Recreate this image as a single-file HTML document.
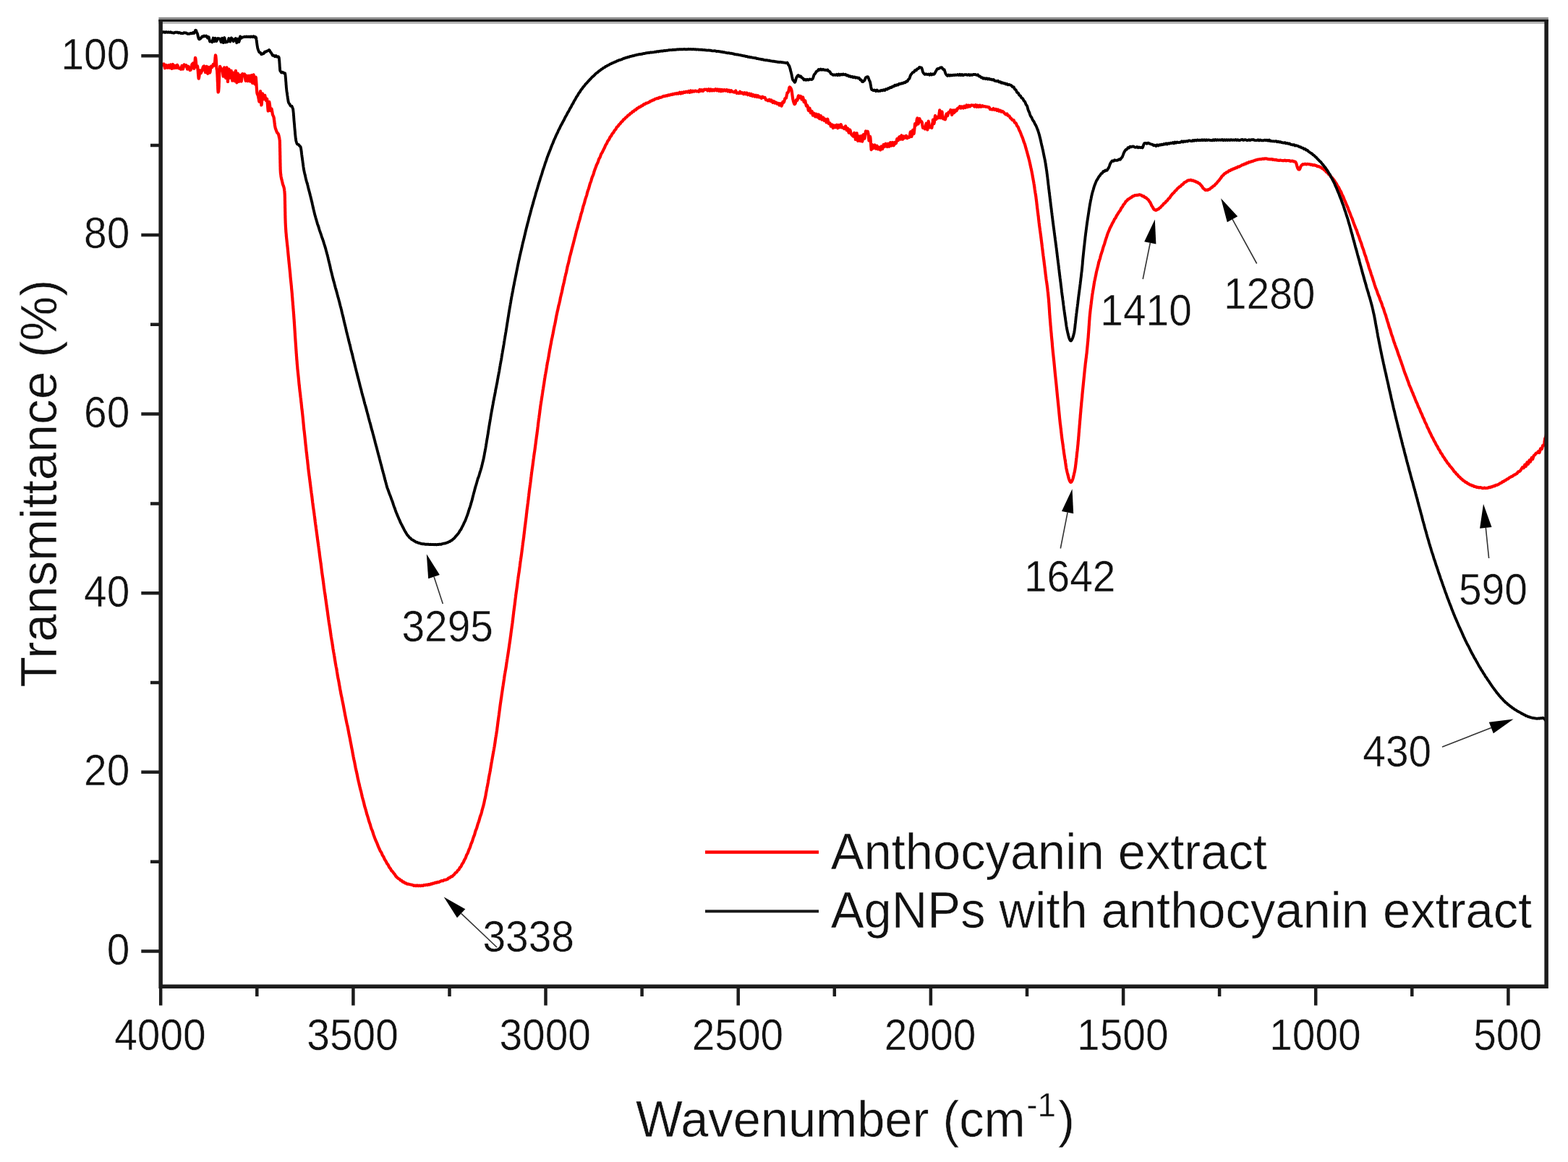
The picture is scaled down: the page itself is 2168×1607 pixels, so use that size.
<!DOCTYPE html>
<html lang="en"><head><meta charset="utf-8"><title>FTIR spectra</title>
<style>html,body{margin:0;padding:0;background:#fff;}svg{display:block;filter:blur(0.55px);}text{font-family:"Liberation Sans", Arial, Helvetica, sans-serif;fill:#111111;stroke:#fff;stroke-width:0.5px;}</style></head><body>
<svg width="2168" height="1607" viewBox="0 0 2168 1607">
<rect x="0" y="0" width="2168" height="1607" fill="#ffffff"/>
<g>
<text transform="translate(221.4,1452.0) scale(0.94,1)" font-size="60.5px" text-anchor="middle">4000</text>
<text transform="translate(487.6,1452.0) scale(0.94,1)" font-size="60.5px" text-anchor="middle">3500</text>
<text transform="translate(753.7,1452.0) scale(0.94,1)" font-size="60.5px" text-anchor="middle">3000</text>
<text transform="translate(1019.9,1452.0) scale(0.94,1)" font-size="60.5px" text-anchor="middle">2500</text>
<text transform="translate(1286.1,1452.0) scale(0.94,1)" font-size="60.5px" text-anchor="middle">2000</text>
<text transform="translate(1552.3,1452.0) scale(0.94,1)" font-size="60.5px" text-anchor="middle">1500</text>
<text transform="translate(1818.4,1452.0) scale(0.94,1)" font-size="60.5px" text-anchor="middle">1000</text>
<text transform="translate(2084.6,1452.0) scale(0.94,1)" font-size="60.5px" text-anchor="middle">500</text>
<text transform="translate(179.3,1333.9) scale(0.94,1)" font-size="60.5px" text-anchor="end">0</text>
<text transform="translate(179.3,1086.2) scale(0.94,1)" font-size="60.5px" text-anchor="end">20</text>
<text transform="translate(179.3,838.6) scale(0.94,1)" font-size="60.5px" text-anchor="end">40</text>
<text transform="translate(179.3,590.9) scale(0.94,1)" font-size="60.5px" text-anchor="end">60</text>
<text transform="translate(179.3,343.3) scale(0.94,1)" font-size="60.5px" text-anchor="end">80</text>
<text transform="translate(179.3,95.6) scale(0.94,1)" font-size="60.5px" text-anchor="end">100</text>
<text transform="translate(555.5,886.5) scale(0.94,1)" font-size="60.5px" text-anchor="start">3295</text>
<text transform="translate(667.5,1315.5) scale(0.94,1)" font-size="60.5px" text-anchor="start">3338</text>
<text transform="translate(1416.0,818.0) scale(0.94,1)" font-size="60.5px" text-anchor="start">1642</text>
<text transform="translate(1521.3,450.3) scale(0.94,1)" font-size="60.5px" text-anchor="start">1410</text>
<text transform="translate(1692.0,427.0) scale(0.94,1)" font-size="60.5px" text-anchor="start">1280</text>
<text transform="translate(2017.0,835.5) scale(0.94,1)" font-size="60.5px" text-anchor="start">590</text>
<text transform="translate(1884.3,1059.5) scale(0.94,1)" font-size="60.5px" text-anchor="start">430</text>
<text transform="translate(879.0,1571.5) scale(0.98,1)" font-size="70.0px" text-anchor="start">Wavenumber (cm<tspan font-size="47px" dy="-27.5" dx="1.5">-1</tspan><tspan dy="27.5" dx="3">)</tspan></text>
<text transform="translate(78.0,668.6) rotate(-90) scale(0.991,1)" font-size="70.0px" text-anchor="middle">Transmittance (%)</text>
<text transform="translate(1148.8,1202.0) scale(0.981,1)" font-size="70.0px" text-anchor="start">Anthocyanin extract</text>
<text transform="translate(1148.8,1283.0) scale(0.981,1)" font-size="70.0px" text-anchor="start">AgNPs with anthocyanin extract</text>
</g>
<clipPath id="pc"><rect x="222.15" y="28.4" width="1915.9499999999998" height="1335.85"/></clipPath>
<g clip-path="url(#pc)" fill="none" stroke-linejoin="round" stroke-linecap="butt">
<path d="M222.0,90.2 L222.5,89.6 L223.0,88.9 L223.5,88.3 L224.0,88.7 L224.5,89.3 L225.0,89.8 L226.0,89.1 L226.5,88.6 L227.0,89.9 L227.5,92.1 L228.0,94.3 L229.0,92.0 L229.5,90.0 L230.5,91.5 L231.0,93.3 L231.5,93.8 L232.0,92.4 L232.5,91.0 L233.0,90.3 L233.5,91.6 L234.0,93.0 L234.5,93.8 L235.0,92.2 L235.5,90.7 L236.0,89.4 L236.5,91.2 L237.0,93.1 L237.5,94.9 L238.0,93.0 L238.5,91.0 L239.0,89.0 L239.5,90.4 L240.0,92.2 L240.5,94.1 L241.0,93.5 L241.5,92.2 L242.0,90.8 L242.5,91.2 L243.0,92.6 L243.5,93.9 L244.0,93.5 L244.5,91.6 L245.0,89.8 L246.0,91.4 L246.5,93.3 L247.0,94.4 L248.0,94.1 L249.0,94.8 L249.5,95.5 L250.0,95.8 L250.5,94.1 L251.0,92.4 L251.5,90.9 L252.0,92.4 L252.5,94.0 L253.0,95.5 L253.5,93.6 L254.0,91.5 L254.5,89.4 L255.0,89.7 L255.5,90.5 L256.0,91.3 L257.0,90.7 L257.5,90.2 L258.0,91.4 L258.5,93.5 L259.0,95.6 L260.0,93.7 L260.5,91.8 L261.5,93.7 L262.0,95.8 L262.5,97.1 L263.5,96.7 L264.0,96.0 L264.5,93.7 L265.0,91.4 L265.4,89.2 L265.9,88.6 L266.4,88.0 L266.9,87.4 L267.4,89.7 L267.9,92.3 L268.2,94.1 L268.4,94.8 L268.7,93.1 L268.8,91.9 L268.9,90.8 L269.0,89.7 L269.1,88.6 L269.3,87.5 L269.4,86.4 L269.5,85.3 L269.6,84.2 L269.7,83.0 L269.8,81.8 L269.9,80.5 L270.1,79.9 L270.4,81.0 L270.7,83.4 L270.9,84.9 L271.0,86.2 L271.1,87.4 L271.2,88.5 L271.3,89.6 L271.4,90.7 L271.5,91.8 L271.6,92.6 L272.0,92.1 L272.4,91.5 L273.0,91.3 L273.3,92.8 L273.4,93.7 L273.4,94.7 L273.5,95.7 L273.6,96.7 L273.7,97.7 L273.8,98.8 L273.9,99.8 L273.9,100.8 L274.0,101.9 L274.1,102.9 L274.2,104.0 L274.3,105.1 L274.4,106.3 L274.5,107.5 L274.7,108.7 L275.0,107.9 L275.2,106.8 L275.6,104.3 L275.8,102.2 L276.0,100.8 L276.1,99.5 L276.2,98.3 L276.3,97.3 L276.6,97.9 L277.0,98.5 L277.3,99.2 L277.5,99.8 L277.8,101.2 L278.2,100.3 L278.7,99.1 L279.2,98.1 L279.7,96.5 L280.2,94.7 L280.7,92.9 L281.2,91.9 L282.1,91.5 L282.6,92.5 L283.1,95.4 L283.6,98.4 L284.1,100.1 L284.6,97.2 L285.1,94.2 L285.6,91.9 L286.1,95.2 L286.6,98.5 L287.1,101.8 L287.6,99.1 L288.1,95.9 L288.5,92.8 L289.0,94.5 L289.5,97.6 L290.0,100.7 L290.5,99.6 L291.0,96.1 L291.5,92.7 L292.0,91.6 L292.5,92.5 L293.0,93.3 L293.9,92.1 L294.2,90.8 L294.6,89.6 L294.9,88.8 L295.6,89.8 L296.1,90.5 L296.6,89.8 L296.7,88.9 L296.8,88.1 L296.9,87.4 L297.0,86.0 L297.2,84.6 L297.3,83.2 L297.4,81.9 L297.5,80.5 L297.6,79.2 L297.8,77.8 L297.9,76.4 L298.3,77.1 L298.5,78.9 L298.7,81.0 L298.8,82.4 L298.9,83.6 L299.0,84.7 L299.0,85.7 L299.1,86.7 L299.1,87.7 L299.2,88.6 L299.2,89.5 L299.3,90.4 L299.3,91.3 L299.4,92.1 L299.4,93.0 L299.5,93.9 L299.5,94.7 L299.7,95.4 L299.8,96.1 L300.0,96.8 L300.1,97.7 L300.2,98.5 L300.2,99.4 L300.3,100.4 L300.3,101.4 L300.4,102.4 L300.5,103.5 L300.5,104.6 L300.6,105.6 L300.6,106.7 L300.7,107.8 L300.7,108.9 L300.7,110.0 L300.8,111.0 L300.8,112.1 L300.9,113.2 L301.0,114.2 L301.0,115.2 L301.1,116.6 L301.1,118.0 L301.2,119.5 L301.2,121.1 L301.2,121.9 L301.3,122.7 L301.3,123.7 L301.4,124.7 L301.5,126.1 L301.6,127.5 L302.0,126.9 L302.2,126.1 L302.3,125.1 L302.3,124.4 L302.4,123.6 L302.5,122.8 L302.5,122.0 L302.6,121.1 L302.7,119.6 L302.7,118.1 L302.7,117.3 L302.7,116.5 L302.8,115.7 L302.8,115.0 L302.8,114.2 L302.9,113.4 L302.9,112.6 L302.9,111.8 L302.9,111.0 L303.0,110.1 L303.0,109.3 L303.0,108.5 L303.1,107.6 L303.1,106.7 L303.1,105.8 L303.2,104.9 L303.2,103.9 L303.3,102.8 L303.3,101.7 L303.4,100.3 L303.7,96.2 L304.2,91.8 L304.7,93.0 L305.2,94.3 L305.7,95.5 L306.7,95.3 L307.7,98.5 L308.2,102.1 L308.7,105.6 L309.2,102.9 L309.7,98.2 L310.1,93.4 L310.6,94.8 L311.1,100.6 L311.6,106.4 L312.1,107.8 L312.6,102.3 L313.1,96.8 L313.5,93.4 L314.0,100.0 L314.5,106.5 L315.0,113.0 L315.4,108.0 L315.9,101.8 L316.4,95.6 L316.9,96.5 L317.3,101.2 L317.8,106.0 L318.3,107.6 L318.8,104.0 L319.2,100.4 L319.7,97.9 L320.2,102.5 L320.7,107.0 L321.2,111.6 L321.6,108.5 L322.1,104.5 L322.6,100.6 L323.1,102.5 L323.5,107.1 L324.0,111.8 L324.5,112.1 L325.0,106.7 L325.5,101.3 L325.9,97.9 L326.4,103.3 L326.9,108.8 L327.4,114.3 L327.9,110.4 L328.3,105.9 L328.8,101.5 L329.3,103.7 L329.8,108.3 L330.3,112.9 L331.2,109.3 L331.7,105.5 L332.2,104.0 L332.7,107.2 L333.2,110.4 L333.7,112.5 L334.2,109.0 L334.7,105.5 L335.2,102.1 L335.7,102.6 L336.2,103.2 L336.7,103.8 L337.1,103.4 L337.6,102.9 L338.1,102.4 L338.6,105.0 L339.1,108.4 L339.6,111.8 L340.1,110.8 L340.6,107.7 L341.1,104.6 L341.6,105.2 L342.1,108.6 L342.6,112.1 L343.6,109.1 L344.1,105.8 L344.6,104.8 L345.1,107.9 L345.6,111.0 L346.1,112.6 L346.6,109.4 L347.1,106.3 L347.6,104.1 L348.1,107.7 L348.6,111.3 L349.1,114.9 L349.6,111.1 L350.1,107.1 L350.6,103.3 L351.0,106.3 L351.5,110.8 L351.9,115.1 L352.4,116.3 L352.8,112.9 L353.1,110.0 L353.3,108.4 L353.5,107.4 L353.6,106.6 L353.9,107.7 L354.0,109.2 L354.1,110.6 L354.2,112.0 L354.3,113.4 L354.4,114.8 L354.5,116.1 L354.6,117.4 L354.6,118.7 L354.7,120.0 L354.8,121.3 L354.9,122.7 L355.0,124.0 L355.1,125.3 L355.2,126.6 L355.3,128.0 L355.5,129.0 L355.7,129.8 L355.9,130.4 L356.2,131.0 L356.6,131.6 L356.9,132.2 L357.0,133.2 L357.2,134.1 L357.4,135.0 L357.5,136.0 L357.7,136.9 L357.9,137.8 L358.0,138.8 L358.2,139.7 L358.4,140.7 L358.6,139.2 L358.8,137.5 L358.9,135.7 L359.1,133.9 L359.3,132.0 L359.5,130.0 L359.7,128.0 L360.0,126.0 L360.2,129.0 L360.4,132.1 L360.6,135.2 L360.9,138.5 L361.1,141.9 L361.4,145.5 L361.7,144.5 L362.0,141.1 L362.3,137.4 L362.7,133.5 L363.0,129.4 L363.4,130.8 L363.8,132.9 L364.1,135.0 L364.5,137.1 L364.9,136.2 L365.3,134.7 L365.8,133.2 L366.2,131.8 L366.6,133.7 L367.0,135.6 L367.4,137.4 L367.8,138.9 L368.1,138.3 L368.5,137.8 L368.9,137.2 L369.2,136.7 L369.6,140.8 L370.0,145.1 L370.3,149.4 L370.7,153.5 L371.0,152.8 L371.4,149.7 L371.7,146.6 L372.0,143.7 L372.3,140.9 L372.6,142.4 L372.9,144.7 L373.2,146.9 L373.4,149.0 L373.7,151.2 L373.9,152.9 L374.4,151.9 L374.9,151.0 L375.3,150.3 L375.7,151.1 L375.8,152.0 L376.0,153.0 L376.2,154.0 L376.3,154.9 L376.5,155.9 L376.7,156.8 L376.8,157.7 L377.0,158.6 L377.2,159.2 L377.7,160.0 L378.0,160.8 L378.3,161.3 L378.5,162.0 L378.7,163.0 L378.8,164.2 L379.0,165.4 L379.2,166.7 L379.3,167.9 L379.5,169.1 L379.6,170.3 L379.8,171.5 L379.9,172.8 L380.1,174.0 L380.3,174.8 L380.4,175.6 L380.6,176.4 L380.8,177.2 L381.0,178.0 L381.3,178.8 L381.6,179.4 L381.9,180.5 L382.4,181.6 L382.6,182.2 L382.9,182.8 L383.1,183.4 L383.7,183.9 L384.2,184.4 L384.7,185.0 L385.1,186.1 L385.4,187.3 L385.7,188.4 L385.9,189.6 L386.2,190.7 L386.4,191.7 L386.5,192.6 L386.7,193.5 L386.8,194.4 L386.8,195.4 L386.9,196.4 L386.9,197.3 L386.9,198.3 L386.9,199.3 L387.0,200.3 L387.0,201.3 L387.0,202.3 L387.0,203.2 L387.0,204.2 L387.1,205.2 L387.1,206.2 L387.1,207.2 L387.1,208.2 L387.1,209.2 L387.2,210.1 L387.2,211.1 L387.2,212.1 L387.2,213.1 L387.2,214.1 L387.3,215.1 L387.3,216.1 L387.3,217.1 L387.3,218.0 L387.3,219.0 L387.3,220.0 L387.4,221.0 L387.4,222.0 L387.4,223.0 L387.4,224.0 L387.4,225.0 L387.5,225.9 L387.5,226.9 L387.5,227.9 L387.5,228.9 L387.5,229.9 L387.6,230.9 L387.6,231.9 L387.6,232.8 L387.6,233.8 L387.7,234.8 L387.7,235.8 L387.8,236.7 L387.8,237.7 L387.9,238.7 L388.0,239.7 L388.1,240.7 L388.3,241.7 L388.4,242.8 L388.5,243.8 L388.7,244.8 L388.9,245.8 L389.1,246.9 L389.3,247.9 L389.6,248.9 L389.9,249.9 L390.1,251.0 L390.4,252.0 L390.6,253.0 L390.8,254.1 L391.1,255.1 L391.4,255.9 L391.7,256.7 L392.0,257.6 L392.3,258.4 L392.6,259.3 L392.8,260.3 L393.0,261.3 L393.1,262.3 L393.2,263.3 L393.4,264.3 L393.5,265.3 L393.5,266.2 L393.6,267.2 L393.7,268.2 L393.7,269.2 L393.8,270.2 L393.8,271.2 L393.8,272.2 L393.9,273.2 L393.9,274.2 L393.9,275.2 L393.9,276.2 L393.9,277.2 L394.0,278.2 L394.0,279.2 L394.0,280.2 L394.0,281.2 L394.0,282.2 L394.1,283.2 L394.1,284.2 L394.1,285.2 L394.1,286.3 L394.1,287.3 L394.2,288.3 L394.2,289.3 L394.2,290.3 L394.2,291.3 L394.2,292.3 L394.3,293.3 L394.3,294.3 L394.3,295.3 L394.3,296.3 L394.3,297.4 L394.4,298.4 L394.4,299.4 L394.4,300.4 L394.4,301.4 L394.5,302.4 L394.5,303.4 L394.5,304.4 L394.6,305.5 L394.6,306.5 L394.6,307.5 L394.7,308.5 L394.7,309.5 L394.8,310.6 L394.8,311.6 L394.9,312.6 L394.9,313.6 L395.0,314.7 L395.1,315.7 L395.1,316.7 L395.2,317.7 L395.3,318.8 L395.3,319.8 L395.4,320.8 L395.5,321.9 L395.6,322.9 L395.7,323.9 L395.8,324.8 L395.8,325.8 L395.9,326.7 L396.0,327.6 L396.1,328.6 L396.2,329.5 L396.3,330.4 L396.4,331.4 L396.5,332.3 L396.6,333.3 L396.7,334.2 L396.8,335.1 L396.9,336.1 L397.0,337.0 L397.1,337.9 L397.2,339.0 L397.3,340.0 L397.5,341.1 L397.6,342.2 L397.7,343.2 L397.8,344.3 L397.9,345.3 L398.0,346.4 L398.1,347.5 L398.2,348.5 L398.3,349.6 L398.4,350.6 L398.5,351.7 L398.6,352.8 L398.7,353.8 L398.8,354.8 L398.9,355.8 L399.0,356.8 L399.1,357.8 L399.2,358.8 L399.3,359.8 L399.4,360.7 L399.5,361.7 L399.6,362.7 L399.7,363.7 L399.8,364.7 L399.9,365.6 L400.0,366.6 L400.1,367.6 L400.2,368.6 L400.3,369.6 L400.4,370.6 L400.5,371.6 L400.6,372.6 L400.7,373.5 L400.8,374.5 L400.9,375.5 L401.0,376.5 L401.1,377.5 L401.2,378.5 L401.3,379.5 L401.4,380.5 L401.4,381.5 L401.5,382.5 L401.6,383.5 L401.7,384.5 L401.8,385.5 L401.9,386.4 L402.0,387.4 L402.1,388.3 L402.2,389.3 L402.3,390.2 L402.4,391.2 L402.5,392.1 L402.6,393.1 L402.7,394.1 L402.8,395.0 L402.9,396.0 L403.0,396.9 L403.0,397.9 L403.1,398.8 L403.2,399.8 L403.3,400.8 L403.4,401.8 L403.5,402.8 L403.6,403.9 L403.7,404.9 L403.8,405.9 L403.9,407.0 L403.9,408.0 L404.0,409.1 L404.1,410.1 L404.2,411.2 L404.3,412.2 L404.4,413.2 L404.4,414.3 L404.5,415.3 L404.6,416.4 L404.7,417.4 L404.8,418.4 L404.9,419.5 L404.9,420.5 L405.0,421.4 L405.1,422.4 L405.2,423.3 L405.3,424.3 L405.3,425.3 L405.4,426.2 L405.5,427.2 L405.6,428.1 L405.6,429.1 L405.7,430.1 L405.8,431.0 L405.9,432.0 L405.9,432.9 L406.0,433.9 L406.1,434.8 L406.2,435.8 L406.2,436.8 L406.3,437.7 L406.4,438.7 L406.4,439.6 L406.5,440.7 L406.6,441.7 L406.7,442.7 L406.7,443.7 L406.8,444.8 L406.9,445.8 L406.9,446.8 L407.0,447.9 L407.1,448.9 L407.1,449.9 L407.2,450.9 L407.3,452.0 L407.3,453.0 L407.4,454.0 L407.5,455.0 L407.5,456.1 L407.6,457.1 L407.7,458.1 L407.7,459.1 L407.8,460.2 L407.9,461.2 L407.9,462.2 L408.0,463.2 L408.0,464.2 L408.1,465.2 L408.2,466.2 L408.2,467.1 L408.3,468.1 L408.4,469.0 L408.4,470.0 L408.5,471.0 L408.6,471.9 L408.6,472.9 L408.7,473.9 L408.8,474.8 L408.8,475.8 L408.9,476.8 L409.0,477.7 L409.0,478.7 L409.1,479.6 L409.2,480.6 L409.2,481.6 L409.3,482.5 L409.4,483.5 L409.4,484.5 L409.5,485.4 L409.6,486.4 L409.6,487.4 L409.7,488.5 L409.8,489.5 L409.9,490.5 L409.9,491.6 L410.0,492.6 L410.1,493.6 L410.2,494.7 L410.2,495.7 L410.3,496.8 L410.4,497.8 L410.5,498.8 L410.6,499.9 L410.7,500.9 L410.7,501.9 L410.8,503.0 L410.9,504.0 L411.0,505.1 L411.1,506.1 L411.2,507.1 L411.3,508.0 L411.3,509.0 L411.4,509.9 L411.5,510.9 L411.6,511.8 L411.7,512.7 L411.8,513.7 L411.9,514.6 L412.0,515.6 L412.1,516.5 L412.2,517.5 L412.3,518.4 L412.4,519.3 L412.5,520.3 L412.6,521.2 L412.7,522.2 L412.8,523.3 L412.9,524.3 L413.0,525.4 L413.1,526.5 L413.2,527.5 L413.3,528.6 L413.4,529.7 L413.5,530.8 L413.6,531.8 L413.7,532.9 L413.9,534.0 L414.0,535.0 L414.1,536.1 L414.2,537.2 L414.3,538.1 L414.4,539.1 L414.5,540.0 L414.6,540.9 L414.7,541.9 L414.9,542.8 L415.0,543.7 L415.1,544.7 L415.2,545.6 L415.3,546.5 L415.4,547.5 L415.5,548.4 L415.6,549.3 L415.8,550.3 L415.9,551.3 L416.0,552.4 L416.1,553.4 L416.2,554.5 L416.3,555.5 L416.4,556.5 L416.6,557.6 L416.7,558.6 L416.8,559.7 L416.9,560.7 L417.0,561.8 L417.1,562.8 L417.2,563.9 L417.3,564.9 L417.4,565.8 L417.6,566.7 L417.7,567.7 L417.8,568.6 L417.9,569.5 L418.0,570.4 L418.1,571.4 L418.2,572.3 L418.3,573.2 L418.4,574.1 L418.5,575.1 L418.6,576.0 L418.7,576.9 L418.8,577.9 L418.9,578.9 L419.0,580.0 L419.1,581.0 L419.2,582.1 L419.3,583.2 L419.4,584.2 L419.5,585.3 L419.6,586.4 L419.7,587.4 L419.8,588.5 L419.9,589.6 L420.0,590.6 L420.1,591.7 L420.2,592.8 L420.3,593.8 L420.4,594.9 L420.6,595.8 L420.7,596.7 L420.8,597.6 L420.9,598.6 L421.0,599.5 L421.1,600.4 L421.2,601.4 L421.3,602.3 L421.4,603.2 L421.5,604.2 L421.6,605.1 L421.7,606.0 L421.8,607.0 L421.9,607.9 L422.0,608.9 L422.1,609.9 L422.2,611.0 L422.3,612.0 L422.4,613.0 L422.5,614.1 L422.6,615.1 L422.7,616.2 L422.9,617.2 L423.0,618.2 L423.1,619.3 L423.2,620.3 L423.3,621.4 L423.4,622.4 L423.5,623.4 L423.6,624.4 L423.7,625.3 L423.8,626.2 L424.0,627.2 L424.1,628.1 L424.2,629.0 L424.3,630.0 L424.4,630.9 L424.5,631.8 L424.6,632.8 L424.7,633.7 L424.8,634.6 L425.0,635.5 L425.1,636.5 L425.2,637.6 L425.3,638.7 L425.4,639.7 L425.5,640.8 L425.6,641.9 L425.8,643.0 L425.9,644.0 L426.0,645.1 L426.1,646.2 L426.2,647.3 L426.3,648.4 L426.5,649.4 L426.6,650.5 L426.7,651.5 L426.8,652.4 L426.9,653.3 L427.1,654.2 L427.2,655.2 L427.3,656.1 L427.4,657.0 L427.5,657.9 L427.7,658.8 L427.8,659.8 L427.9,660.7 L428.0,661.6 L428.1,662.5 L428.3,663.5 L428.4,664.5 L428.5,665.5 L428.6,666.5 L428.8,667.5 L428.9,668.5 L429.0,669.5 L429.1,670.5 L429.3,671.5 L429.4,672.5 L429.5,673.5 L429.6,674.5 L429.8,675.5 L429.9,676.5 L430.0,677.4 L430.1,678.4 L430.3,679.4 L430.4,680.3 L430.5,681.3 L430.7,682.3 L430.8,683.3 L430.9,684.2 L431.1,685.2 L431.2,686.2 L431.3,687.2 L431.5,688.3 L431.6,689.4 L431.7,690.4 L431.8,691.5 L432.0,692.6 L432.1,693.7 L432.2,694.8 L432.4,695.8 L432.5,696.9 L432.6,698.0 L432.8,699.1 L432.9,700.0 L433.0,701.0 L433.2,701.9 L433.3,702.8 L433.4,703.7 L433.6,704.6 L433.7,705.5 L433.8,706.4 L434.0,707.4 L434.1,708.3 L434.2,709.2 L434.4,710.1 L434.5,711.2 L434.6,712.3 L434.8,713.3 L434.9,714.4 L435.0,715.4 L435.2,716.5 L435.3,717.6 L435.4,718.6 L435.6,719.7 L435.7,720.8 L435.8,721.8 L436.0,722.8 L436.1,723.8 L436.2,724.8 L436.4,725.8 L436.5,726.7 L436.6,727.7 L436.8,728.7 L436.9,729.7 L437.0,730.6 L437.2,731.6 L437.3,732.6 L437.4,733.6 L437.6,734.6 L437.7,735.6 L437.8,736.6 L438.0,737.6 L438.1,738.6 L438.2,739.6 L438.4,740.6 L438.5,741.6 L438.6,742.6 L438.8,743.6 L438.9,744.6 L439.0,745.6 L439.1,746.5 L439.3,747.4 L439.4,748.4 L439.5,749.3 L439.7,750.2 L439.8,751.1 L439.9,752.1 L440.1,753.0 L440.2,753.9 L440.3,754.8 L440.5,755.8 L440.6,756.7 L440.7,757.8 L440.9,758.8 L441.0,759.9 L441.1,760.9 L441.3,761.9 L441.4,763.0 L441.5,764.0 L441.7,765.1 L441.8,766.1 L441.9,767.2 L442.0,768.2 L442.2,769.2 L442.3,770.1 L442.4,771.1 L442.6,772.0 L442.7,772.9 L442.8,773.9 L443.0,774.8 L443.1,775.7 L443.2,776.7 L443.4,777.6 L443.5,778.5 L443.6,779.5 L443.8,780.5 L443.9,781.6 L444.0,782.7 L444.2,783.7 L444.3,784.8 L444.4,785.9 L444.6,786.9 L444.7,788.0 L444.8,789.1 L445.0,790.1 L445.1,791.2 L445.2,792.3 L445.4,793.2 L445.5,794.1 L445.6,795.0 L445.8,795.9 L445.9,796.9 L446.0,797.8 L446.2,798.7 L446.3,799.6 L446.4,800.5 L446.6,801.5 L446.7,802.4 L446.8,803.4 L447.0,804.4 L447.1,805.4 L447.2,806.5 L447.4,807.5 L447.5,808.6 L447.6,809.6 L447.8,810.6 L447.9,811.7 L448.0,812.7 L448.2,813.8 L448.3,814.8 L448.5,815.7 L448.6,816.7 L448.7,817.6 L448.9,818.5 L449.0,819.4 L449.1,820.4 L449.3,821.3 L449.4,822.2 L449.6,823.2 L449.7,824.1 L449.8,825.0 L450.0,826.0 L450.1,827.0 L450.2,828.1 L450.4,829.1 L450.5,830.1 L450.7,831.1 L450.8,832.1 L450.9,833.1 L451.1,834.1 L451.2,835.1 L451.4,836.1 L451.5,837.1 L451.6,838.1 L451.8,839.1 L451.9,840.0 L452.1,841.0 L452.2,842.0 L452.4,843.0 L452.5,844.0 L452.6,844.9 L452.8,845.9 L452.9,846.9 L453.1,847.9 L453.2,849.0 L453.3,850.0 L453.5,851.0 L453.6,852.1 L453.8,853.1 L453.9,854.2 L454.1,855.2 L454.2,856.3 L454.4,857.3 L454.5,858.4 L454.6,859.3 L454.8,860.2 L454.9,861.1 L455.1,862.1 L455.2,863.0 L455.4,863.9 L455.5,864.8 L455.7,865.7 L455.8,866.7 L456.0,867.6 L456.1,868.6 L456.3,869.6 L456.4,870.7 L456.6,871.8 L456.7,872.9 L456.9,874.0 L457.0,875.0 L457.2,876.1 L457.3,877.2 L457.5,878.3 L457.6,879.3 L457.8,880.2 L457.9,881.1 L458.1,882.0 L458.2,882.9 L458.4,883.8 L458.5,884.7 L458.7,885.6 L458.8,886.5 L459.0,887.4 L459.2,888.3 L459.3,889.4 L459.5,890.4 L459.6,891.5 L459.8,892.6 L460.0,893.6 L460.1,894.7 L460.3,895.8 L460.4,896.8 L460.6,897.9 L460.8,898.9 L460.9,899.8 L461.1,900.7 L461.2,901.6 L461.4,902.6 L461.6,903.5 L461.7,904.4 L461.9,905.3 L462.1,906.2 L462.2,907.1 L462.4,908.2 L462.5,909.2 L462.7,910.3 L462.9,911.4 L463.0,912.5 L463.2,913.5 L463.4,914.6 L463.6,915.7 L463.7,916.8 L463.9,917.7 L464.1,918.6 L464.2,919.5 L464.4,920.4 L464.6,921.2 L464.7,922.1 L464.9,923.0 L465.1,923.8 L465.3,924.7 L465.4,925.7 L465.6,926.8 L465.8,927.9 L465.9,929.0 L466.1,930.2 L466.3,931.3 L466.5,932.4 L466.6,933.5 L466.8,934.6 L467.0,935.6 L467.2,936.5 L467.3,937.4 L467.5,938.2 L467.7,939.1 L467.9,940.0 L468.1,940.9 L468.2,941.7 L468.4,942.6 L468.6,943.6 L468.8,944.7 L468.9,945.7 L469.1,946.8 L469.3,947.9 L469.5,948.9 L469.7,950.0 L469.9,951.0 L470.0,952.1 L470.2,953.1 L470.4,954.1 L470.6,955.0 L470.8,956.0 L471.0,957.0 L471.1,958.0 L471.3,959.0 L471.5,960.0 L471.7,960.9 L471.9,961.8 L472.1,962.7 L472.3,963.6 L472.5,964.5 L472.7,965.4 L472.8,966.3 L473.0,967.2 L473.2,968.1 L473.4,969.1 L473.6,970.1 L473.8,971.1 L474.0,972.0 L474.2,973.0 L474.4,974.0 L474.6,974.9 L474.8,976.0 L475.0,977.1 L475.2,978.2 L475.4,979.3 L475.6,980.4 L475.8,981.5 L476.0,982.6 L476.2,983.7 L476.4,984.7 L476.6,985.6 L476.8,986.6 L476.9,987.6 L477.1,988.5 L477.3,989.5 L477.5,990.4 L477.7,991.4 L477.9,992.4 L478.1,993.4 L478.3,994.4 L478.5,995.4 L478.7,996.4 L478.9,997.4 L479.1,998.4 L479.3,999.3 L479.5,1000.2 L479.7,1001.0 L479.9,1001.9 L480.1,1002.7 L480.3,1003.6 L480.5,1004.4 L480.7,1005.3 L480.9,1006.2 L481.1,1007.3 L481.3,1008.4 L481.5,1009.5 L481.7,1010.6 L481.9,1011.6 L482.1,1012.7 L482.3,1013.8 L482.5,1014.8 L482.7,1015.8 L482.9,1016.8 L483.1,1017.8 L483.3,1018.7 L483.5,1019.7 L483.7,1020.7 L483.9,1021.7 L484.1,1022.6 L484.2,1023.6 L484.4,1024.6 L484.6,1025.6 L484.8,1026.6 L485.0,1027.6 L485.2,1028.6 L485.4,1029.6 L485.6,1030.6 L485.8,1031.6 L485.9,1032.5 L486.1,1033.5 L486.3,1034.5 L486.5,1035.4 L486.7,1036.4 L486.9,1037.4 L487.1,1038.3 L487.3,1039.4 L487.4,1040.4 L487.6,1041.4 L487.8,1042.4 L488.0,1043.5 L488.2,1044.5 L488.4,1045.5 L488.6,1046.6 L488.8,1047.5 L488.9,1048.3 L489.1,1049.2 L489.3,1050.1 L489.5,1051.0 L489.7,1051.8 L489.9,1052.7 L490.1,1053.6 L490.3,1054.6 L490.5,1055.7 L490.7,1056.8 L490.9,1057.8 L491.1,1058.9 L491.3,1060.0 L491.5,1061.1 L491.7,1062.2 L491.9,1063.1 L492.1,1063.9 L492.3,1064.8 L492.5,1065.7 L492.7,1066.6 L492.9,1067.4 L493.1,1068.3 L493.3,1069.2 L493.5,1070.3 L493.8,1071.4 L494.0,1072.5 L494.2,1073.5 L494.4,1074.6 L494.6,1075.7 L494.8,1076.7 L495.0,1077.7 L495.3,1078.6 L495.5,1079.6 L495.7,1080.6 L495.9,1081.5 L496.2,1082.5 L496.4,1083.4 L496.6,1084.4 L496.8,1085.4 L497.1,1086.4 L497.3,1087.4 L497.5,1088.3 L497.8,1089.3 L498.0,1090.3 L498.2,1091.1 L498.4,1092.0 L498.7,1092.8 L498.9,1093.7 L499.2,1094.6 L499.4,1095.4 L499.6,1096.4 L499.9,1097.6 L500.1,1098.7 L500.3,1099.8 L500.6,1100.9 L500.8,1102.0 L501.1,1103.0 L501.3,1103.9 L501.6,1104.7 L501.8,1105.5 L502.0,1106.4 L502.3,1107.2 L502.5,1108.1 L502.8,1109.2 L503.1,1110.3 L503.3,1111.4 L503.6,1112.5 L503.8,1113.6 L504.1,1114.7 L504.3,1115.6 L504.6,1116.4 L504.9,1117.2 L505.1,1118.0 L505.4,1118.9 L505.7,1119.7 L505.9,1120.8 L506.2,1121.9 L506.5,1122.9 L506.8,1124.0 L507.0,1125.1 L507.3,1126.1 L507.6,1126.9 L507.9,1127.7 L508.2,1128.6 L508.4,1129.4 L508.7,1130.2 L509.0,1131.3 L509.3,1132.4 L509.6,1133.5 L509.9,1134.6 L510.2,1135.7 L510.5,1136.6 L510.8,1137.4 L511.1,1138.2 L511.4,1139.0 L511.7,1139.8 L512.0,1140.8 L512.3,1142.0 L512.6,1143.1 L513.0,1144.2 L513.3,1145.4 L513.6,1146.2 L513.9,1147.0 L514.3,1147.7 L514.6,1148.4 L514.9,1149.1 L515.2,1150.2 L515.6,1151.3 L515.9,1152.4 L516.2,1153.5 L516.6,1154.6 L516.9,1155.5 L517.3,1156.4 L517.6,1157.4 L518.0,1158.3 L518.3,1159.2 L518.7,1160.2 L519.1,1161.2 L519.4,1162.1 L519.8,1163.0 L520.2,1163.7 L520.5,1164.4 L520.9,1165.2 L521.3,1166.1 L521.7,1167.2 L522.1,1168.3 L522.5,1169.4 L522.9,1170.4 L523.3,1171.3 L523.7,1172.2 L524.1,1173.1 L524.5,1174.0 L525.0,1175.0 L525.4,1176.0 L525.8,1177.0 L526.3,1177.6 L526.7,1178.2 L527.2,1178.8 L527.6,1179.8 L527.8,1180.3 L528.1,1180.9 L528.3,1181.5 L528.5,1182.1 L528.8,1182.6 L529.2,1183.4 L529.7,1184.0 L530.1,1184.6 L530.6,1185.4 L530.8,1186.0 L531.1,1186.6 L531.3,1187.2 L531.6,1187.8 L531.8,1188.4 L532.3,1189.2 L532.8,1189.9 L533.2,1190.5 L533.7,1191.3 L534.0,1191.8 L534.2,1192.4 L534.5,1193.0 L534.7,1193.5 L535.0,1194.1 L535.5,1194.8 L536.0,1195.3 L536.5,1195.8 L537.0,1196.7 L537.2,1197.3 L537.5,1197.9 L537.8,1198.5 L538.0,1199.1 L538.6,1199.9 L539.1,1200.5 L539.7,1201.0 L540.2,1202.0 L540.5,1202.6 L540.8,1203.2 L541.1,1203.7 L541.3,1204.2 L541.9,1204.7 L542.5,1205.1 L543.1,1205.7 L543.7,1206.6 L544.3,1207.5 L544.9,1208.2 L545.6,1209.0 L546.2,1209.9 L546.6,1210.5 L546.9,1211.0 L547.2,1211.6 L547.6,1212.1 L548.2,1212.7 L548.9,1213.3 L549.6,1214.0 L550.4,1214.7 L551.1,1215.1 L551.8,1215.4 L552.6,1216.0 L553.0,1216.5 L553.4,1217.0 L553.8,1217.4 L554.6,1217.6 L555.4,1217.8 L555.8,1218.4 L556.2,1219.0 L556.6,1219.5 L557.5,1219.8 L558.3,1219.7 L558.7,1220.1 L559.2,1220.6 L559.6,1221.2 L560.5,1221.4 L561.4,1221.3 L562.3,1222.1 L562.8,1222.5 L563.7,1222.6 L564.6,1222.5 L565.5,1222.8 L566.5,1223.1 L567.4,1223.3 L568.4,1223.5 L569.4,1223.7 L570.3,1223.8 L571.3,1224.3 L571.8,1224.6 L572.3,1224.9 L573.3,1224.6 L574.3,1224.6 L575.3,1225.2 L576.3,1224.7 L576.7,1224.4 L577.7,1224.8 L578.2,1225.1 L579.2,1224.9 L580.2,1224.6 L581.2,1225.1 L582.2,1224.9 L582.7,1224.6 L583.7,1224.6 L584.7,1225.0 L585.2,1224.7 L585.7,1224.3 L586.2,1223.9 L587.2,1224.2 L588.1,1224.2 L588.6,1223.9 L589.1,1223.6 L590.1,1223.7 L591.1,1223.9 L591.6,1223.6 L592.1,1223.2 L593.0,1223.2 L594.0,1223.5 L594.5,1223.1 L595.0,1222.7 L595.5,1222.3 L596.4,1222.6 L597.4,1222.5 L597.9,1222.0 L598.4,1221.6 L599.4,1221.5 L600.3,1221.7 L600.8,1221.3 L601.3,1220.9 L601.8,1220.6 L602.7,1220.8 L603.7,1220.7 L604.2,1220.2 L604.7,1219.8 L605.6,1219.9 L606.6,1220.1 L607.5,1219.7 L608.5,1219.2 L609.0,1218.9 L609.5,1218.5 L610.4,1218.2 L611.4,1218.1 L612.3,1218.3 L613.2,1217.7 L613.7,1217.3 L614.2,1216.9 L615.1,1217.0 L616.0,1216.9 L616.9,1216.5 L617.8,1216.2 L618.7,1215.9 L619.2,1215.4 L619.6,1214.9 L620.0,1214.4 L620.9,1214.1 L621.8,1214.1 L622.6,1213.3 L623.0,1212.9 L623.4,1212.4 L624.2,1212.3 L625.0,1212.2 L625.8,1211.4 L626.6,1210.6 L627.3,1210.0 L628.1,1209.4 L628.4,1208.9 L628.8,1208.3 L629.2,1207.8 L629.5,1207.3 L630.2,1206.9 L630.9,1206.6 L631.6,1205.8 L631.9,1205.3 L632.2,1204.7 L632.6,1204.2 L633.2,1203.6 L633.8,1203.2 L634.4,1202.7 L634.7,1202.1 L635.0,1201.5 L635.3,1200.9 L635.6,1200.3 L635.9,1199.8 L636.4,1199.3 L637.0,1198.8 L637.5,1198.1 L637.8,1197.5 L638.0,1196.9 L638.3,1196.3 L638.6,1195.7 L638.8,1195.1 L639.3,1194.4 L639.8,1193.8 L640.3,1193.2 L640.8,1192.3 L641.2,1191.2 L641.7,1190.2 L642.1,1189.2 L642.6,1188.4 L643.0,1187.7 L643.5,1187.0 L643.9,1186.0 L644.3,1184.8 L644.7,1183.7 L645.1,1182.5 L645.5,1181.8 L645.9,1181.2 L646.3,1180.5 L646.7,1179.8 L647.1,1178.7 L647.5,1177.6 L647.9,1176.5 L648.3,1175.4 L648.6,1174.6 L649.0,1173.9 L649.4,1173.1 L649.7,1172.3 L650.1,1171.3 L650.4,1170.1 L650.8,1169.0 L651.1,1167.8 L651.5,1166.8 L651.8,1166.1 L652.2,1165.4 L652.5,1164.6 L652.8,1163.9 L653.2,1162.8 L653.5,1161.7 L653.8,1160.5 L654.2,1159.4 L654.5,1158.3 L654.8,1157.6 L655.1,1156.8 L655.5,1156.0 L655.8,1155.2 L656.1,1154.4 L656.4,1153.2 L656.7,1152.1 L657.0,1151.0 L657.3,1149.8 L657.6,1148.8 L657.9,1148.1 L658.3,1147.3 L658.6,1146.6 L658.9,1145.8 L659.2,1145.0 L659.5,1143.9 L659.8,1142.8 L660.1,1141.7 L660.4,1140.6 L660.7,1139.6 L661.0,1138.8 L661.3,1138.0 L661.6,1137.2 L661.9,1136.4 L662.2,1135.6 L662.5,1134.5 L662.8,1133.4 L663.1,1132.2 L663.4,1131.1 L663.7,1129.9 L664.0,1129.1 L664.3,1128.4 L664.6,1127.6 L664.9,1126.8 L665.2,1126.0 L665.5,1125.0 L665.8,1123.8 L666.1,1122.7 L666.3,1121.6 L666.6,1120.4 L666.9,1119.3 L667.1,1118.5 L667.4,1117.6 L667.6,1116.8 L667.9,1116.0 L668.1,1115.1 L668.4,1114.2 L668.6,1113.3 L668.8,1112.3 L669.1,1111.3 L669.3,1110.3 L669.5,1109.3 L669.7,1108.3 L669.9,1107.3 L670.1,1106.4 L670.3,1105.4 L670.6,1104.5 L670.8,1103.5 L671.0,1102.5 L671.2,1101.6 L671.4,1100.6 L671.6,1099.6 L671.7,1098.6 L671.9,1097.5 L672.1,1096.4 L672.3,1095.4 L672.5,1094.3 L672.7,1093.3 L672.9,1092.2 L673.1,1091.1 L673.2,1090.2 L673.4,1089.3 L673.6,1088.4 L673.8,1087.5 L674.0,1086.6 L674.2,1085.7 L674.3,1084.8 L674.5,1083.9 L674.7,1082.9 L674.9,1081.8 L675.0,1080.8 L675.2,1079.7 L675.4,1078.7 L675.6,1077.6 L675.8,1076.6 L675.9,1075.5 L676.1,1074.5 L676.3,1073.5 L676.5,1072.7 L676.6,1071.8 L676.8,1070.9 L677.0,1070.0 L677.2,1069.1 L677.3,1068.2 L677.5,1067.3 L677.7,1066.5 L677.9,1065.4 L678.0,1064.3 L678.2,1063.2 L678.4,1062.1 L678.6,1061.0 L678.7,1060.0 L678.9,1058.9 L679.1,1057.8 L679.3,1056.7 L679.4,1055.7 L679.6,1054.8 L679.8,1053.8 L680.0,1052.8 L680.1,1051.8 L680.3,1050.8 L680.5,1049.9 L680.7,1048.9 L680.8,1047.9 L681.0,1046.9 L681.2,1045.9 L681.4,1044.9 L681.5,1043.9 L681.7,1042.9 L681.9,1042.0 L682.1,1041.0 L682.2,1040.0 L682.4,1039.0 L682.6,1038.1 L682.7,1037.2 L682.9,1036.3 L683.1,1035.3 L683.2,1034.4 L683.4,1033.5 L683.6,1032.6 L683.7,1031.7 L683.9,1030.8 L684.0,1029.7 L684.2,1028.6 L684.4,1027.5 L684.5,1026.5 L684.7,1025.4 L684.8,1024.3 L685.0,1023.2 L685.1,1022.2 L685.3,1021.1 L685.4,1020.0 L685.6,1019.1 L685.7,1018.2 L685.9,1017.4 L686.0,1016.5 L686.2,1015.6 L686.3,1014.7 L686.5,1013.8 L686.6,1012.9 L686.7,1012.0 L686.9,1011.1 L687.0,1010.2 L687.2,1009.1 L687.3,1008.1 L687.4,1007.0 L687.6,1005.9 L687.7,1004.8 L687.9,1003.7 L688.0,1002.7 L688.1,1001.6 L688.3,1000.5 L688.4,999.4 L688.5,998.3 L688.7,997.4 L688.8,996.4 L688.9,995.4 L689.1,994.5 L689.2,993.5 L689.3,992.5 L689.5,991.6 L689.6,990.6 L689.7,989.6 L689.9,988.6 L690.0,987.7 L690.1,986.7 L690.3,985.7 L690.4,984.6 L690.5,983.6 L690.7,982.6 L690.8,981.6 L690.9,980.5 L691.1,979.5 L691.2,978.5 L691.3,977.4 L691.5,976.4 L691.6,975.4 L691.7,974.4 L691.9,973.5 L692.0,972.6 L692.1,971.7 L692.3,970.8 L692.4,969.9 L692.5,968.9 L692.7,968.0 L692.8,967.1 L692.9,966.2 L693.1,965.3 L693.2,964.4 L693.4,963.4 L693.5,962.4 L693.6,961.4 L693.8,960.4 L693.9,959.4 L694.1,958.4 L694.2,957.4 L694.4,956.4 L694.5,955.4 L694.7,954.4 L694.8,953.4 L694.9,952.5 L695.1,951.5 L695.2,950.5 L695.4,949.6 L695.5,948.6 L695.7,947.6 L695.8,946.7 L696.0,945.7 L696.1,944.7 L696.3,943.8 L696.4,942.7 L696.6,941.6 L696.8,940.5 L696.9,939.4 L697.1,938.3 L697.2,937.2 L697.4,936.1 L697.5,935.0 L697.7,934.0 L697.9,932.9 L698.0,932.0 L698.2,931.1 L698.3,930.2 L698.5,929.4 L698.6,928.5 L698.8,927.6 L699.0,926.7 L699.1,925.9 L699.3,925.0 L699.4,924.1 L699.6,923.0 L699.8,921.9 L699.9,920.8 L700.1,919.7 L700.2,918.6 L700.4,917.5 L700.5,916.4 L700.7,915.3 L700.9,914.3 L701.0,913.2 L701.2,912.3 L701.3,911.3 L701.5,910.3 L701.6,909.4 L701.8,908.4 L702.0,907.4 L702.1,906.5 L702.3,905.5 L702.4,904.5 L702.6,903.5 L702.7,902.5 L702.9,901.5 L703.0,900.5 L703.2,899.5 L703.3,898.5 L703.5,897.4 L703.6,896.4 L703.8,895.4 L703.9,894.4 L704.1,893.4 L704.2,892.4 L704.3,891.4 L704.5,890.5 L704.6,889.5 L704.8,888.5 L704.9,887.5 L705.1,886.6 L705.2,885.6 L705.3,884.6 L705.5,883.7 L705.6,882.7 L705.7,881.7 L705.9,880.7 L706.0,879.7 L706.2,878.6 L706.3,877.6 L706.4,876.6 L706.5,875.6 L706.7,874.6 L706.8,873.6 L706.9,872.6 L707.1,871.6 L707.2,870.6 L707.3,869.7 L707.5,868.8 L707.6,867.9 L707.7,867.0 L707.8,866.1 L708.0,865.2 L708.1,864.3 L708.2,863.4 L708.3,862.5 L708.5,861.6 L708.6,860.7 L708.7,859.7 L708.8,858.7 L709.0,857.6 L709.1,856.6 L709.2,855.5 L709.3,854.4 L709.5,853.4 L709.6,852.3 L709.7,851.3 L709.8,850.2 L710.0,849.2 L710.1,848.1 L710.2,847.0 L710.3,846.1 L710.4,845.1 L710.6,844.2 L710.7,843.2 L710.8,842.3 L710.9,841.4 L711.1,840.4 L711.2,839.5 L711.3,838.5 L711.4,837.6 L711.6,836.7 L711.7,835.7 L711.8,834.8 L711.9,833.7 L712.1,832.7 L712.2,831.6 L712.3,830.6 L712.4,829.5 L712.6,828.4 L712.7,827.4 L712.8,826.3 L713.0,825.3 L713.1,824.2 L713.2,823.1 L713.3,822.1 L713.5,821.2 L713.6,820.2 L713.7,819.3 L713.9,818.4 L714.0,817.5 L714.1,816.6 L714.3,815.7 L714.4,814.7 L714.5,813.8 L714.7,812.9 L714.8,812.0 L714.9,811.0 L715.1,810.0 L715.2,808.9 L715.3,807.8 L715.5,806.7 L715.6,805.7 L715.7,804.6 L715.9,803.5 L716.0,802.4 L716.1,801.4 L716.3,800.3 L716.4,799.2 L716.6,798.3 L716.7,797.3 L716.8,796.4 L717.0,795.5 L717.1,794.6 L717.2,793.7 L717.4,792.8 L717.5,791.9 L717.7,791.0 L717.8,790.0 L717.9,789.1 L718.1,788.2 L718.2,787.1 L718.3,786.0 L718.5,785.0 L718.6,783.9 L718.8,782.8 L718.9,781.8 L719.0,780.7 L719.2,779.6 L719.3,778.6 L719.4,777.5 L719.6,776.5 L719.7,775.6 L719.9,774.6 L720.0,773.7 L720.1,772.8 L720.3,771.9 L720.4,771.0 L720.5,770.1 L720.7,769.2 L720.8,768.3 L720.9,767.3 L721.1,766.4 L721.2,765.4 L721.3,764.3 L721.5,763.2 L721.6,762.2 L721.7,761.1 L721.9,760.0 L722.0,759.0 L722.1,757.9 L722.3,756.8 L722.4,755.8 L722.5,754.7 L722.7,753.6 L722.8,752.7 L722.9,751.8 L723.0,750.9 L723.2,749.9 L723.3,749.0 L723.4,748.1 L723.6,747.2 L723.7,746.3 L723.8,745.3 L723.9,744.4 L724.1,743.5 L724.2,742.6 L724.3,741.5 L724.4,740.5 L724.5,739.4 L724.7,738.4 L724.8,737.3 L724.9,736.3 L725.0,735.2 L725.2,734.2 L725.3,733.1 L725.4,732.1 L725.5,731.0 L725.6,730.0 L725.8,728.9 L725.9,728.0 L726.0,727.1 L726.1,726.1 L726.3,725.2 L726.4,724.2 L726.5,723.3 L726.6,722.4 L726.7,721.4 L726.9,720.5 L727.0,719.6 L727.1,718.6 L727.2,717.7 L727.3,716.7 L727.5,715.7 L727.6,714.6 L727.7,713.6 L727.8,712.6 L727.9,711.5 L728.0,710.5 L728.2,709.4 L728.3,708.4 L728.4,707.3 L728.5,706.3 L728.6,705.3 L728.8,704.2 L728.9,703.2 L729.0,702.3 L729.1,701.4 L729.3,700.5 L729.4,699.5 L729.5,698.6 L729.6,697.7 L729.7,696.8 L729.9,695.8 L730.0,694.9 L730.1,694.0 L730.2,693.1 L730.3,692.2 L730.5,691.2 L730.6,690.1 L730.7,689.0 L730.8,688.0 L730.9,686.9 L731.1,685.8 L731.2,684.8 L731.3,683.7 L731.4,682.6 L731.6,681.6 L731.7,680.5 L731.8,679.4 L731.9,678.4 L732.1,677.4 L732.2,676.5 L732.3,675.6 L732.4,674.7 L732.6,673.8 L732.7,672.8 L732.8,671.9 L732.9,671.0 L733.1,670.1 L733.2,669.2 L733.3,668.3 L733.4,667.3 L733.6,666.3 L733.7,665.3 L733.8,664.2 L733.9,663.1 L734.1,662.0 L734.2,661.0 L734.3,659.9 L734.5,658.8 L734.6,657.7 L734.7,656.7 L734.9,655.6 L735.0,654.5 L735.1,653.5 L735.2,652.6 L735.4,651.6 L735.5,650.7 L735.6,649.8 L735.8,648.9 L735.9,647.9 L736.0,647.0 L736.2,646.1 L736.3,645.1 L736.4,644.2 L736.6,643.3 L736.7,642.3 L736.8,641.2 L737.0,640.1 L737.1,639.1 L737.2,638.0 L737.4,637.0 L737.5,635.9 L737.6,634.8 L737.8,633.8 L737.9,632.7 L738.1,631.6 L738.2,630.6 L738.3,629.7 L738.5,628.8 L738.6,627.9 L738.7,626.9 L738.9,626.0 L739.0,625.1 L739.2,624.2 L739.3,623.3 L739.4,622.4 L739.6,621.4 L739.7,620.5 L739.8,619.5 L740.0,618.4 L740.1,617.3 L740.2,616.3 L740.4,615.2 L740.5,614.1 L740.7,613.1 L740.8,612.0 L740.9,611.0 L741.1,609.9 L741.2,608.8 L741.3,607.8 L741.5,606.9 L741.6,606.0 L741.7,605.1 L741.8,604.2 L742.0,603.2 L742.1,602.3 L742.2,601.4 L742.4,600.5 L742.5,599.5 L742.6,598.6 L742.7,597.7 L742.9,596.7 L743.0,595.6 L743.1,594.6 L743.3,593.5 L743.4,592.5 L743.5,591.4 L743.6,590.4 L743.8,589.3 L743.9,588.3 L744.0,587.2 L744.1,586.1 L744.2,585.1 L744.4,584.1 L744.5,583.1 L744.6,582.2 L744.7,581.3 L744.9,580.4 L745.0,579.4 L745.1,578.5 L745.3,577.6 L745.4,576.7 L745.5,575.7 L745.6,574.8 L745.8,573.9 L745.9,573.0 L746.0,571.9 L746.2,570.9 L746.3,569.8 L746.4,568.8 L746.5,567.7 L746.7,566.7 L746.8,565.6 L747.0,564.6 L747.1,563.5 L747.2,562.4 L747.4,561.4 L747.5,560.4 L747.6,559.5 L747.8,558.6 L747.9,557.7 L748.1,556.8 L748.2,555.9 L748.3,555.0 L748.5,554.1 L748.6,553.2 L748.8,552.3 L748.9,551.4 L749.1,550.4 L749.2,549.4 L749.4,548.4 L749.5,547.4 L749.7,546.3 L749.8,545.3 L750.0,544.3 L750.1,543.3 L750.3,542.3 L750.4,541.2 L750.6,540.2 L750.7,539.3 L750.9,538.3 L751.1,537.3 L751.2,536.4 L751.4,535.4 L751.5,534.5 L751.7,533.5 L751.8,532.5 L752.0,531.6 L752.2,530.6 L752.3,529.5 L752.5,528.4 L752.6,527.3 L752.8,526.2 L753.0,525.1 L753.1,524.0 L753.3,522.9 L753.5,521.8 L753.6,520.7 L753.8,519.8 L753.9,518.9 L754.1,518.0 L754.3,517.1 L754.4,516.2 L754.6,515.3 L754.8,514.4 L755.0,513.5 L755.1,512.6 L755.3,511.6 L755.5,510.5 L755.6,509.5 L755.8,508.4 L756.0,507.3 L756.1,506.2 L756.3,505.1 L756.5,504.1 L756.7,503.0 L756.8,502.0 L757.0,501.1 L757.2,500.3 L757.4,499.4 L757.5,498.6 L757.7,497.7 L757.9,496.9 L758.1,496.0 L758.2,495.1 L758.4,494.1 L758.6,493.1 L758.8,492.0 L758.9,490.9 L759.1,489.8 L759.3,488.7 L759.5,487.6 L759.7,486.5 L759.8,485.4 L760.0,484.5 L760.2,483.5 L760.4,482.5 L760.6,481.5 L760.8,480.6 L760.9,479.6 L761.1,478.6 L761.3,477.6 L761.5,476.6 L761.7,475.6 L761.9,474.7 L762.1,473.7 L762.2,472.7 L762.4,471.7 L762.6,470.7 L762.8,469.7 L763.0,468.7 L763.2,467.8 L763.4,467.0 L763.6,466.1 L763.8,465.2 L763.9,464.4 L764.1,463.5 L764.3,462.6 L764.5,461.7 L764.7,460.6 L764.9,459.5 L765.1,458.5 L765.3,457.4 L765.5,456.3 L765.7,455.2 L765.9,454.1 L766.1,453.1 L766.3,452.2 L766.5,451.3 L766.7,450.4 L766.9,449.5 L767.1,448.7 L767.3,447.8 L767.5,446.9 L767.7,445.9 L767.9,444.8 L768.1,443.7 L768.3,442.6 L768.5,441.5 L768.7,440.4 L768.9,439.3 L769.1,438.2 L769.3,437.2 L769.5,436.2 L769.7,435.3 L769.9,434.3 L770.1,433.4 L770.3,432.4 L770.5,431.5 L770.7,430.5 L770.9,429.6 L771.2,428.6 L771.4,427.6 L771.6,426.6 L771.8,425.6 L772.0,424.7 L772.2,423.7 L772.4,422.8 L772.6,422.0 L772.9,421.1 L773.1,420.2 L773.3,419.4 L773.5,418.5 L773.7,417.7 L773.9,416.6 L774.2,415.5 L774.4,414.4 L774.6,413.3 L774.8,412.2 L775.0,411.1 L775.3,410.0 L775.5,409.1 L775.7,408.2 L775.9,407.4 L776.1,406.5 L776.4,405.7 L776.6,404.8 L776.8,404.0 L777.0,403.0 L777.2,401.9 L777.5,400.8 L777.7,399.6 L777.9,398.5 L778.1,397.4 L778.4,396.3 L778.6,395.3 L778.8,394.5 L779.0,393.6 L779.2,392.7 L779.5,391.9 L779.7,391.0 L779.9,390.1 L780.1,389.1 L780.3,388.0 L780.6,386.9 L780.8,385.9 L781.0,384.8 L781.2,383.7 L781.4,382.6 L781.7,381.6 L781.9,380.8 L782.1,379.9 L782.3,379.1 L782.5,378.3 L782.8,377.5 L783.0,376.6 L783.2,375.7 L783.4,374.6 L783.6,373.4 L783.9,372.3 L784.1,371.2 L784.3,370.1 L784.5,368.9 L784.8,368.0 L785.0,367.2 L785.2,366.3 L785.4,365.5 L785.7,364.7 L785.9,363.9 L786.1,363.1 L786.4,362.1 L786.6,361.0 L786.8,359.8 L787.1,358.7 L787.3,357.6 L787.5,356.5 L787.8,355.4 L788.0,354.5 L788.2,353.7 L788.5,352.8 L788.7,352.0 L789.0,351.1 L789.2,350.2 L789.4,349.3 L789.7,348.3 L789.9,347.3 L790.2,346.3 L790.4,345.3 L790.7,344.3 L790.9,343.3 L791.2,342.4 L791.4,341.5 L791.7,340.6 L791.9,339.6 L792.2,338.7 L792.4,337.8 L792.7,336.8 L792.9,335.8 L793.2,334.8 L793.4,333.8 L793.7,332.8 L793.9,331.8 L794.2,330.8 L794.4,329.9 L794.7,328.9 L794.9,328.0 L795.2,327.0 L795.4,326.1 L795.7,325.0 L796.0,323.9 L796.2,322.8 L796.5,321.7 L796.7,320.6 L797.0,319.5 L797.3,318.6 L797.5,317.8 L797.8,317.0 L798.0,316.1 L798.3,315.3 L798.6,314.5 L798.8,313.4 L799.1,312.4 L799.3,311.3 L799.6,310.2 L799.9,309.1 L800.1,308.1 L800.4,307.2 L800.7,306.4 L800.9,305.5 L801.2,304.7 L801.5,303.8 L801.7,303.0 L802.0,301.9 L802.3,300.8 L802.5,299.7 L802.8,298.6 L803.1,297.5 L803.3,296.5 L803.6,295.6 L803.9,294.8 L804.2,294.0 L804.4,293.2 L804.7,292.3 L805.0,291.3 L805.2,290.2 L805.5,289.0 L805.8,287.9 L806.1,286.8 L806.3,285.6 L806.6,284.8 L806.9,284.0 L807.2,283.2 L807.4,282.4 L807.7,281.6 L808.0,280.7 L808.3,279.6 L808.5,278.5 L808.8,277.4 L809.1,276.3 L809.4,275.2 L809.7,274.3 L809.9,273.5 L810.2,272.7 L810.5,272.0 L810.8,271.2 L811.1,270.3 L811.4,269.2 L811.6,268.1 L811.9,267.0 L812.2,265.9 L812.5,264.7 L812.8,263.9 L813.1,263.1 L813.4,262.3 L813.7,261.5 L814.0,260.7 L814.3,259.7 L814.6,258.5 L814.9,257.4 L815.2,256.2 L815.5,255.1 L815.8,254.1 L816.1,253.3 L816.4,252.5 L816.7,251.8 L817.0,251.0 L817.3,250.1 L817.6,249.0 L817.9,247.9 L818.3,246.7 L818.6,245.6 L818.9,244.7 L819.2,244.0 L819.6,243.2 L819.9,242.5 L820.2,241.8 L820.5,240.8 L820.9,239.6 L821.2,238.5 L821.5,237.3 L821.9,236.2 L822.2,235.3 L822.6,234.3 L822.9,233.4 L823.3,232.5 L823.6,231.5 L824.0,230.6 L824.3,229.6 L824.7,228.6 L825.0,227.7 L825.4,227.0 L825.8,226.3 L826.1,225.6 L826.5,224.9 L826.9,223.7 L827.3,222.6 L827.6,221.4 L828.0,220.3 L828.4,219.5 L828.8,218.8 L829.2,218.2 L829.6,217.5 L830.0,216.3 L830.4,215.2 L830.8,214.0 L831.2,213.0 L831.6,212.3 L832.1,211.6 L832.5,211.0 L832.9,210.2 L833.3,209.3 L833.8,208.4 L834.2,207.5 L834.7,206.6 L835.1,205.7 L835.6,204.9 L836.0,203.9 L836.5,202.8 L836.9,201.6 L837.4,200.5 L837.9,199.9 L838.3,199.2 L838.8,198.6 L839.3,197.5 L839.5,196.9 L839.8,196.3 L840.0,195.8 L840.3,195.2 L840.7,194.4 L841.2,193.9 L841.7,193.4 L842.2,192.5 L842.5,191.9 L842.8,191.4 L843.0,190.8 L843.3,190.2 L843.5,189.6 L844.0,189.0 L844.6,188.4 L845.1,187.8 L845.4,187.3 L845.6,186.7 L845.9,186.2 L846.2,185.6 L846.5,185.1 L847.0,184.4 L847.6,183.9 L848.1,183.4 L848.7,182.4 L849.0,181.8 L849.3,181.2 L849.6,180.6 L850.1,179.9 L850.7,179.5 L851.3,179.0 L851.6,178.4 L851.9,177.7 L852.2,177.1 L852.5,176.5 L852.8,175.9 L853.4,175.4 L854.1,175.0 L854.7,174.3 L855.0,173.8 L855.3,173.2 L855.6,172.7 L856.0,172.2 L856.6,171.8 L857.3,171.4 L857.9,170.5 L858.2,169.9 L858.6,169.3 L858.9,168.7 L859.6,168.3 L860.3,168.0 L860.9,167.3 L861.3,166.7 L861.6,166.1 L862.0,165.4 L862.7,164.9 L863.4,164.7 L864.1,164.0 L864.5,163.5 L864.8,163.0 L865.2,162.5 L865.9,162.1 L866.6,161.8 L867.4,160.8 L867.7,160.3 L868.1,159.8 L868.9,159.3 L869.6,159.1 L870.4,158.4 L870.8,157.9 L871.2,157.3 L871.5,156.9 L872.3,156.7 L873.1,156.4 L873.5,155.8 L873.9,155.2 L874.3,154.6 L875.1,154.2 L875.9,154.2 L876.7,153.4 L877.1,152.8 L877.5,152.2 L878.3,152.0 L879.1,152.0 L879.5,151.6 L879.9,151.0 L880.4,150.4 L880.8,149.8 L881.6,149.7 L882.4,149.5 L882.9,149.0 L883.3,148.5 L883.7,148.0 L884.6,147.8 L885.4,147.8 L885.8,147.4 L886.3,146.9 L886.7,146.4 L887.5,146.1 L888.4,146.1 L888.8,145.6 L889.3,145.1 L889.7,144.6 L890.1,144.2 L891.0,144.3 L891.9,144.0 L892.3,143.6 L892.8,143.1 L893.2,142.7 L894.1,142.7 L895.0,142.5 L895.9,142.0 L896.8,141.6 L897.7,141.3 L898.1,141.0 L898.6,140.5 L899.0,140.0 L899.9,139.7 L900.8,139.7 L901.3,139.3 L901.8,138.9 L902.2,138.5 L903.1,138.3 L904.0,138.3 L904.5,137.9 L905.0,137.4 L905.4,137.0 L906.4,136.7 L907.3,136.5 L908.2,136.0 L909.2,135.9 L910.1,136.2 L910.6,135.8 L911.1,135.3 L911.5,134.8 L912.5,134.7 L913.4,134.9 L914.4,134.5 L915.3,134.1 L916.3,133.5 L917.2,133.1 L918.2,132.9 L919.2,133.1 L920.1,132.8 L920.6,132.4 L921.6,132.2 L922.6,132.4 L923.5,131.8 L924.0,131.4 L925.0,131.6 L926.0,131.7 L926.4,131.2 L926.9,130.8 L927.9,130.7 L928.9,131.0 L929.4,130.6 L929.9,130.2 L930.4,129.8 L931.3,130.3 L932.3,130.2 L932.8,129.8 L933.3,129.3 L934.3,129.6 L935.3,129.8 L935.8,129.3 L936.2,128.8 L937.2,129.1 L937.7,129.6 L938.7,129.0 L939.2,128.4 L939.7,127.8 L940.2,128.3 L940.7,128.9 L941.2,129.4 L941.7,128.9 L942.2,128.3 L942.7,127.7 L943.6,128.3 L944.1,128.7 L945.1,127.8 L945.6,127.2 L946.6,127.5 L947.1,127.9 L948.1,127.3 L948.6,126.7 L949.6,126.9 L950.1,127.4 L950.6,127.7 L951.1,127.1 L951.6,126.6 L952.1,126.0 L952.6,126.7 L953.1,127.3 L953.5,127.9 L954.0,127.2 L954.5,126.3 L955.0,125.4 L955.5,125.8 L956.0,126.5 L956.5,127.3 L957.5,126.4 L958.0,125.7 L959.0,126.0 L959.5,126.5 L960.5,126.0 L961.0,125.5 L962.0,125.6 L962.5,126.0 L963.0,126.4 L964.0,126.1 L965.0,126.2 L966.0,126.8 L966.5,125.9 L967.0,124.9 L967.5,123.9 L968.0,124.3 L968.5,125.0 L969.0,125.7 L969.9,124.9 L970.4,124.3 L971.4,125.2 L971.9,126.0 L972.9,125.0 L973.4,124.1 L973.9,123.6 L974.9,123.9 L975.9,123.8 L976.9,123.6 L977.4,124.2 L977.9,124.8 L978.4,125.4 L978.9,124.7 L979.4,124.0 L979.9,123.3 L980.4,124.0 L980.9,124.8 L981.4,125.6 L981.9,125.1 L982.4,124.3 L982.9,123.5 L983.4,123.9 L983.9,124.7 L984.4,125.5 L985.4,124.7 L985.9,124.0 L986.9,124.6 L987.4,125.3 L988.4,124.4 L988.9,123.5 L989.4,123.1 L989.9,123.9 L990.4,124.7 L990.9,125.2 L991.4,124.6 L991.9,124.0 L992.4,123.5 L992.9,124.3 L993.4,125.1 L993.9,125.9 L994.4,125.2 L994.9,124.5 L995.4,123.8 L995.9,124.5 L996.4,125.3 L996.9,126.2 L997.4,125.7 L997.9,124.9 L998.4,124.0 L999.4,125.0 L999.9,125.8 L1000.9,124.9 L1001.4,124.1 L1002.4,124.7 L1002.9,125.5 L1003.9,125.1 L1004.4,124.4 L1004.9,124.1 L1005.4,124.9 L1005.9,125.7 L1006.3,126.4 L1006.8,125.8 L1007.3,125.2 L1007.8,124.7 L1008.3,125.4 L1008.8,126.2 L1009.3,127.0 L1009.8,126.5 L1010.3,125.8 L1010.8,125.1 L1011.3,125.4 L1011.8,126.1 L1012.3,126.8 L1013.3,127.1 L1014.3,127.2 L1015.3,127.7 L1016.3,126.8 L1016.8,126.0 L1017.2,125.5 L1017.7,126.6 L1018.2,127.7 L1018.7,128.8 L1019.7,128.4 L1020.7,128.5 L1021.2,128.9 L1021.7,129.2 L1022.2,128.6 L1022.7,127.7 L1023.2,126.8 L1024.1,127.9 L1024.6,128.9 L1025.6,128.6 L1026.1,128.1 L1027.1,128.7 L1027.6,129.5 L1028.1,130.1 L1028.6,129.5 L1029.0,128.8 L1029.5,128.1 L1030.0,128.8 L1030.5,129.5 L1031.0,130.1 L1031.5,129.7 L1032.0,129.1 L1032.5,128.4 L1033.0,128.9 L1033.4,130.1 L1033.9,131.2 L1034.9,130.6 L1035.4,129.8 L1035.9,129.5 L1036.4,130.4 L1036.9,131.4 L1037.4,132.1 L1037.8,131.4 L1038.3,130.6 L1038.8,129.9 L1039.3,130.8 L1039.8,131.9 L1040.3,132.9 L1041.2,131.9 L1041.7,131.1 L1042.7,132.1 L1043.2,133.1 L1043.7,133.5 L1044.2,132.9 L1044.6,132.3 L1045.1,131.8 L1045.6,132.6 L1046.1,133.3 L1046.6,134.1 L1047.1,133.5 L1047.5,132.9 L1048.0,132.3 L1048.5,132.8 L1049.0,133.7 L1049.5,134.5 L1050.5,134.2 L1050.9,133.8 L1051.9,134.5 L1052.4,135.2 L1052.9,135.8 L1053.3,135.1 L1053.8,134.4 L1054.3,133.7 L1055.3,134.4 L1055.7,134.9 L1056.7,134.8 L1057.6,134.9 L1058.1,136.0 L1058.6,137.2 L1059.0,138.2 L1060.0,138.2 L1060.9,138.5 L1061.4,138.9 L1061.8,139.3 L1062.7,138.8 L1063.2,138.3 L1063.7,137.7 L1064.1,138.5 L1064.6,139.2 L1065.1,139.9 L1066.0,139.0 L1066.5,138.4 L1067.4,139.7 L1067.9,140.9 L1068.4,141.8 L1068.9,141.2 L1069.3,140.6 L1069.8,139.9 L1070.3,140.7 L1070.8,141.6 L1071.2,142.5 L1072.2,142.0 L1072.6,141.4 L1073.5,142.0 L1074.0,142.7 L1074.4,143.5 L1075.3,143.0 L1076.2,142.8 L1076.6,143.7 L1077.1,144.6 L1077.6,145.5 L1078.0,144.9 L1078.5,144.1 L1079.0,143.3 L1079.5,144.0 L1080.0,145.3 L1080.5,146.6 L1081.3,144.8 L1081.6,143.4 L1082.0,142.1 L1082.3,140.9 L1082.8,141.4 L1083.4,141.8 L1084.1,140.8 L1084.4,139.8 L1084.6,138.8 L1084.9,137.8 L1085.2,136.7 L1085.4,136.0 L1086.2,136.0 L1087.0,135.5 L1087.1,134.7 L1087.3,133.9 L1087.5,133.1 L1087.6,132.3 L1087.8,131.5 L1087.9,130.7 L1088.1,130.0 L1088.3,129.2 L1088.4,128.4 L1089.1,128.0 L1089.8,127.9 L1090.2,126.8 L1090.4,125.7 L1090.6,124.6 L1090.9,123.5 L1091.1,122.3 L1091.4,121.0 L1091.8,120.5 L1092.7,120.9 L1093.0,121.5 L1093.5,122.2 L1093.8,122.9 L1094.1,123.7 L1094.3,124.5 L1094.6,125.4 L1094.8,126.6 L1094.9,127.3 L1095.0,128.1 L1095.1,128.8 L1095.2,129.6 L1095.3,130.3 L1095.4,131.0 L1095.5,131.8 L1095.6,132.5 L1095.7,133.3 L1095.8,134.0 L1095.9,134.7 L1096.0,135.5 L1096.1,136.2 L1096.3,137.4 L1096.6,138.3 L1096.8,139.3 L1097.0,140.3 L1097.3,141.2 L1097.6,142.1 L1098.0,143.2 L1098.7,144.1 L1099.5,143.3 L1099.9,142.1 L1100.2,141.0 L1100.4,139.9 L1100.7,138.9 L1100.9,138.1 L1101.6,138.5 L1102.2,138.8 L1102.7,137.8 L1102.9,136.7 L1103.1,135.6 L1103.4,134.5 L1103.7,133.3 L1104.0,132.3 L1104.4,132.9 L1104.8,133.9 L1105.3,135.1 L1106.3,133.8 L1106.8,132.9 L1107.7,134.5 L1108.1,136.0 L1108.5,137.5 L1109.3,136.2 L1109.7,135.3 L1110.1,134.4 L1110.5,135.6 L1110.8,137.0 L1111.1,138.4 L1111.3,139.7 L1111.6,141.0 L1112.3,140.5 L1112.8,139.8 L1113.2,139.2 L1113.4,139.9 L1113.6,140.9 L1113.8,141.9 L1114.0,142.9 L1114.2,143.9 L1114.5,144.8 L1114.7,145.8 L1114.9,146.5 L1115.5,146.0 L1115.9,145.6 L1116.6,146.8 L1116.9,148.1 L1117.2,149.5 L1117.4,150.9 L1117.7,152.3 L1118.0,153.0 L1118.3,152.3 L1118.6,151.6 L1118.9,150.9 L1119.2,150.2 L1119.5,149.6 L1119.8,150.9 L1120.1,152.3 L1120.4,153.6 L1120.7,155.0 L1121.0,156.2 L1121.3,155.6 L1121.7,155.0 L1122.0,154.4 L1122.4,153.7 L1122.7,154.2 L1123.1,155.9 L1123.5,157.7 L1123.9,159.6 L1124.7,158.9 L1125.1,157.8 L1125.6,156.7 L1126.0,157.6 L1126.4,159.1 L1126.9,160.5 L1127.3,161.4 L1127.8,160.2 L1128.2,159.0 L1128.7,157.8 L1129.1,158.7 L1129.6,160.3 L1130.0,161.8 L1130.5,162.2 L1130.9,160.9 L1131.4,159.7 L1131.9,158.4 L1132.3,160.4 L1132.8,162.3 L1133.2,164.2 L1134.1,162.4 L1134.6,161.0 L1135.0,160.2 L1135.5,162.0 L1135.9,163.7 L1136.4,165.5 L1136.8,165.1 L1137.3,164.0 L1137.7,162.9 L1138.2,162.4 L1138.6,163.8 L1139.1,165.3 L1139.5,166.8 L1140.0,166.4 L1140.4,165.5 L1140.8,164.6 L1141.7,166.1 L1142.2,167.7 L1142.6,169.3 L1143.0,168.7 L1143.4,167.3 L1143.9,165.9 L1144.3,164.7 L1144.7,166.3 L1145.1,167.9 L1145.4,169.5 L1145.8,170.9 L1146.4,170.5 L1147.0,169.9 L1147.6,170.5 L1147.9,171.5 L1148.2,172.6 L1148.5,173.6 L1148.8,174.7 L1149.5,173.9 L1149.9,173.2 L1150.4,172.4 L1150.8,173.6 L1151.3,175.3 L1151.8,177.0 L1152.3,176.5 L1152.8,174.9 L1153.3,173.4 L1154.3,174.9 L1154.8,176.2 L1155.8,174.7 L1156.3,173.1 L1156.8,172.8 L1157.3,174.6 L1157.8,176.3 L1158.3,177.2 L1158.8,175.7 L1159.3,174.1 L1159.8,173.0 L1160.3,174.0 L1160.8,175.1 L1161.3,176.1 L1161.8,174.8 L1162.3,173.5 L1162.8,172.2 L1163.3,173.6 L1163.8,175.1 L1164.3,176.6 L1165.3,176.3 L1166.3,176.6 L1166.7,177.3 L1167.2,178.0 L1168.0,177.1 L1168.4,176.0 L1168.8,174.9 L1169.1,174.4 L1169.5,175.8 L1169.9,177.2 L1170.2,178.6 L1170.6,180.0 L1171.0,179.3 L1171.3,178.7 L1171.7,178.0 L1172.1,177.4 L1172.4,178.5 L1172.8,180.2 L1173.2,181.9 L1173.6,183.6 L1174.0,183.1 L1174.4,181.9 L1174.8,180.7 L1175.1,179.5 L1175.5,180.1 L1175.9,181.6 L1176.2,183.1 L1176.6,184.5 L1177.0,185.5 L1177.3,186.0 L1177.7,186.4 L1178.1,186.9 L1178.4,187.3 L1179.2,188.1 L1180.0,188.6 L1180.4,187.0 L1180.8,185.4 L1181.2,183.7 L1182.0,186.8 L1182.5,189.9 L1182.9,193.0 L1183.4,191.0 L1183.8,188.0 L1184.3,185.0 L1184.7,184.2 L1185.1,187.7 L1185.6,191.3 L1186.1,194.9 L1186.5,193.2 L1187.0,190.8 L1187.5,188.4 L1187.9,189.1 L1188.4,191.8 L1188.9,194.6 L1189.4,195.1 L1189.9,192.2 L1190.4,189.2 L1190.9,187.9 L1191.4,190.7 L1191.8,193.3 L1192.2,195.7 L1192.7,193.8 L1193.1,191.2 L1193.4,188.6 L1193.8,186.1 L1194.2,187.4 L1194.6,188.8 L1195.0,190.2 L1195.4,191.7 L1195.8,189.3 L1196.2,186.5 L1196.6,183.8 L1197.0,181.4 L1197.5,182.1 L1197.9,182.9 L1198.4,183.7 L1198.9,183.1 L1199.4,182.3 L1199.8,181.8 L1200.4,184.4 L1200.7,186.6 L1200.9,188.7 L1201.1,190.7 L1201.3,192.6 L1201.5,194.5 L1201.9,193.4 L1202.1,192.6 L1202.3,191.7 L1202.5,191.0 L1202.7,190.2 L1202.8,189.4 L1203.0,188.7 L1203.3,189.9 L1203.5,191.4 L1203.6,192.7 L1203.7,193.9 L1203.8,195.0 L1203.8,196.2 L1203.9,197.2 L1204.0,198.3 L1204.1,199.4 L1204.2,200.5 L1204.2,201.5 L1204.3,202.6 L1204.4,203.7 L1204.5,204.8 L1204.6,205.9 L1204.6,207.1 L1205.1,206.4 L1205.5,203.4 L1206.0,200.0 L1207.0,202.6 L1207.5,205.1 L1208.5,203.2 L1209.0,201.1 L1209.5,200.5 L1210.0,202.5 L1210.5,204.5 L1211.0,205.5 L1211.5,204.0 L1212.0,202.5 L1212.5,201.6 L1213.0,203.2 L1213.4,204.8 L1213.9,206.3 L1214.6,205.4 L1215.0,204.5 L1215.4,203.7 L1215.8,204.2 L1216.3,205.4 L1216.7,206.6 L1217.2,207.4 L1217.7,205.8 L1218.1,204.1 L1218.5,202.5 L1219.2,203.7 L1219.5,204.5 L1219.8,205.3 L1220.1,206.0 L1220.6,204.4 L1220.9,203.0 L1221.3,201.5 L1221.7,199.9 L1222.1,200.4 L1222.6,201.7 L1223.1,202.9 L1223.6,202.3 L1224.1,200.5 L1224.6,198.7 L1225.6,200.3 L1226.1,202.2 L1226.6,203.0 L1227.1,201.4 L1227.5,199.8 L1228.0,198.8 L1228.5,200.2 L1229.0,201.6 L1229.5,202.7 L1230.0,200.9 L1230.5,199.0 L1231.0,197.1 L1231.5,198.5 L1232.0,200.0 L1232.5,201.5 L1233.0,200.3 L1233.5,198.6 L1234.0,196.9 L1234.5,197.7 L1235.0,199.5 L1235.5,201.3 L1236.4,199.8 L1236.7,198.4 L1237.1,197.0 L1238.0,197.6 L1238.5,198.5 L1239.0,197.9 L1239.3,196.7 L1239.6,195.4 L1239.8,194.2 L1240.1,192.9 L1240.4,191.9 L1241.0,192.8 L1241.4,193.4 L1241.8,194.2 L1242.3,193.0 L1242.7,191.3 L1243.2,189.6 L1243.6,189.2 L1244.1,190.5 L1244.6,191.8 L1245.1,192.6 L1245.6,190.8 L1246.1,189.0 L1246.5,187.2 L1247.0,189.0 L1247.5,190.9 L1248.0,192.7 L1248.5,191.8 L1249.0,190.1 L1249.5,188.5 L1250.5,189.8 L1250.9,190.8 L1251.9,189.5 L1252.4,188.3 L1252.9,187.7 L1253.4,188.9 L1253.8,190.1 L1254.3,191.2 L1254.8,190.6 L1255.2,190.0 L1255.7,189.4 L1256.6,189.7 L1257.0,190.1 L1257.9,187.7 L1258.3,185.3 L1258.7,182.8 L1259.1,182.3 L1259.5,184.6 L1259.9,186.8 L1260.3,189.0 L1261.0,186.8 L1261.4,184.5 L1261.7,182.1 L1262.1,180.0 L1262.4,181.2 L1262.7,182.3 L1263.0,183.5 L1263.3,184.4 L1263.5,185.0 L1263.7,184.3 L1263.9,182.9 L1264.0,181.6 L1264.2,180.3 L1264.3,179.1 L1264.4,177.9 L1264.6,176.7 L1264.7,175.6 L1264.8,174.4 L1264.9,173.3 L1265.0,172.2 L1265.1,171.1 L1265.6,171.6 L1265.9,172.1 L1266.3,172.8 L1266.6,173.3 L1266.9,171.8 L1267.1,170.4 L1267.3,168.8 L1267.5,166.9 L1267.9,164.5 L1268.4,163.5 L1268.9,166.4 L1269.3,169.0 L1269.6,171.5 L1270.3,169.8 L1270.7,167.9 L1271.0,166.0 L1271.4,164.1 L1271.8,165.3 L1272.2,166.4 L1272.6,167.6 L1273.1,168.2 L1273.9,167.8 L1274.8,169.4 L1275.2,172.0 L1275.6,174.6 L1276.1,176.8 L1276.5,176.4 L1276.9,176.0 L1277.4,175.6 L1277.9,176.2 L1278.3,177.3 L1278.8,178.4 L1279.3,177.8 L1279.8,174.9 L1280.3,171.9 L1280.8,170.6 L1281.3,174.0 L1281.8,177.3 L1282.3,179.4 L1282.8,175.5 L1283.3,171.6 L1283.7,167.7 L1284.2,170.4 L1284.7,173.2 L1285.2,175.9 L1285.6,176.3 L1286.1,175.6 L1286.5,175.0 L1287.4,175.5 L1287.8,176.2 L1288.3,176.9 L1288.7,174.8 L1289.1,171.6 L1289.6,168.5 L1290.0,165.5 L1290.4,167.3 L1290.8,169.0 L1291.1,170.2 L1291.3,171.1 L1291.8,169.4 L1292.0,167.9 L1292.2,166.4 L1292.4,165.0 L1292.6,163.5 L1292.8,162.1 L1292.9,160.7 L1293.1,160.0 L1293.4,161.1 L1293.8,162.3 L1294.1,163.5 L1294.3,164.2 L1294.5,164.9 L1294.9,164.3 L1295.4,163.2 L1295.6,162.6 L1295.9,162.0 L1296.8,162.3 L1297.3,163.1 L1298.3,159.4 L1298.8,155.9 L1299.2,152.4 L1299.7,155.8 L1300.2,159.5 L1300.6,163.2 L1301.1,162.5 L1301.5,159.3 L1302.0,156.0 L1302.5,154.4 L1302.9,157.6 L1303.4,160.8 L1303.8,163.9 L1304.3,164.3 L1305.1,164.0 L1305.9,164.5 L1306.4,164.9 L1306.8,165.3 L1307.3,164.2 L1307.7,161.7 L1308.2,159.0 L1308.7,157.3 L1309.2,158.5 L1309.6,159.5 L1310.0,160.2 L1310.3,159.6 L1310.6,158.7 L1310.9,157.7 L1311.2,156.8 L1311.4,155.9 L1311.7,155.1 L1312.5,155.1 L1313.7,154.0 L1314.0,153.0 L1314.4,151.9 L1315.3,154.1 L1315.7,156.5 L1316.1,158.9 L1317.0,156.8 L1317.4,154.6 L1317.8,152.4 L1318.3,153.4 L1318.7,154.7 L1319.1,156.0 L1320.0,154.9 L1320.4,153.5 L1320.9,152.1 L1321.7,152.8 L1322.2,153.4 L1323.0,152.3 L1323.5,151.2 L1323.9,150.1 L1324.3,149.6 L1325.1,149.6 L1325.9,149.1 L1326.3,148.4 L1326.7,147.8 L1327.1,147.1 L1327.6,147.8 L1328.0,148.7 L1328.5,149.6 L1329.5,148.5 L1330.0,147.5 L1330.9,148.2 L1331.4,149.1 L1331.9,149.6 L1332.4,148.5 L1332.9,147.5 L1333.4,146.7 L1333.9,147.4 L1334.4,148.1 L1334.9,148.8 L1335.4,147.7 L1335.9,146.6 L1336.4,145.5 L1336.9,146.2 L1337.4,147.1 L1337.9,148.1 L1338.4,147.6 L1338.9,146.6 L1339.4,145.6 L1340.4,146.6 L1340.9,147.4 L1341.9,146.6 L1342.4,145.8 L1342.9,145.4 L1343.9,145.6 L1344.9,145.6 L1345.9,145.7 L1346.4,146.4 L1346.9,147.1 L1347.4,147.6 L1347.9,146.8 L1348.4,145.9 L1348.9,145.1 L1349.4,146.0 L1349.9,146.9 L1350.4,147.8 L1350.9,147.2 L1351.4,146.5 L1351.9,145.7 L1352.4,146.2 L1352.8,147.0 L1353.3,147.7 L1353.8,147.3 L1354.3,146.4 L1354.8,145.6 L1355.8,146.7 L1356.3,147.7 L1357.3,147.3 L1357.8,146.5 L1358.3,146.1 L1358.8,146.5 L1359.3,146.9 L1359.7,147.3 L1360.7,147.1 L1361.7,147.2 L1362.7,147.7 L1363.6,147.7 L1364.6,147.7 L1365.6,148.2 L1366.6,148.2 L1367.6,148.3 L1368.1,149.2 L1368.6,150.2 L1369.0,151.1 L1370.0,151.0 L1371.0,151.2 L1372.0,151.7 L1372.5,151.3 L1373.0,150.6 L1373.5,150.0 L1374.4,151.1 L1374.9,151.9 L1375.9,151.4 L1376.4,150.8 L1377.4,151.2 L1377.8,152.0 L1378.3,152.7 L1378.8,152.3 L1379.3,151.9 L1379.8,151.5 L1380.2,152.1 L1380.7,152.9 L1381.2,153.7 L1382.1,153.2 L1382.6,152.6 L1383.5,153.1 L1384.0,153.9 L1384.4,154.6 L1385.3,154.1 L1386.2,153.9 L1386.7,154.3 L1387.1,154.7 L1387.6,155.1 L1388.0,155.6 L1388.4,156.1 L1388.9,156.7 L1389.3,157.1 L1389.7,157.5 L1390.2,157.9 L1390.6,158.3 L1391.4,157.9 L1392.3,157.4 L1392.7,158.1 L1393.1,158.9 L1393.5,159.6 L1393.9,160.2 L1394.7,160.2 L1395.4,160.3 L1395.8,161.0 L1396.2,161.7 L1396.6,162.4 L1396.9,163.1 L1397.7,163.6 L1398.4,164.2 L1399.1,165.1 L1399.8,166.0 L1400.5,166.2 L1401.5,166.2 L1401.8,166.7 L1402.1,167.4 L1402.4,168.1 L1402.7,168.8 L1403.0,169.5 L1403.7,169.8 L1404.3,170.0 L1404.8,170.6 L1405.1,171.3 L1405.4,171.9 L1405.6,172.6 L1405.9,173.3 L1406.1,174.0 L1406.6,174.6 L1407.1,175.1 L1407.6,175.6 L1408.0,176.5 L1408.2,177.1 L1408.4,177.7 L1408.6,178.3 L1409.1,179.5 L1409.5,180.4 L1409.9,181.1 L1410.3,181.8 L1410.7,182.6 L1411.0,183.5 L1411.4,184.5 L1411.8,185.6 L1412.2,186.7 L1412.5,187.6 L1412.9,188.4 L1413.2,189.2 L1413.6,190.0 L1413.9,190.8 L1414.3,191.9 L1414.6,193.0 L1415.0,194.1 L1415.3,195.2 L1415.6,196.2 L1416.0,196.9 L1416.3,197.7 L1416.6,198.5 L1416.9,199.2 L1417.2,200.2 L1417.5,201.3 L1417.8,202.4 L1418.1,203.6 L1418.4,204.7 L1418.7,205.7 L1419.0,206.7 L1419.3,207.6 L1419.5,208.5 L1419.8,209.5 L1420.1,210.4 L1420.3,211.4 L1420.6,212.4 L1420.9,213.3 L1421.1,214.3 L1421.4,215.3 L1421.6,216.2 L1421.9,217.1 L1422.1,218.0 L1422.4,218.9 L1422.6,219.8 L1422.8,220.6 L1423.1,221.5 L1423.3,222.4 L1423.5,223.5 L1423.8,224.6 L1424.0,225.7 L1424.2,226.7 L1424.4,227.8 L1424.7,228.9 L1424.9,229.9 L1425.1,230.8 L1425.3,231.7 L1425.5,232.5 L1425.7,233.4 L1425.9,234.3 L1426.1,235.2 L1426.3,236.1 L1426.5,237.1 L1426.7,238.2 L1426.9,239.3 L1427.1,240.3 L1427.3,241.4 L1427.5,242.4 L1427.7,243.5 L1427.8,244.5 L1428.0,245.5 L1428.2,246.4 L1428.4,247.3 L1428.5,248.2 L1428.7,249.1 L1428.9,250.1 L1429.0,251.0 L1429.2,251.9 L1429.4,252.8 L1429.5,253.8 L1429.7,254.9 L1429.9,255.9 L1430.0,257.0 L1430.2,258.1 L1430.3,259.1 L1430.5,260.2 L1430.6,261.3 L1430.8,262.3 L1430.9,263.4 L1431.1,264.4 L1431.2,265.3 L1431.4,266.2 L1431.5,267.1 L1431.7,268.0 L1431.8,268.9 L1432.0,269.9 L1432.1,270.8 L1432.3,271.7 L1432.4,272.6 L1432.5,273.5 L1432.6,274.6 L1432.8,275.6 L1432.9,276.7 L1433.0,277.7 L1433.2,278.8 L1433.3,279.9 L1433.4,280.9 L1433.5,282.0 L1433.6,283.0 L1433.8,284.1 L1433.9,285.1 L1434.0,286.2 L1434.1,287.2 L1434.2,288.2 L1434.4,289.1 L1434.5,290.0 L1434.6,291.0 L1434.7,291.9 L1434.8,292.8 L1434.9,293.8 L1435.1,294.7 L1435.2,295.6 L1435.3,296.6 L1435.4,297.5 L1435.5,298.4 L1435.7,299.4 L1435.8,300.4 L1435.9,301.5 L1436.0,302.6 L1436.1,303.6 L1436.3,304.7 L1436.4,305.7 L1436.5,306.8 L1436.6,307.8 L1436.8,308.9 L1436.9,310.0 L1437.0,311.0 L1437.1,312.1 L1437.3,313.1 L1437.4,314.0 L1437.5,314.9 L1437.7,315.8 L1437.8,316.7 L1437.9,317.7 L1438.0,318.6 L1438.2,319.5 L1438.3,320.4 L1438.4,321.4 L1438.5,322.3 L1438.7,323.2 L1438.8,324.2 L1438.9,325.2 L1439.1,326.2 L1439.2,327.2 L1439.3,328.2 L1439.4,329.2 L1439.6,330.2 L1439.7,331.2 L1439.8,332.2 L1439.9,333.2 L1440.1,334.2 L1440.2,335.2 L1440.3,336.2 L1440.4,337.2 L1440.6,338.2 L1440.7,339.3 L1440.8,340.3 L1440.9,341.3 L1441.1,342.3 L1441.2,343.4 L1441.3,344.4 L1441.4,345.4 L1441.6,346.5 L1441.7,347.5 L1441.8,348.5 L1441.9,349.5 L1442.1,350.5 L1442.2,351.4 L1442.3,352.4 L1442.4,353.3 L1442.6,354.3 L1442.7,355.2 L1442.8,356.2 L1442.9,357.2 L1443.1,358.1 L1443.2,359.1 L1443.3,360.0 L1443.4,361.0 L1443.6,362.0 L1443.7,363.0 L1443.8,364.0 L1443.9,365.0 L1444.0,365.9 L1444.2,366.9 L1444.3,367.9 L1444.4,368.9 L1444.5,369.9 L1444.7,370.9 L1444.8,371.9 L1444.9,372.9 L1445.0,373.9 L1445.1,374.9 L1445.3,376.0 L1445.4,377.0 L1445.5,378.0 L1445.6,379.1 L1445.8,380.1 L1445.9,381.1 L1446.0,382.2 L1446.2,383.2 L1446.3,384.2 L1446.4,385.3 L1446.6,386.3 L1446.7,387.2 L1446.8,388.1 L1447.0,389.1 L1447.1,390.0 L1447.2,390.9 L1447.4,391.8 L1447.5,392.8 L1447.6,393.7 L1447.8,394.6 L1447.9,395.6 L1448.0,396.5 L1448.1,397.5 L1448.3,398.6 L1448.4,399.6 L1448.5,400.7 L1448.6,401.7 L1448.7,402.8 L1448.9,403.8 L1449.0,404.9 L1449.1,405.9 L1449.2,407.0 L1449.3,408.0 L1449.4,409.1 L1449.5,410.1 L1449.6,411.2 L1449.7,412.1 L1449.8,413.1 L1449.9,414.1 L1450.0,415.0 L1450.1,416.0 L1450.1,417.0 L1450.2,417.9 L1450.3,418.9 L1450.4,419.9 L1450.4,420.8 L1450.5,421.8 L1450.6,422.8 L1450.6,423.8 L1450.7,424.7 L1450.8,425.7 L1450.8,426.7 L1450.9,427.7 L1451.0,428.6 L1451.0,429.6 L1451.1,430.6 L1451.1,431.6 L1451.2,432.6 L1451.3,433.6 L1451.3,434.6 L1451.4,435.6 L1451.5,436.5 L1451.6,437.5 L1451.6,438.5 L1451.7,439.5 L1451.8,440.5 L1451.9,441.5 L1452.0,442.5 L1452.0,443.5 L1452.1,444.5 L1452.2,445.5 L1452.3,446.5 L1452.4,447.5 L1452.4,448.5 L1452.5,449.5 L1452.6,450.5 L1452.7,451.5 L1452.8,452.5 L1452.9,453.5 L1453.0,454.5 L1453.0,455.4 L1453.1,456.4 L1453.2,457.4 L1453.3,458.4 L1453.4,459.4 L1453.5,460.3 L1453.6,461.3 L1453.7,462.3 L1453.7,463.3 L1453.8,464.3 L1453.9,465.3 L1454.0,466.2 L1454.1,467.2 L1454.2,468.2 L1454.3,469.2 L1454.4,470.3 L1454.5,471.3 L1454.6,472.4 L1454.7,473.4 L1454.8,474.5 L1454.9,475.5 L1454.9,476.6 L1455.0,477.6 L1455.1,478.7 L1455.2,479.7 L1455.3,480.8 L1455.4,481.8 L1455.5,482.9 L1455.6,483.9 L1455.7,485.0 L1455.8,486.0 L1455.9,487.0 L1456.0,487.9 L1456.1,488.8 L1456.2,489.8 L1456.3,490.7 L1456.4,491.6 L1456.5,492.6 L1456.6,493.5 L1456.7,494.4 L1456.8,495.4 L1456.9,496.3 L1457.0,497.2 L1457.1,498.2 L1457.2,499.1 L1457.3,500.0 L1457.4,501.1 L1457.5,502.1 L1457.6,503.2 L1457.7,504.2 L1457.8,505.3 L1457.9,506.4 L1458.0,507.4 L1458.1,508.5 L1458.2,509.5 L1458.3,510.6 L1458.4,511.7 L1458.5,512.7 L1458.6,513.8 L1458.7,514.8 L1458.8,515.9 L1458.9,516.9 L1459.0,517.8 L1459.1,518.8 L1459.2,519.7 L1459.3,520.7 L1459.4,521.6 L1459.5,522.5 L1459.6,523.5 L1459.7,524.4 L1459.8,525.4 L1459.9,526.3 L1460.0,527.3 L1460.1,528.2 L1460.2,529.1 L1460.3,530.1 L1460.4,531.0 L1460.5,532.0 L1460.6,533.1 L1460.7,534.1 L1460.8,535.2 L1460.9,536.2 L1461.0,537.2 L1461.1,538.3 L1461.2,539.3 L1461.3,540.3 L1461.4,541.4 L1461.5,542.4 L1461.6,543.4 L1461.7,544.5 L1461.8,545.5 L1461.9,546.5 L1462.0,547.6 L1462.1,548.5 L1462.2,549.5 L1462.3,550.4 L1462.4,551.4 L1462.5,552.4 L1462.6,553.3 L1462.7,554.3 L1462.8,555.3 L1462.9,556.2 L1463.0,557.2 L1463.1,558.1 L1463.2,559.1 L1463.3,560.1 L1463.4,561.0 L1463.5,562.0 L1463.6,563.0 L1463.7,564.0 L1463.8,565.0 L1463.9,566.1 L1464.0,567.1 L1464.1,568.1 L1464.2,569.1 L1464.3,570.2 L1464.4,571.2 L1464.5,572.2 L1464.6,573.3 L1464.7,574.3 L1464.8,575.3 L1464.9,576.4 L1465.0,577.4 L1465.1,578.4 L1465.2,579.4 L1465.3,580.3 L1465.4,581.3 L1465.5,582.2 L1465.6,583.2 L1465.7,584.1 L1465.8,585.1 L1465.9,586.0 L1466.0,587.0 L1466.2,587.9 L1466.3,588.8 L1466.4,589.8 L1466.5,590.7 L1466.6,591.7 L1466.7,592.7 L1466.9,593.7 L1467.0,594.8 L1467.1,595.9 L1467.2,596.9 L1467.3,598.0 L1467.5,599.1 L1467.6,600.1 L1467.7,601.2 L1467.8,602.2 L1468.0,603.3 L1468.1,604.4 L1468.2,605.4 L1468.3,606.4 L1468.5,607.3 L1468.6,608.2 L1468.7,609.2 L1468.9,610.1 L1469.0,611.0 L1469.1,611.9 L1469.3,612.9 L1469.4,613.8 L1469.5,614.7 L1469.7,615.7 L1469.8,616.6 L1469.9,617.7 L1470.1,618.7 L1470.2,619.8 L1470.4,620.8 L1470.5,621.9 L1470.7,623.0 L1470.8,624.0 L1470.9,625.1 L1471.1,626.1 L1471.2,627.2 L1471.4,628.1 L1471.5,629.1 L1471.7,630.0 L1471.8,630.9 L1471.9,631.8 L1472.1,632.7 L1472.2,633.6 L1472.4,634.5 L1472.5,635.4 L1472.7,636.3 L1472.8,637.2 L1473.0,638.2 L1473.1,639.3 L1473.3,640.4 L1473.4,641.5 L1473.6,642.5 L1473.7,643.6 L1473.9,644.7 L1474.1,645.8 L1474.2,646.8 L1474.4,647.9 L1474.6,648.8 L1474.8,649.7 L1475.0,650.6 L1475.2,651.5 L1475.4,652.4 L1475.6,653.3 L1475.8,654.1 L1476.1,655.1 L1476.3,656.1 L1476.6,657.2 L1476.9,658.2 L1477.1,659.3 L1477.4,660.3 L1477.6,661.3 L1477.9,662.1 L1478.2,663.0 L1478.5,663.8 L1478.8,664.6 L1479.2,665.4 L1479.7,666.3 L1480.4,666.9 L1481.2,666.7 L1481.8,666.0 L1482.2,665.1 L1482.6,664.3 L1482.9,663.5 L1483.2,662.7 L1483.5,661.8 L1483.7,661.0 L1484.0,659.9 L1484.3,658.8 L1484.5,657.8 L1484.8,656.7 L1485.0,655.7 L1485.2,654.6 L1485.5,653.7 L1485.7,652.8 L1485.9,652.0 L1486.0,651.1 L1486.2,650.2 L1486.4,649.2 L1486.5,648.3 L1486.7,647.4 L1486.8,646.5 L1487.0,645.4 L1487.1,644.3 L1487.2,643.2 L1487.4,642.2 L1487.5,641.1 L1487.6,640.0 L1487.7,639.0 L1487.9,637.9 L1488.0,636.8 L1488.1,635.8 L1488.2,634.7 L1488.3,633.6 L1488.5,632.6 L1488.6,631.7 L1488.7,630.7 L1488.8,629.7 L1488.9,628.7 L1489.0,627.7 L1489.1,626.7 L1489.2,625.8 L1489.3,624.8 L1489.5,623.8 L1489.6,622.8 L1489.7,621.8 L1489.8,620.9 L1489.9,619.9 L1490.0,618.9 L1490.1,617.9 L1490.2,617.0 L1490.3,616.0 L1490.4,615.1 L1490.5,614.1 L1490.6,613.1 L1490.6,612.2 L1490.7,611.2 L1490.8,610.2 L1490.9,609.3 L1491.0,608.3 L1491.1,607.4 L1491.2,606.4 L1491.2,605.4 L1491.3,604.5 L1491.4,603.5 L1491.5,602.5 L1491.6,601.5 L1491.6,600.5 L1491.7,599.5 L1491.8,598.5 L1491.9,597.5 L1492.0,596.6 L1492.0,595.6 L1492.1,594.6 L1492.2,593.6 L1492.3,592.6 L1492.4,591.6 L1492.5,590.6 L1492.5,589.6 L1492.6,588.6 L1492.7,587.6 L1492.8,586.6 L1492.9,585.6 L1493.0,584.6 L1493.0,583.6 L1493.1,582.6 L1493.2,581.5 L1493.3,580.5 L1493.4,579.5 L1493.5,578.4 L1493.6,577.4 L1493.7,576.3 L1493.7,575.3 L1493.8,574.3 L1493.9,573.2 L1494.0,572.2 L1494.1,571.1 L1494.2,570.1 L1494.3,569.0 L1494.4,568.0 L1494.4,567.0 L1494.5,565.9 L1494.6,564.9 L1494.7,564.0 L1494.8,563.0 L1494.9,562.1 L1495.0,561.1 L1495.1,560.2 L1495.2,559.2 L1495.2,558.3 L1495.3,557.3 L1495.4,556.4 L1495.5,555.4 L1495.6,554.5 L1495.7,553.5 L1495.8,552.6 L1495.9,551.6 L1496.0,550.7 L1496.1,549.7 L1496.2,548.7 L1496.3,547.7 L1496.3,546.7 L1496.4,545.7 L1496.5,544.7 L1496.6,543.7 L1496.7,542.7 L1496.8,541.7 L1496.9,540.7 L1497.0,539.7 L1497.1,538.7 L1497.2,537.7 L1497.3,536.7 L1497.4,535.8 L1497.5,534.8 L1497.6,533.8 L1497.7,532.8 L1497.8,531.8 L1497.9,530.8 L1498.0,529.8 L1498.1,528.8 L1498.2,527.8 L1498.3,526.8 L1498.4,525.8 L1498.5,524.8 L1498.6,523.8 L1498.7,522.8 L1498.8,521.8 L1498.9,520.9 L1499.0,519.9 L1499.1,518.9 L1499.2,517.9 L1499.3,516.8 L1499.4,515.8 L1499.5,514.8 L1499.6,513.7 L1499.7,512.7 L1499.8,511.7 L1499.9,510.6 L1500.0,509.6 L1500.2,508.5 L1500.3,507.5 L1500.4,506.5 L1500.5,505.4 L1500.6,504.4 L1500.7,503.4 L1500.8,502.4 L1500.9,501.5 L1501.1,500.5 L1501.2,499.6 L1501.3,498.7 L1501.4,497.7 L1501.5,496.8 L1501.6,495.9 L1501.8,494.9 L1501.9,494.0 L1502.0,493.1 L1502.1,492.1 L1502.2,491.2 L1502.3,490.2 L1502.5,489.2 L1502.6,488.1 L1502.7,487.1 L1502.8,486.0 L1502.9,484.9 L1503.0,483.9 L1503.1,482.8 L1503.2,481.8 L1503.3,480.8 L1503.4,479.7 L1503.5,478.7 L1503.6,477.6 L1503.7,476.6 L1503.8,475.5 L1503.9,474.5 L1504.0,473.6 L1504.1,472.6 L1504.2,471.7 L1504.3,470.7 L1504.3,469.8 L1504.4,468.8 L1504.5,467.9 L1504.6,466.9 L1504.7,466.0 L1504.7,465.0 L1504.8,464.0 L1504.9,463.1 L1504.9,462.1 L1505.0,461.2 L1505.1,460.2 L1505.2,459.2 L1505.2,458.3 L1505.3,457.3 L1505.4,456.4 L1505.4,455.4 L1505.5,454.3 L1505.6,453.3 L1505.6,452.3 L1505.7,451.2 L1505.8,450.2 L1505.9,449.1 L1505.9,448.1 L1506.0,447.1 L1506.1,446.0 L1506.1,445.0 L1506.2,444.0 L1506.3,442.9 L1506.4,441.9 L1506.5,440.8 L1506.5,439.8 L1506.6,438.7 L1506.7,437.7 L1506.8,436.6 L1506.9,435.6 L1507.0,434.6 L1507.1,433.7 L1507.2,432.7 L1507.3,431.8 L1507.4,430.8 L1507.5,429.9 L1507.6,428.9 L1507.7,428.0 L1507.8,427.0 L1508.0,426.1 L1508.1,425.1 L1508.2,424.2 L1508.3,423.3 L1508.4,422.3 L1508.5,421.3 L1508.7,420.3 L1508.8,419.3 L1508.9,418.2 L1509.0,417.2 L1509.2,416.1 L1509.3,415.1 L1509.4,414.1 L1509.6,413.0 L1509.7,412.0 L1509.8,410.9 L1510.0,409.9 L1510.1,408.9 L1510.2,407.9 L1510.4,407.0 L1510.5,406.1 L1510.7,405.1 L1510.8,404.2 L1511.0,403.2 L1511.1,402.3 L1511.3,401.4 L1511.5,400.4 L1511.6,399.5 L1511.8,398.4 L1512.0,397.4 L1512.1,396.3 L1512.3,395.3 L1512.5,394.2 L1512.6,393.2 L1512.8,392.1 L1513.0,391.1 L1513.1,390.0 L1513.3,389.1 L1513.5,388.2 L1513.7,387.4 L1513.9,386.5 L1514.1,385.6 L1514.3,384.7 L1514.4,383.8 L1514.6,383.0 L1514.8,382.0 L1515.1,380.9 L1515.3,379.8 L1515.5,378.7 L1515.7,377.6 L1515.9,376.6 L1516.1,375.5 L1516.4,374.5 L1516.6,373.6 L1516.8,372.7 L1517.1,371.9 L1517.3,371.0 L1517.5,370.1 L1517.8,369.2 L1518.0,368.2 L1518.3,367.1 L1518.5,366.0 L1518.8,364.9 L1519.0,363.7 L1519.3,362.6 L1519.5,361.7 L1519.8,360.9 L1520.1,360.1 L1520.3,359.3 L1520.6,358.5 L1520.9,357.6 L1521.2,356.5 L1521.4,355.4 L1521.7,354.3 L1522.0,353.2 L1522.3,352.1 L1522.6,351.2 L1522.9,350.4 L1523.2,349.6 L1523.4,348.8 L1523.7,348.0 L1524.0,347.2 L1524.3,346.1 L1524.6,345.0 L1524.9,343.9 L1525.2,342.8 L1525.5,341.7 L1525.8,340.8 L1526.1,340.0 L1526.4,339.2 L1526.7,338.4 L1527.0,337.5 L1527.3,336.6 L1527.6,335.5 L1527.9,334.4 L1528.2,333.4 L1528.5,332.3 L1528.8,331.3 L1529.1,330.5 L1529.4,329.6 L1529.7,328.8 L1530.0,328.0 L1530.3,327.0 L1530.6,325.9 L1531.0,324.8 L1531.3,323.7 L1531.7,322.6 L1532.0,321.7 L1532.4,321.0 L1532.7,320.2 L1533.1,319.5 L1533.5,318.5 L1533.9,317.5 L1534.3,316.4 L1534.7,315.4 L1535.2,314.5 L1535.6,313.8 L1536.0,313.0 L1536.5,312.2 L1536.9,311.2 L1537.4,310.1 L1537.8,309.1 L1538.3,308.3 L1538.8,307.6 L1539.2,306.9 L1539.7,306.0 L1540.2,304.9 L1540.7,303.8 L1540.9,303.2 L1541.5,302.5 L1542.0,301.9 L1542.5,301.3 L1543.0,300.3 L1543.2,299.8 L1543.5,299.2 L1543.8,298.7 L1544.0,298.1 L1544.6,297.3 L1545.1,296.5 L1545.6,295.7 L1546.1,294.8 L1546.7,294.0 L1547.2,293.1 L1547.7,292.4 L1548.2,291.8 L1548.8,291.2 L1549.3,290.1 L1549.6,289.5 L1549.8,289.0 L1550.1,288.4 L1550.3,287.8 L1550.9,287.2 L1551.4,286.6 L1551.9,286.0 L1552.5,284.9 L1552.7,284.4 L1553.0,283.9 L1553.3,283.3 L1553.8,282.6 L1554.4,282.1 L1555.0,281.5 L1555.3,281.0 L1555.6,280.4 L1555.9,279.8 L1556.2,279.3 L1556.5,278.7 L1557.1,278.2 L1557.8,277.8 L1558.5,277.1 L1558.9,276.6 L1559.2,276.1 L1559.6,275.6 L1560.4,275.3 L1561.2,275.1 L1561.6,274.7 L1562.1,274.2 L1562.5,273.8 L1563.3,273.4 L1564.2,273.2 L1564.6,272.8 L1565.0,272.3 L1565.5,271.8 L1565.9,271.4 L1566.8,271.4 L1567.7,271.1 L1568.1,270.7 L1568.6,270.3 L1569.5,270.1 L1570.5,270.2 L1571.5,269.9 L1572.4,269.8 L1573.4,269.9 L1574.4,269.5 L1575.4,269.2 L1576.4,269.5 L1577.4,269.8 L1578.3,270.1 L1578.8,270.5 L1579.2,270.9 L1579.7,271.3 L1580.6,271.3 L1581.5,271.4 L1581.9,271.9 L1582.4,272.4 L1582.8,272.9 L1583.6,273.1 L1584.5,273.3 L1584.9,273.8 L1585.3,274.3 L1585.7,274.7 L1586.6,275.4 L1587.3,275.9 L1588.0,276.7 L1588.6,277.6 L1589.1,278.5 L1589.6,279.1 L1590.1,279.7 L1590.6,280.4 L1591.0,281.4 L1591.5,282.5 L1591.9,283.5 L1592.4,284.5 L1592.8,285.1 L1593.3,285.8 L1593.8,286.5 L1594.1,287.0 L1594.3,287.6 L1594.6,288.1 L1594.9,288.7 L1595.2,289.2 L1595.9,289.8 L1596.7,290.1 L1597.6,290.6 L1598.5,290.8 L1599.0,290.5 L1599.5,290.1 L1600.0,289.7 L1600.8,289.6 L1601.7,289.3 L1602.1,288.9 L1602.5,288.4 L1602.9,287.9 L1603.6,287.4 L1604.3,287.1 L1605.1,286.3 L1605.4,285.8 L1605.8,285.3 L1606.1,284.7 L1606.8,284.3 L1607.5,283.8 L1608.2,283.0 L1608.5,282.5 L1608.9,281.9 L1609.2,281.4 L1609.9,281.1 L1610.6,280.8 L1611.4,280.0 L1611.7,279.4 L1612.1,278.9 L1612.4,278.4 L1613.1,278.0 L1613.8,277.5 L1614.5,276.6 L1614.8,276.0 L1615.1,275.5 L1615.5,275.0 L1616.1,274.6 L1616.7,274.1 L1617.4,273.3 L1617.7,272.8 L1618.0,272.3 L1618.3,271.8 L1619.0,270.9 L1619.6,270.1 L1620.2,269.3 L1620.9,268.5 L1621.5,267.6 L1622.2,267.1 L1622.8,266.7 L1623.5,266.1 L1623.8,265.5 L1624.1,265.0 L1624.5,264.5 L1624.8,264.0 L1625.5,263.6 L1626.2,263.2 L1626.9,262.3 L1627.2,261.7 L1627.6,261.2 L1628.0,260.7 L1628.7,260.2 L1629.5,259.6 L1630.2,258.9 L1631.0,258.2 L1631.7,257.9 L1632.5,257.5 L1632.9,257.0 L1633.2,256.5 L1633.6,256.0 L1634.0,255.5 L1634.7,255.2 L1635.5,254.9 L1635.9,254.5 L1636.3,254.0 L1636.6,253.4 L1637.0,252.9 L1637.8,252.3 L1638.6,251.9 L1639.5,251.5 L1640.3,251.1 L1640.7,250.8 L1641.2,250.4 L1641.6,250.0 L1642.5,249.6 L1643.5,249.3 L1644.5,249.4 L1645.5,249.2 L1646.5,248.8 L1647.0,249.1 L1647.4,249.4 L1647.9,249.7 L1648.9,249.6 L1649.9,249.7 L1650.4,250.1 L1650.8,250.4 L1651.8,250.6 L1652.7,250.6 L1653.2,251.0 L1653.6,251.4 L1654.1,251.8 L1655.0,251.9 L1655.9,252.0 L1656.3,252.5 L1656.8,253.0 L1657.2,253.5 L1658.0,253.7 L1658.8,254.0 L1659.4,254.8 L1660.1,255.6 L1660.7,256.4 L1661.4,257.1 L1662.0,257.8 L1662.3,258.3 L1662.6,258.9 L1662.9,259.4 L1663.2,259.9 L1663.5,260.4 L1664.2,260.8 L1664.9,261.2 L1665.7,262.1 L1666.1,262.5 L1666.6,262.9 L1667.5,262.8 L1668.5,262.6 L1669.5,262.9 L1670.4,262.5 L1670.9,262.1 L1671.8,261.8 L1672.6,261.6 L1673.5,260.8 L1673.9,260.3 L1674.3,259.8 L1675.1,259.4 L1675.8,259.2 L1676.2,258.8 L1676.6,258.3 L1677.0,257.9 L1677.4,257.4 L1678.2,257.1 L1679.0,256.8 L1679.4,256.3 L1679.7,255.8 L1680.1,255.2 L1680.5,254.7 L1681.2,254.2 L1681.9,253.8 L1682.5,253.0 L1682.8,252.5 L1683.2,252.0 L1683.5,251.5 L1684.1,250.8 L1684.7,250.3 L1685.3,249.7 L1685.9,248.9 L1686.5,248.1 L1687.1,247.3 L1687.7,246.5 L1688.4,245.7 L1688.7,245.2 L1689.0,244.7 L1689.3,244.2 L1689.6,243.6 L1690.3,243.0 L1691.0,242.6 L1691.7,241.9 L1692.0,241.4 L1692.4,240.9 L1692.8,240.4 L1693.5,239.9 L1694.4,239.7 L1695.2,238.9 L1695.6,238.5 L1696.0,238.0 L1696.9,238.0 L1697.8,237.7 L1698.2,237.2 L1698.6,236.7 L1699.1,236.2 L1700.0,236.1 L1700.8,236.0 L1701.3,235.5 L1701.7,235.1 L1702.2,234.7 L1703.1,234.6 L1704.0,234.4 L1704.5,234.0 L1704.9,233.6 L1705.4,233.3 L1706.3,233.4 L1707.2,233.1 L1707.7,232.7 L1708.1,232.3 L1709.1,232.0 L1710.0,232.1 L1710.4,231.7 L1710.9,231.2 L1711.4,230.7 L1712.3,230.6 L1713.2,230.6 L1714.1,230.1 L1715.0,229.6 L1715.9,229.2 L1716.8,228.6 L1717.3,228.2 L1717.7,227.9 L1718.7,227.9 L1719.6,227.7 L1720.0,227.2 L1720.5,226.8 L1721.4,226.5 L1722.3,226.6 L1722.8,226.3 L1723.3,225.9 L1723.7,225.4 L1724.7,225.3 L1725.6,225.3 L1726.1,224.9 L1726.5,224.4 L1727.0,224.0 L1728.0,224.1 L1728.9,224.1 L1729.4,223.7 L1729.9,223.4 L1730.8,223.2 L1731.8,223.2 L1732.8,222.6 L1733.7,222.2 L1734.7,222.0 L1735.6,221.6 L1736.6,221.3 L1737.6,221.1 L1738.5,220.8 L1739.5,220.5 L1740.5,220.4 L1741.5,220.2 L1742.5,220.0 L1743.4,220.2 L1744.4,220.2 L1744.9,219.8 L1745.4,219.5 L1746.4,219.6 L1747.4,219.8 L1748.4,219.3 L1749.4,219.3 L1750.4,219.4 L1751.4,219.4 L1752.4,219.7 L1753.4,220.2 L1754.4,220.1 L1755.4,220.2 L1756.4,220.4 L1757.4,220.1 L1758.4,220.0 L1758.9,220.4 L1759.4,220.8 L1760.4,220.7 L1761.3,220.6 L1762.3,221.1 L1763.3,221.1 L1764.3,220.9 L1765.3,221.5 L1766.3,221.7 L1767.3,221.7 L1768.3,221.9 L1769.3,221.8 L1770.3,221.5 L1771.3,221.8 L1772.3,222.0 L1773.3,222.1 L1774.3,222.2 L1775.3,222.2 L1776.3,221.7 L1777.3,221.9 L1778.3,222.4 L1779.3,222.0 L1780.3,222.0 L1781.3,222.1 L1782.3,222.1 L1783.3,222.3 L1783.8,222.6 L1784.3,223.0 L1785.3,222.7 L1786.3,222.5 L1787.2,222.6 L1788.2,223.0 L1789.2,223.5 L1790.1,223.5 L1791.0,223.8 L1791.6,224.5 L1792.0,225.4 L1792.4,226.4 L1792.7,227.5 L1793.0,228.6 L1793.3,229.6 L1793.6,230.7 L1793.9,231.6 L1794.2,232.4 L1794.6,233.2 L1795.0,233.8 L1795.7,234.4 L1796.4,234.5 L1797.0,233.9 L1797.5,232.8 L1797.9,231.7 L1798.3,230.6 L1798.7,229.8 L1799.2,229.1 L1799.8,228.4 L1800.5,227.7 L1801.4,227.1 L1802.4,227.3 L1803.4,227.2 L1803.9,226.9 L1804.9,226.7 L1805.4,227.0 L1805.9,227.4 L1806.9,227.1 L1807.9,226.8 L1808.9,227.0 L1809.9,227.1 L1810.9,227.1 L1811.4,227.4 L1811.9,227.7 L1812.9,227.9 L1813.8,227.6 L1814.8,228.2 L1815.3,228.6 L1816.3,228.3 L1817.3,228.2 L1818.2,228.7 L1819.2,228.9 L1820.2,229.1 L1820.6,229.5 L1821.1,229.9 L1821.6,230.2 L1822.6,230.1 L1823.5,230.2 L1824.5,230.9 L1825.4,231.1 L1826.3,231.3 L1826.7,231.7 L1827.1,232.2 L1827.6,232.6 L1828.4,233.0 L1829.2,233.2 L1830.0,234.0 L1830.4,234.4 L1830.8,234.9 L1831.5,235.3 L1832.3,235.7 L1833.0,236.6 L1833.4,237.1 L1833.7,237.7 L1834.1,238.1 L1834.8,238.4 L1835.5,238.8 L1835.8,239.2 L1836.2,239.8 L1836.5,240.3 L1836.9,240.8 L1837.5,241.4 L1838.2,241.8 L1838.9,242.5 L1839.2,243.0 L1839.6,243.5 L1839.9,244.0 L1840.2,244.5 L1840.9,245.0 L1841.6,245.5 L1842.2,246.2 L1842.9,247.1 L1843.5,247.9 L1844.1,248.6 L1844.7,249.3 L1845.3,250.3 L1845.6,250.8 L1845.9,251.4 L1846.2,251.9 L1846.7,252.7 L1847.3,253.3 L1847.8,254.0 L1848.3,255.0 L1848.6,255.5 L1848.9,256.1 L1849.1,256.6 L1849.4,257.2 L1849.9,257.9 L1850.4,258.5 L1850.9,259.1 L1851.3,260.0 L1851.8,261.1 L1852.3,262.2 L1852.7,263.2 L1853.2,263.8 L1853.6,264.5 L1854.1,265.1 L1854.5,266.2 L1854.9,267.3 L1855.3,268.4 L1855.7,269.5 L1856.2,270.2 L1856.6,270.9 L1857.0,271.7 L1857.4,272.6 L1857.8,273.6 L1858.2,274.7 L1858.6,275.8 L1859.0,276.8 L1859.4,277.6 L1859.7,278.3 L1860.1,279.1 L1860.5,280.0 L1860.9,281.0 L1861.3,282.0 L1861.7,283.1 L1862.1,284.0 L1862.5,284.8 L1862.8,285.5 L1863.2,286.3 L1863.6,287.2 L1864.0,288.3 L1864.3,289.4 L1864.7,290.5 L1865.1,291.6 L1865.4,292.3 L1865.8,293.1 L1866.2,293.9 L1866.5,294.7 L1866.9,295.8 L1867.3,296.8 L1867.6,297.9 L1868.0,299.0 L1868.4,299.8 L1868.7,300.6 L1869.1,301.3 L1869.5,302.1 L1869.8,303.0 L1870.2,304.2 L1870.5,305.3 L1870.9,306.4 L1871.3,307.5 L1871.6,308.4 L1872.0,309.3 L1872.3,310.2 L1872.7,311.0 L1873.0,312.0 L1873.4,312.9 L1873.8,313.9 L1874.1,314.8 L1874.5,315.7 L1874.8,316.5 L1875.2,317.2 L1875.5,318.0 L1875.9,318.8 L1876.2,319.9 L1876.6,321.0 L1876.9,322.1 L1877.2,323.2 L1877.6,324.1 L1877.9,324.9 L1878.3,325.7 L1878.6,326.5 L1878.9,327.3 L1879.3,328.4 L1879.6,329.5 L1880.0,330.5 L1880.3,331.6 L1880.6,332.6 L1880.9,333.4 L1881.3,334.2 L1881.6,335.0 L1881.9,335.8 L1882.3,336.8 L1882.6,337.9 L1882.9,339.1 L1883.2,340.2 L1883.6,341.3 L1883.9,342.2 L1884.2,342.9 L1884.5,343.7 L1884.8,344.5 L1885.1,345.3 L1885.5,346.4 L1885.8,347.5 L1886.1,348.6 L1886.4,349.7 L1886.7,350.7 L1887.0,351.5 L1887.3,352.3 L1887.6,353.2 L1888.0,354.0 L1888.3,354.8 L1888.6,355.9 L1888.9,357.0 L1889.2,358.1 L1889.5,359.2 L1889.8,360.3 L1890.1,361.1 L1890.4,361.9 L1890.7,362.7 L1891.0,363.5 L1891.3,364.3 L1891.6,365.4 L1891.9,366.5 L1892.2,367.6 L1892.5,368.7 L1892.8,369.8 L1893.1,370.7 L1893.4,371.5 L1893.7,372.4 L1894.0,373.2 L1894.3,374.0 L1894.7,375.0 L1895.0,376.1 L1895.3,377.1 L1895.6,378.2 L1895.9,379.3 L1896.2,380.2 L1896.5,381.0 L1896.8,381.8 L1897.1,382.6 L1897.4,383.4 L1897.7,384.3 L1898.0,385.3 L1898.3,386.3 L1898.6,387.3 L1898.9,388.3 L1899.2,389.3 L1899.6,390.3 L1899.9,391.4 L1900.2,392.4 L1900.5,393.5 L1900.8,394.5 L1901.2,395.4 L1901.5,396.4 L1901.8,397.4 L1902.1,398.3 L1902.5,399.1 L1902.8,399.9 L1903.2,400.7 L1903.5,401.5 L1903.8,402.4 L1904.2,403.5 L1904.5,404.6 L1904.9,405.7 L1905.2,406.8 L1905.6,407.6 L1905.9,408.4 L1906.3,409.1 L1906.6,409.9 L1907.0,410.8 L1907.4,411.9 L1907.7,413.0 L1908.1,414.1 L1908.4,415.1 L1908.8,415.9 L1909.1,416.7 L1909.5,417.4 L1909.8,418.2 L1910.2,419.2 L1910.5,420.3 L1910.9,421.4 L1911.2,422.6 L1911.5,423.6 L1911.9,424.4 L1912.2,425.2 L1912.5,426.0 L1912.9,426.8 L1913.2,427.7 L1913.5,428.8 L1913.8,429.9 L1914.2,431.0 L1914.5,432.1 L1914.8,433.0 L1915.1,433.8 L1915.4,434.6 L1915.7,435.4 L1916.0,436.1 L1916.3,437.1 L1916.6,438.2 L1916.9,439.3 L1917.2,440.3 L1917.5,441.4 L1917.8,442.5 L1918.1,443.3 L1918.3,444.1 L1918.6,445.0 L1918.9,445.8 L1919.2,446.6 L1919.5,447.7 L1919.8,448.8 L1920.1,449.9 L1920.4,451.1 L1920.7,452.2 L1921.0,453.1 L1921.3,453.8 L1921.6,454.6 L1921.9,455.4 L1922.2,456.1 L1922.5,457.0 L1922.8,458.2 L1923.1,459.3 L1923.4,460.4 L1923.7,461.5 L1924.0,462.5 L1924.3,463.3 L1924.6,464.2 L1925.0,465.0 L1925.3,465.8 L1925.6,466.7 L1925.9,467.8 L1926.2,468.9 L1926.5,470.0 L1926.9,471.2 L1927.2,472.1 L1927.5,473.0 L1927.8,473.9 L1928.2,474.8 L1928.5,475.6 L1928.8,476.6 L1929.1,477.5 L1929.5,478.5 L1929.8,479.5 L1930.1,480.4 L1930.5,481.2 L1930.8,482.1 L1931.1,482.9 L1931.4,483.7 L1931.8,484.6 L1932.1,485.7 L1932.4,486.8 L1932.8,487.9 L1933.1,489.0 L1933.4,489.9 L1933.7,490.8 L1934.1,491.6 L1934.4,492.4 L1934.7,493.2 L1935.1,494.1 L1935.4,495.1 L1935.7,496.1 L1936.0,497.0 L1936.4,498.0 L1936.7,498.9 L1937.0,499.8 L1937.4,500.7 L1937.7,501.7 L1938.0,502.6 L1938.3,503.6 L1938.7,504.5 L1939.0,505.5 L1939.3,506.5 L1939.7,507.5 L1940.0,508.5 L1940.3,509.5 L1940.6,510.5 L1941.0,511.5 L1941.3,512.5 L1941.6,513.5 L1942.0,514.4 L1942.3,515.4 L1942.6,516.3 L1943.0,517.1 L1943.3,517.9 L1943.6,518.8 L1944.0,519.6 L1944.3,520.5 L1944.7,521.5 L1945.0,522.4 L1945.4,523.4 L1945.7,524.3 L1946.0,525.3 L1946.4,526.2 L1946.7,527.1 L1947.1,528.0 L1947.5,529.1 L1947.8,530.2 L1948.2,531.3 L1948.5,532.4 L1948.9,533.3 L1949.3,534.0 L1949.6,534.8 L1950.0,535.5 L1950.3,536.3 L1950.7,537.3 L1951.1,538.3 L1951.5,539.3 L1951.8,540.2 L1952.2,541.1 L1952.6,541.9 L1953.0,542.8 L1953.4,543.7 L1953.7,544.6 L1954.1,545.6 L1954.5,546.6 L1954.9,547.5 L1955.3,548.4 L1955.7,549.3 L1956.1,550.2 L1956.4,551.1 L1956.8,552.2 L1957.2,553.3 L1957.6,554.3 L1958.0,555.4 L1958.4,556.1 L1958.8,556.9 L1959.2,557.6 L1959.6,558.4 L1960.0,559.6 L1960.4,560.7 L1960.8,561.8 L1961.2,562.9 L1961.6,563.6 L1962.0,564.2 L1962.4,564.9 L1962.8,565.8 L1963.2,566.9 L1963.6,568.0 L1964.0,569.2 L1964.4,570.1 L1964.8,570.9 L1965.2,571.6 L1965.6,572.3 L1966.0,573.2 L1966.4,574.3 L1966.8,575.4 L1967.2,576.5 L1967.6,577.4 L1968.0,578.1 L1968.4,578.9 L1968.8,579.6 L1969.2,580.6 L1969.6,581.7 L1970.0,582.7 L1970.4,583.8 L1970.8,584.5 L1971.2,585.2 L1971.6,586.0 L1972.1,586.8 L1972.5,587.9 L1972.9,589.1 L1973.3,590.2 L1973.7,591.1 L1974.1,591.8 L1974.6,592.6 L1975.0,593.3 L1975.4,594.3 L1975.8,595.3 L1976.3,596.4 L1976.7,597.4 L1977.1,598.1 L1977.6,598.9 L1978.0,599.6 L1978.4,600.6 L1978.9,601.7 L1979.3,602.8 L1979.8,603.8 L1980.2,604.5 L1980.7,605.2 L1981.1,605.9 L1981.6,606.8 L1982.0,607.9 L1982.5,608.9 L1983.0,609.9 L1983.4,610.6 L1983.9,611.3 L1984.4,612.0 L1984.8,613.1 L1985.3,614.1 L1985.8,615.2 L1986.3,616.0 L1986.8,616.6 L1987.2,617.3 L1987.7,618.2 L1988.0,618.7 L1988.2,619.3 L1988.5,619.9 L1988.7,620.4 L1989.0,621.0 L1989.5,621.6 L1990.0,622.2 L1990.5,622.9 L1991.0,623.9 L1991.3,624.5 L1991.5,625.1 L1991.8,625.7 L1992.0,626.2 L1992.6,626.8 L1993.1,627.4 L1993.6,627.9 L1994.1,628.9 L1994.4,629.5 L1994.7,630.0 L1994.9,630.6 L1995.2,631.1 L1995.8,631.8 L1996.3,632.4 L1996.8,633.1 L1997.1,633.6 L1997.4,634.2 L1997.7,634.7 L1998.0,635.2 L1998.2,635.8 L1998.8,636.4 L1999.4,637.0 L1999.9,637.7 L2000.2,638.2 L2000.5,638.8 L2000.8,639.3 L2001.1,639.8 L2001.4,640.4 L2002.0,640.9 L2002.6,641.3 L2003.2,642.0 L2003.5,642.6 L2003.8,643.1 L2004.1,643.7 L2004.4,644.2 L2005.0,644.8 L2005.6,645.3 L2006.2,645.9 L2006.8,646.7 L2007.5,647.6 L2008.1,648.4 L2008.7,649.1 L2009.4,650.0 L2009.7,650.5 L2010.0,651.1 L2010.3,651.6 L2010.7,652.1 L2011.3,652.6 L2012.0,653.0 L2012.6,653.8 L2012.9,654.3 L2013.3,654.9 L2013.6,655.4 L2014.3,656.0 L2015.0,656.3 L2015.6,657.0 L2016.0,657.6 L2016.3,658.2 L2016.7,658.7 L2017.4,659.3 L2018.1,659.7 L2018.8,660.3 L2019.2,660.8 L2019.5,661.3 L2019.9,661.8 L2020.6,662.3 L2021.4,662.7 L2022.1,663.5 L2022.5,663.9 L2022.9,664.4 L2023.7,664.8 L2024.5,665.1 L2025.3,665.8 L2025.7,666.3 L2026.1,666.7 L2026.9,667.0 L2027.7,667.1 L2028.1,667.6 L2028.6,668.0 L2029.0,668.4 L2029.9,668.9 L2030.7,669.1 L2031.6,669.8 L2032.0,670.3 L2032.9,670.6 L2033.8,670.5 L2034.7,671.2 L2035.2,671.6 L2036.1,671.8 L2037.0,671.7 L2037.5,672.1 L2038.0,672.5 L2038.4,672.9 L2039.4,673.0 L2040.3,673.0 L2040.8,673.4 L2041.3,673.7 L2042.2,673.9 L2043.2,673.7 L2044.2,674.3 L2045.1,674.5 L2046.1,674.1 L2047.1,674.2 L2048.1,674.5 L2049.0,674.9 L2050.0,675.1 L2051.0,675.1 L2052.0,674.7 L2053.0,674.7 L2054.0,675.1 L2054.9,675.0 L2055.9,674.9 L2056.9,674.8 L2057.9,674.3 L2058.4,674.0 L2059.3,673.9 L2060.3,674.1 L2061.3,673.5 L2062.2,673.2 L2063.2,673.3 L2064.1,672.7 L2064.6,672.3 L2065.5,672.1 L2066.4,672.3 L2066.9,671.9 L2067.4,671.5 L2067.8,671.1 L2068.7,670.9 L2069.6,670.9 L2070.5,670.5 L2071.4,670.1 L2072.3,669.7 L2073.2,669.1 L2073.6,668.6 L2074.1,668.2 L2075.0,668.0 L2075.8,667.8 L2076.3,667.4 L2076.7,666.9 L2077.1,666.4 L2078.0,666.1 L2078.9,666.1 L2079.3,665.7 L2079.7,665.2 L2080.2,664.7 L2081.0,664.4 L2081.9,664.3 L2082.8,663.5 L2083.2,663.0 L2083.6,662.6 L2084.5,662.5 L2085.3,662.1 L2085.8,661.7 L2086.2,661.2 L2086.6,660.7 L2087.5,660.3 L2088.3,659.9 L2089.2,659.4 L2090.0,659.0 L2090.9,658.9 L2091.7,658.3 L2092.1,657.8 L2092.6,657.3 L2093.4,656.9 L2094.2,656.7 L2095.1,656.2 L2095.9,655.6 L2096.7,655.2 L2097.5,654.8 L2097.9,654.2 L2098.3,653.5 L2098.7,652.9 L2099.1,652.3 L2100.3,652.3 L2101.0,651.9 L2101.8,651.3 L2102.5,650.3 L2102.9,649.7 L2103.3,649.0 L2103.7,648.3 L2104.0,647.8 L2104.4,647.2 L2104.8,646.7 L2105.1,646.2 L2105.9,646.6 L2106.6,647.2 L2107.3,645.8 L2107.7,644.7 L2108.0,643.6 L2108.4,642.6 L2108.7,643.2 L2109.1,643.9 L2109.4,644.5 L2109.8,645.1 L2110.1,644.3 L2110.5,642.9 L2110.8,641.6 L2111.2,640.2 L2111.5,639.3 L2111.9,640.0 L2112.2,640.6 L2112.6,641.3 L2112.9,641.9 L2113.3,641.0 L2113.6,639.7 L2114.0,638.4 L2114.3,637.1 L2114.7,636.4 L2115.0,636.9 L2115.4,637.5 L2115.7,638.0 L2116.1,638.5 L2116.4,637.4 L2116.8,636.1 L2117.1,634.8 L2117.5,633.5 L2117.8,633.0 L2118.2,633.5 L2118.5,634.0 L2118.8,634.5 L2119.2,634.9 L2119.5,633.8 L2119.9,632.7 L2120.3,631.5 L2120.6,630.4 L2121.0,629.8 L2121.7,629.4 L2122.4,629.0 L2122.7,628.4 L2123.1,627.9 L2123.4,627.3 L2123.8,626.8 L2124.5,626.6 L2125.6,626.3 L2125.9,625.8 L2126.3,625.2 L2126.6,624.7 L2127.0,624.2 L2127.3,624.7 L2127.6,625.2 L2128.0,625.7 L2128.3,626.1 L2129.0,624.5 L2129.3,623.1 L2129.6,621.8 L2130.0,620.4 L2130.6,620.7 L2131.2,621.3 L2131.8,620.9 L2132.1,620.0 L2132.3,619.0 L2132.6,618.1 L2132.8,617.1 L2133.1,616.2 L2133.9,616.2 L2134.7,615.8 L2134.9,614.9 L2135.0,614.0 L2135.2,613.1 L2135.3,612.2 L2135.5,611.3 L2135.6,610.4 L2135.7,609.6 L2135.9,608.7 L2136.0,607.8 L2136.1,607.0 L2136.2,606.2 L2136.6,605.5 L2136.9,604.9 L2137.2,604.2 L2137.5,603.4 L2137.7,602.6 L2137.8,601.8 L2138.0,600.6 L2138.1,599.3 L2138.2,598.1 L2138.4,596.8 L2138.5,595.5 L2138.5,595.4" stroke="#ff0000" stroke-width="4.2"/>
<path d="M222.0,44.8 L222.5,44.5 L223.0,44.1 L223.5,43.8 L224.5,44.4 L225.0,44.8 L226.0,44.3 L227.0,44.2 L227.5,44.6 L228.0,45.0 L229.0,44.5 L229.5,44.1 L230.5,44.4 L231.0,44.8 L232.0,44.7 L233.0,44.3 L234.0,44.9 L235.0,44.8 L236.0,44.3 L236.5,44.6 L237.0,44.9 L237.5,45.3 L238.5,45.3 L239.5,45.4 L240.5,45.7 L241.5,45.1 L242.0,44.7 L243.0,44.7 L244.0,44.7 L245.0,44.6 L246.0,45.1 L246.5,45.5 L247.5,45.3 L248.0,45.0 L249.0,45.3 L249.5,45.7 L250.0,46.0 L251.0,46.0 L252.0,46.1 L253.0,46.2 L253.5,45.9 L254.0,45.5 L254.5,45.1 L255.5,45.3 L256.5,45.5 L257.5,45.5 L258.5,46.2 L259.0,46.7 L260.0,46.8 L260.9,46.7 L261.9,46.8 L262.9,46.3 L263.4,45.9 L264.4,46.0 L264.9,46.4 L265.9,46.2 L266.4,45.6 L266.9,45.0 L267.4,45.5 L268.3,46.0 L269.0,45.1 L269.3,44.3 L269.6,43.6 L269.8,42.8 L270.0,42.2 L270.4,41.7 L271.1,42.0 L271.4,42.7 L271.5,43.4 L271.8,44.2 L272.1,44.8 L272.4,45.4 L272.7,46.0 L273.0,46.6 L273.2,47.4 L273.5,48.7 L273.7,49.9 L274.1,51.2 L274.3,51.8 L274.4,52.5 L274.6,53.1 L275.0,53.9 L275.6,54.3 L276.4,53.8 L277.0,53.5 L277.5,53.1 L278.2,52.2 L278.6,51.5 L279.1,50.8 L279.5,50.4 L280.4,50.7 L281.3,50.5 L281.7,50.0 L282.2,49.5 L283.2,49.9 L283.7,50.3 L284.7,50.0 L285.2,49.6 L286.1,50.5 L286.6,51.5 L287.0,52.5 L287.7,51.7 L288.3,51.1 L288.8,51.5 L289.1,52.9 L289.4,54.5 L289.8,56.2 L290.3,57.5 L291.3,57.2 L292.3,57.5 L292.8,57.8 L293.3,58.2 L293.8,56.3 L294.3,54.4 L294.8,52.6 L295.3,53.9 L295.8,55.6 L296.3,57.3 L296.8,56.3 L297.3,54.5 L297.8,52.8 L298.3,53.4 L298.8,55.2 L299.3,57.0 L300.3,55.3 L300.8,53.7 L301.3,53.0 L302.3,53.4 L303.3,53.4 L304.3,53.8 L304.8,55.5 L305.3,57.1 L305.8,58.2 L306.3,56.3 L306.8,54.4 L307.3,52.8 L307.8,54.9 L308.3,57.0 L308.8,59.0 L309.3,56.8 L309.8,54.5 L310.3,52.1 L310.8,53.8 L311.3,56.2 L311.8,58.5 L312.8,58.3 L313.3,57.8 L314.3,58.0 L315.3,57.1 L315.8,55.1 L316.3,53.1 L317.3,55.0 L317.8,57.0 L318.3,57.5 L318.8,55.6 L319.3,53.6 L319.8,52.4 L320.3,52.9 L320.8,53.4 L321.3,54.1 L321.8,55.2 L322.3,56.3 L322.8,57.2 L323.3,56.2 L323.8,55.3 L324.3,54.3 L324.8,53.9 L325.3,53.4 L325.8,53.0 L326.3,54.9 L326.8,57.1 L327.3,59.2 L327.8,58.1 L328.3,55.9 L328.8,53.7 L329.3,54.3 L329.8,56.3 L330.3,58.1 L331.0,56.2 L331.3,54.6 L331.6,53.1 L331.8,51.6 L332.1,50.5 L332.6,51.2 L333.2,52.1 L333.6,52.8 L334.1,52.3 L334.6,51.8 L335.1,51.4 L336.1,51.4 L337.1,51.3 L337.6,50.9 L338.1,50.6 L339.1,50.9 L340.1,51.1 L341.1,50.5 L342.1,50.8 L343.1,51.1 L344.1,50.6 L345.1,50.7 L346.1,51.2 L346.6,50.8 L347.1,50.5 L348.1,50.6 L348.6,50.9 L349.1,51.3 L349.6,50.9 L350.1,50.5 L350.6,50.2 L351.1,50.5 L351.6,51.0 L352.1,51.5 L353.1,50.9 L353.9,51.6 L354.2,52.7 L354.4,53.9 L354.5,55.0 L354.7,56.1 L354.8,57.2 L355.0,58.3 L355.1,59.4 L355.3,60.5 L355.4,61.5 L355.5,62.4 L355.7,63.2 L355.8,64.1 L356.0,65.0 L356.1,65.9 L356.3,66.7 L356.5,67.6 L356.8,68.3 L357.2,69.5 L357.5,70.1 L357.7,70.7 L358.0,71.4 L358.3,72.0 L358.9,72.5 L359.8,72.7 L360.2,73.1 L360.6,73.8 L361.0,74.5 L361.4,75.1 L362.4,74.8 L362.9,74.3 L363.8,74.4 L364.9,73.8 L365.2,73.2 L365.6,72.5 L366.0,71.8 L366.7,71.5 L367.6,71.7 L368.4,71.2 L369.3,70.6 L370.2,70.2 L371.1,69.8 L371.6,69.3 L372.1,69.0 L372.9,69.9 L373.2,70.5 L373.5,71.1 L373.8,71.7 L374.3,72.4 L374.8,72.9 L375.2,73.5 L375.7,74.4 L376.0,75.0 L376.3,75.5 L376.6,76.1 L376.9,76.7 L377.7,76.8 L378.6,76.6 L379.1,77.2 L379.6,77.7 L380.1,78.3 L380.6,77.9 L381.1,77.5 L381.6,77.1 L382.1,77.5 L382.6,78.1 L383.1,78.7 L384.0,78.5 L384.9,78.3 L385.3,78.9 L385.7,79.4 L385.9,80.6 L386.0,81.6 L386.1,82.7 L386.2,83.7 L386.3,84.8 L386.4,85.7 L386.4,86.7 L386.5,87.7 L386.6,88.6 L386.6,89.6 L386.7,90.5 L386.7,91.5 L386.8,92.4 L386.9,93.4 L387.0,94.3 L387.0,95.3 L387.1,96.2 L387.2,97.2 L387.4,98.1 L387.9,98.6 L388.3,99.2 L388.7,99.9 L389.2,100.5 L390.1,100.2 L390.6,99.8 L391.6,100.2 L392.1,100.8 L392.6,101.2 L393.5,101.0 L394.1,101.4 L394.3,102.5 L394.5,103.6 L394.6,104.6 L394.7,105.7 L394.8,106.7 L394.9,107.8 L395.0,108.9 L395.1,109.9 L395.1,111.0 L395.2,112.0 L395.3,113.0 L395.4,114.1 L395.5,115.1 L395.5,116.2 L395.6,117.2 L395.7,118.2 L395.8,119.1 L395.8,120.1 L395.9,121.0 L396.0,122.0 L396.1,122.9 L396.2,123.9 L396.3,124.8 L396.4,125.7 L396.5,126.7 L396.7,127.6 L396.8,128.5 L397.0,129.4 L397.1,130.3 L397.2,131.3 L397.4,132.4 L397.5,133.4 L397.7,134.5 L397.8,135.6 L398.0,136.6 L398.2,137.7 L398.4,138.8 L398.5,139.9 L398.8,140.9 L399.0,141.7 L399.3,142.4 L399.7,143.1 L400.2,143.6 L400.5,144.1 L400.8,144.8 L401.2,145.5 L401.6,146.1 L402.0,146.5 L402.8,146.6 L403.5,146.9 L403.8,147.5 L404.1,148.1 L404.3,148.7 L404.6,149.3 L405.0,150.4 L405.2,151.2 L405.3,152.1 L405.4,153.1 L405.5,154.0 L405.6,154.9 L405.7,155.9 L405.8,156.8 L405.9,157.8 L405.9,158.7 L406.0,159.7 L406.1,160.6 L406.2,161.6 L406.2,162.6 L406.3,163.5 L406.4,164.5 L406.4,165.4 L406.5,166.4 L406.6,167.5 L406.7,168.5 L406.8,169.6 L406.9,170.6 L407.0,171.7 L407.1,172.7 L407.2,173.8 L407.2,174.8 L407.3,175.8 L407.4,176.9 L407.5,177.9 L407.6,179.0 L407.7,180.0 L407.8,181.1 L407.9,182.1 L408.0,183.2 L408.0,184.1 L408.1,185.1 L408.2,186.0 L408.3,186.9 L408.4,187.8 L408.5,188.8 L408.6,189.7 L408.7,190.6 L408.8,191.5 L409.0,192.4 L409.1,193.3 L409.2,194.2 L409.4,195.0 L409.7,196.0 L410.1,197.3 L410.3,197.9 L410.6,198.6 L410.9,199.2 L411.6,199.7 L412.4,199.7 L413.3,200.4 L413.7,201.0 L414.0,201.6 L414.7,202.1 L415.2,202.6 L415.6,203.2 L415.9,204.2 L416.1,205.3 L416.3,206.5 L416.4,207.6 L416.6,208.8 L416.7,209.9 L416.9,211.0 L417.0,212.1 L417.1,213.2 L417.3,214.4 L417.4,215.3 L417.5,216.2 L417.6,217.1 L417.8,218.0 L417.9,218.8 L418.0,219.7 L418.1,220.6 L418.2,221.5 L418.4,222.4 L418.5,223.3 L418.6,224.2 L418.7,225.1 L418.9,226.0 L419.0,227.0 L419.1,228.1 L419.3,229.2 L419.4,230.3 L419.6,231.3 L419.7,232.4 L419.9,233.5 L420.1,234.6 L420.3,235.7 L420.5,236.7 L420.7,237.6 L420.9,238.5 L421.1,239.4 L421.3,240.2 L421.5,241.1 L421.8,242.0 L422.0,242.9 L422.2,244.0 L422.4,245.0 L422.7,246.1 L422.9,247.2 L423.2,248.2 L423.4,249.3 L423.7,250.2 L423.9,251.0 L424.2,251.9 L424.4,252.7 L424.7,253.5 L425.0,254.3 L425.2,255.4 L425.5,256.5 L425.8,257.6 L426.0,258.7 L426.3,259.8 L426.5,260.9 L426.8,261.9 L427.1,262.9 L427.3,263.8 L427.6,264.7 L427.8,265.7 L428.1,266.6 L428.3,267.6 L428.6,268.6 L428.8,269.5 L429.0,270.5 L429.3,271.5 L429.5,272.4 L429.8,273.4 L430.0,274.3 L430.2,275.2 L430.4,276.1 L430.7,277.1 L430.9,278.0 L431.1,278.9 L431.4,279.9 L431.6,280.9 L431.8,282.0 L432.0,283.0 L432.3,284.0 L432.5,285.1 L432.7,286.1 L432.9,287.1 L433.2,288.1 L433.4,289.0 L433.6,290.0 L433.9,290.9 L434.1,291.9 L434.3,292.9 L434.6,293.8 L434.8,294.8 L435.0,295.8 L435.3,296.7 L435.5,297.7 L435.8,298.7 L436.1,299.6 L436.3,300.5 L436.6,301.4 L436.8,302.3 L437.1,303.2 L437.4,304.1 L437.7,305.1 L438.0,306.2 L438.3,307.2 L438.6,308.3 L438.8,309.3 L439.1,310.2 L439.5,311.1 L439.8,312.0 L440.1,312.8 L440.4,313.7 L440.7,314.6 L441.0,315.6 L441.3,316.7 L441.6,317.7 L441.9,318.8 L442.3,319.7 L442.6,320.6 L442.9,321.4 L443.2,322.3 L443.5,323.2 L443.9,324.1 L444.2,325.2 L444.5,326.2 L444.8,327.2 L445.1,328.2 L445.5,329.1 L445.8,330.0 L446.1,330.8 L446.4,331.6 L446.7,332.5 L447.0,333.5 L447.4,334.6 L447.7,335.6 L448.0,336.7 L448.3,337.7 L448.6,338.6 L448.9,339.5 L449.2,340.4 L449.4,341.2 L449.7,342.1 L450.0,343.1 L450.3,344.1 L450.6,345.2 L450.8,346.2 L451.1,347.2 L451.4,348.3 L451.6,349.2 L451.9,350.1 L452.1,351.0 L452.4,351.9 L452.6,352.8 L452.9,353.7 L453.1,354.7 L453.4,355.7 L453.6,356.7 L453.8,357.7 L454.1,358.8 L454.3,359.8 L454.5,360.8 L454.8,361.7 L455.0,362.6 L455.2,363.5 L455.5,364.5 L455.7,365.4 L455.9,366.3 L456.1,367.3 L456.4,368.3 L456.6,369.3 L456.8,370.4 L457.0,371.4 L457.3,372.5 L457.5,373.5 L457.7,374.5 L458.0,375.4 L458.2,376.3 L458.4,377.2 L458.7,378.1 L458.9,379.0 L459.1,379.9 L459.4,381.0 L459.6,382.0 L459.9,383.0 L460.1,384.1 L460.4,385.1 L460.6,386.1 L460.9,387.1 L461.1,388.0 L461.4,388.8 L461.6,389.7 L461.9,390.6 L462.2,391.5 L462.4,392.4 L462.7,393.5 L462.9,394.6 L463.2,395.6 L463.5,396.7 L463.7,397.7 L464.0,398.7 L464.3,399.5 L464.5,400.4 L464.8,401.3 L465.1,402.2 L465.3,403.1 L465.6,404.1 L465.9,405.1 L466.1,406.1 L466.4,407.2 L466.7,408.2 L466.9,409.2 L467.2,410.1 L467.4,411.0 L467.7,411.9 L468.0,412.8 L468.2,413.7 L468.5,414.7 L468.7,415.7 L469.0,416.7 L469.3,417.8 L469.5,418.8 L469.8,419.9 L470.0,420.9 L470.3,421.8 L470.5,422.7 L470.7,423.5 L471.0,424.4 L471.2,425.3 L471.5,426.2 L471.7,427.2 L472.0,428.2 L472.2,429.3 L472.4,430.3 L472.7,431.4 L472.9,432.5 L473.1,433.5 L473.4,434.4 L473.6,435.3 L473.8,436.2 L474.1,437.1 L474.3,438.0 L474.5,438.9 L474.8,439.9 L475.0,440.9 L475.2,441.9 L475.5,443.0 L475.7,444.0 L475.9,445.0 L476.2,446.1 L476.4,447.0 L476.6,447.9 L476.8,448.8 L477.1,449.7 L477.3,450.6 L477.5,451.5 L477.8,452.4 L478.0,453.5 L478.2,454.5 L478.5,455.6 L478.7,456.7 L478.9,457.7 L479.2,458.8 L479.4,459.8 L479.7,460.7 L479.9,461.6 L480.1,462.5 L480.4,463.4 L480.6,464.3 L480.8,465.2 L481.1,466.2 L481.3,467.2 L481.6,468.2 L481.8,469.3 L482.0,470.3 L482.3,471.3 L482.5,472.3 L482.8,473.2 L483.0,474.1 L483.2,475.0 L483.5,475.9 L483.7,476.8 L484.0,477.7 L484.2,478.7 L484.5,479.8 L484.7,480.9 L484.9,481.9 L485.2,483.0 L485.4,484.0 L485.7,485.0 L485.9,485.9 L486.2,486.8 L486.4,487.7 L486.6,488.6 L486.9,489.5 L487.1,490.4 L487.4,491.4 L487.6,492.4 L487.8,493.5 L488.1,494.5 L488.3,495.5 L488.6,496.6 L488.8,497.5 L489.1,498.5 L489.3,499.5 L489.5,500.4 L489.8,501.4 L490.0,502.3 L490.3,503.3 L490.5,504.3 L490.7,505.3 L491.0,506.3 L491.2,507.3 L491.5,508.2 L491.7,509.2 L492.0,510.2 L492.2,511.1 L492.4,512.1 L492.7,513.0 L492.9,514.0 L493.2,514.9 L493.4,515.9 L493.6,516.9 L493.9,517.9 L494.1,518.9 L494.4,519.9 L494.6,520.9 L494.9,521.9 L495.1,522.8 L495.4,523.6 L495.6,524.5 L495.8,525.4 L496.1,526.3 L496.3,527.2 L496.6,528.2 L496.8,529.3 L497.1,530.3 L497.3,531.4 L497.6,532.4 L497.8,533.5 L498.1,534.4 L498.3,535.3 L498.6,536.2 L498.8,537.1 L499.1,538.0 L499.3,538.9 L499.6,539.9 L499.8,540.9 L500.1,542.0 L500.3,543.0 L500.6,544.1 L500.9,545.1 L501.1,546.1 L501.4,547.0 L501.6,547.8 L501.9,548.7 L502.1,549.6 L502.4,550.5 L502.6,551.4 L502.9,552.4 L503.2,553.5 L503.4,554.5 L503.7,555.6 L503.9,556.6 L504.2,557.6 L504.4,558.5 L504.7,559.4 L505.0,560.2 L505.2,561.1 L505.5,562.0 L505.7,562.9 L506.0,563.9 L506.3,564.9 L506.5,565.9 L506.8,566.9 L507.0,567.9 L507.3,568.9 L507.6,569.8 L507.8,570.7 L508.1,571.7 L508.3,572.6 L508.6,573.6 L508.9,574.6 L509.1,575.6 L509.4,576.6 L509.6,577.7 L509.9,578.7 L510.2,579.7 L510.4,580.7 L510.7,581.6 L510.9,582.5 L511.2,583.5 L511.5,584.4 L511.7,585.3 L512.0,586.3 L512.3,587.3 L512.5,588.3 L512.8,589.4 L513.0,590.4 L513.3,591.4 L513.6,592.4 L513.8,593.3 L514.1,594.2 L514.3,595.1 L514.6,596.0 L514.9,596.8 L515.1,597.8 L515.4,598.8 L515.6,599.7 L515.9,600.7 L516.2,601.7 L516.4,602.7 L516.7,603.6 L516.9,604.6 L517.2,605.6 L517.5,606.5 L517.7,607.5 L518.0,608.4 L518.2,609.5 L518.5,610.5 L518.7,611.5 L519.0,612.6 L519.3,613.6 L519.5,614.7 L519.8,615.6 L520.0,616.5 L520.3,617.4 L520.5,618.2 L520.8,619.1 L521.0,620.0 L521.3,621.0 L521.5,622.0 L521.8,623.1 L522.1,624.1 L522.3,625.2 L522.6,626.2 L522.8,627.2 L523.1,628.1 L523.3,629.0 L523.6,629.9 L523.8,630.8 L524.1,631.7 L524.3,632.6 L524.6,633.7 L524.8,634.7 L525.1,635.7 L525.4,636.7 L525.6,637.8 L525.9,638.8 L526.1,639.7 L526.4,640.6 L526.6,641.5 L526.9,642.4 L527.1,643.3 L527.4,644.2 L527.6,645.3 L527.9,646.3 L528.1,647.4 L528.4,648.4 L528.7,649.4 L528.9,650.5 L529.2,651.3 L529.4,652.2 L529.7,653.1 L529.9,654.0 L530.2,654.9 L530.4,655.8 L530.7,656.8 L530.9,657.8 L531.2,658.8 L531.5,659.9 L531.7,660.9 L532.0,661.9 L532.2,662.9 L532.5,663.8 L532.7,664.7 L533.0,665.6 L533.2,666.5 L533.5,667.4 L533.8,668.5 L534.0,669.5 L534.3,670.5 L534.6,671.5 L534.8,672.6 L535.1,673.6 L535.4,674.5 L535.7,675.3 L536.1,676.2 L536.4,677.1 L536.7,678.0 L537.1,679.0 L537.4,680.0 L537.8,681.0 L538.1,682.0 L538.5,682.9 L538.8,683.7 L539.2,684.6 L539.6,685.4 L539.9,686.3 L540.3,687.4 L540.6,688.4 L541.0,689.4 L541.3,690.5 L541.7,691.3 L542.0,692.1 L542.3,693.0 L542.6,693.8 L543.0,694.8 L543.3,695.8 L543.6,696.9 L543.9,697.9 L544.3,698.9 L544.6,699.9 L544.9,700.7 L545.3,701.6 L545.6,702.4 L545.9,703.3 L546.3,704.3 L546.6,705.3 L547.0,706.4 L547.3,707.4 L547.7,708.3 L548.0,709.2 L548.4,710.0 L548.8,710.9 L549.1,711.7 L549.5,712.7 L549.9,713.6 L550.3,714.5 L550.7,715.5 L551.1,716.3 L551.4,717.2 L551.8,718.1 L552.3,719.0 L552.7,720.0 L553.1,721.0 L553.5,722.1 L553.9,723.0 L554.4,723.8 L554.8,724.6 L555.2,725.4 L555.7,726.3 L556.1,727.2 L556.6,728.1 L557.0,729.0 L557.5,729.9 L558.0,730.7 L558.4,731.6 L558.9,732.6 L559.4,733.6 L559.9,734.5 L560.4,735.3 L560.9,736.1 L561.4,736.9 L561.9,737.8 L562.5,738.8 L563.1,739.7 L563.6,740.3 L564.3,741.0 L564.9,741.7 L565.6,742.7 L566.2,743.5 L567.0,743.9 L567.7,744.4 L568.1,744.8 L568.4,745.3 L568.8,745.7 L569.2,746.1 L570.0,746.5 L570.8,746.8 L571.7,747.4 L572.5,748.0 L573.4,748.5 L574.3,749.0 L575.1,749.6 L576.1,749.9 L577.0,750.0 L577.9,750.6 L578.9,751.0 L579.8,751.0 L580.8,751.4 L581.8,751.8 L582.7,752.0 L583.7,752.2 L584.7,752.3 L585.7,752.2 L586.7,752.4 L587.7,752.8 L588.6,752.7 L589.6,752.6 L590.6,752.9 L591.6,752.8 L592.6,752.7 L593.6,753.1 L594.6,753.0 L595.6,752.8 L596.6,753.1 L597.6,753.1 L598.6,752.9 L599.6,753.1 L600.6,753.2 L601.6,753.0 L602.6,753.2 L603.6,753.3 L604.6,753.0 L605.6,753.0 L606.6,753.0 L607.6,752.6 L608.6,752.7 L609.6,752.9 L610.6,752.4 L611.6,752.1 L612.5,751.9 L613.5,751.7 L614.5,751.5 L615.4,751.5 L616.4,751.1 L617.3,750.6 L618.3,750.5 L619.2,750.2 L620.1,749.5 L621.0,749.2 L621.9,749.0 L622.7,748.3 L623.6,747.6 L624.4,747.3 L625.2,746.9 L625.6,746.5 L626.0,746.0 L626.3,745.6 L627.1,745.1 L627.8,744.6 L628.5,743.9 L628.9,743.4 L629.2,742.9 L629.6,742.5 L630.2,741.7 L630.9,741.0 L631.5,740.3 L632.2,739.5 L632.8,738.7 L633.4,738.0 L633.9,737.4 L634.5,736.6 L635.1,735.6 L635.6,734.5 L636.1,733.7 L636.6,733.1 L637.2,732.4 L637.7,731.5 L638.1,730.5 L638.6,729.5 L639.1,728.5 L639.6,727.7 L640.0,726.8 L640.5,725.9 L640.9,725.0 L641.3,724.0 L641.7,723.1 L642.2,722.1 L642.6,721.4 L643.0,720.6 L643.4,719.8 L643.7,718.9 L644.1,717.9 L644.5,716.9 L644.8,715.9 L645.2,714.9 L645.5,714.0 L645.9,713.2 L646.2,712.3 L646.5,711.4 L646.8,710.5 L647.2,709.5 L647.5,708.4 L647.8,707.4 L648.1,706.3 L648.4,705.4 L648.7,704.5 L649.0,703.6 L649.3,702.8 L649.6,701.9 L649.9,701.0 L650.2,700.0 L650.5,699.0 L650.8,698.1 L651.1,697.1 L651.3,696.1 L651.6,695.2 L651.9,694.2 L652.2,693.3 L652.4,692.3 L652.7,691.4 L653.0,690.4 L653.2,689.4 L653.5,688.3 L653.7,687.3 L654.0,686.3 L654.2,685.2 L654.5,684.2 L654.7,683.3 L655.0,682.4 L655.2,681.5 L655.5,680.6 L655.7,679.7 L656.0,678.8 L656.2,677.8 L656.5,676.8 L656.7,675.9 L657.0,674.9 L657.3,673.9 L657.5,673.0 L657.8,672.0 L658.1,671.1 L658.4,670.1 L658.7,669.2 L659.0,668.2 L659.2,667.2 L659.5,666.2 L659.8,665.1 L660.1,664.1 L660.4,663.0 L660.7,662.0 L661.0,661.2 L661.4,660.4 L661.7,659.5 L662.0,658.7 L662.3,657.8 L662.6,656.7 L662.9,655.7 L663.2,654.6 L663.5,653.6 L663.8,652.6 L664.1,651.7 L664.4,650.9 L664.7,650.0 L664.9,649.1 L665.2,648.2 L665.5,647.2 L665.8,646.2 L666.0,645.1 L666.3,644.1 L666.5,643.0 L666.8,641.9 L667.0,641.0 L667.2,640.1 L667.5,639.2 L667.7,638.3 L667.9,637.4 L668.1,636.5 L668.3,635.6 L668.6,634.6 L668.8,633.5 L669.0,632.5 L669.2,631.5 L669.4,630.4 L669.6,629.4 L669.8,628.4 L669.9,627.3 L670.1,626.4 L670.3,625.4 L670.5,624.5 L670.7,623.6 L670.8,622.6 L671.0,621.7 L671.2,620.7 L671.4,619.8 L671.5,618.8 L671.7,617.8 L671.9,616.8 L672.0,615.7 L672.2,614.7 L672.4,613.7 L672.6,612.7 L672.7,611.6 L672.9,610.6 L673.0,609.6 L673.2,608.6 L673.4,607.7 L673.5,606.7 L673.7,605.8 L673.9,604.9 L674.0,603.9 L674.2,603.0 L674.3,602.0 L674.5,601.1 L674.7,600.1 L674.8,599.1 L675.0,598.1 L675.1,597.0 L675.3,596.0 L675.4,595.0 L675.6,593.9 L675.8,592.9 L675.9,591.9 L676.1,590.9 L676.2,589.9 L676.4,588.9 L676.6,588.0 L676.7,587.0 L676.9,586.1 L677.0,585.1 L677.2,584.2 L677.4,583.2 L677.5,582.3 L677.7,581.4 L677.8,580.3 L678.0,579.3 L678.2,578.3 L678.3,577.3 L678.5,576.3 L678.7,575.2 L678.8,574.2 L679.0,573.2 L679.2,572.2 L679.4,571.2 L679.5,570.3 L679.7,569.3 L679.9,568.4 L680.0,567.5 L680.2,566.5 L680.4,565.6 L680.6,564.6 L680.8,563.7 L680.9,562.7 L681.1,561.6 L681.3,560.6 L681.5,559.6 L681.7,558.5 L681.8,557.5 L682.0,556.5 L682.2,555.4 L682.4,554.4 L682.6,553.5 L682.8,552.6 L683.0,551.6 L683.1,550.7 L683.3,549.8 L683.5,548.9 L683.7,547.9 L683.9,547.0 L684.1,546.0 L684.3,544.9 L684.5,543.9 L684.7,542.8 L684.9,541.8 L685.0,540.7 L685.2,539.7 L685.4,538.7 L685.6,537.7 L685.8,536.8 L686.0,535.9 L686.2,535.0 L686.4,534.1 L686.5,533.1 L686.7,532.2 L686.9,531.3 L687.1,530.3 L687.3,529.3 L687.5,528.3 L687.7,527.2 L687.8,526.2 L688.0,525.2 L688.2,524.1 L688.4,523.1 L688.6,522.1 L688.7,521.1 L688.9,520.2 L689.1,519.2 L689.3,518.3 L689.5,517.4 L689.6,516.4 L689.8,515.5 L690.0,514.5 L690.2,513.6 L690.4,512.5 L690.5,511.5 L690.7,510.5 L690.9,509.4 L691.1,508.4 L691.2,507.3 L691.4,506.3 L691.6,505.3 L691.7,504.3 L691.9,503.4 L692.1,502.4 L692.3,501.5 L692.4,500.6 L692.6,499.6 L692.8,498.7 L693.0,497.8 L693.1,496.8 L693.3,495.8 L693.5,494.8 L693.6,493.8 L693.8,492.7 L694.0,491.7 L694.1,490.6 L694.3,489.6 L694.5,488.6 L694.7,487.5 L694.8,486.5 L695.0,485.6 L695.2,484.7 L695.3,483.7 L695.5,482.8 L695.7,481.9 L695.8,480.9 L696.0,480.0 L696.2,479.0 L696.3,478.1 L696.5,477.1 L696.7,476.0 L696.8,475.0 L697.0,473.9 L697.1,472.9 L697.3,471.9 L697.5,470.8 L697.6,469.8 L697.8,468.7 L698.0,467.8 L698.1,466.8 L698.3,465.9 L698.4,465.0 L698.6,464.0 L698.8,463.1 L698.9,462.2 L699.1,461.2 L699.2,460.3 L699.4,459.3 L699.6,458.3 L699.7,457.3 L699.9,456.4 L700.0,455.4 L700.2,454.4 L700.4,453.4 L700.5,452.4 L700.7,451.4 L700.8,450.4 L701.0,449.4 L701.1,448.4 L701.3,447.4 L701.4,446.5 L701.6,445.5 L701.8,444.5 L701.9,443.5 L702.1,442.6 L702.2,441.6 L702.4,440.6 L702.5,439.6 L702.7,438.6 L702.9,437.6 L703.0,436.6 L703.2,435.6 L703.3,434.6 L703.5,433.6 L703.6,432.6 L703.8,431.6 L704.0,430.6 L704.1,429.6 L704.3,428.6 L704.5,427.7 L704.6,426.7 L704.8,425.7 L705.0,424.7 L705.1,423.8 L705.3,422.8 L705.5,421.8 L705.6,420.8 L705.8,419.8 L706.0,418.8 L706.2,417.8 L706.3,416.7 L706.5,415.7 L706.7,414.7 L706.9,413.7 L707.0,412.6 L707.2,411.6 L707.4,410.7 L707.6,409.7 L707.8,408.8 L707.9,407.8 L708.1,406.9 L708.3,406.0 L708.5,405.0 L708.7,404.1 L708.9,403.1 L709.1,402.0 L709.2,401.0 L709.4,400.0 L709.6,399.0 L709.8,398.0 L710.0,396.9 L710.2,395.9 L710.4,395.0 L710.6,394.0 L710.8,393.1 L711.0,392.1 L711.1,391.2 L711.3,390.2 L711.5,389.3 L711.7,388.4 L711.9,387.4 L712.1,386.4 L712.3,385.4 L712.5,384.4 L712.7,383.4 L712.9,382.4 L713.1,381.4 L713.3,380.5 L713.5,379.5 L713.7,378.4 L713.9,377.4 L714.1,376.4 L714.3,375.4 L714.5,374.4 L714.7,373.4 L714.9,372.4 L715.1,371.4 L715.3,370.4 L715.5,369.4 L715.7,368.4 L715.9,367.4 L716.1,366.4 L716.3,365.4 L716.5,364.5 L716.7,363.5 L716.9,362.5 L717.1,361.5 L717.3,360.6 L717.5,359.6 L717.8,358.6 L718.0,357.7 L718.2,356.7 L718.4,355.7 L718.6,354.7 L718.8,353.7 L719.0,352.8 L719.3,351.8 L719.5,350.8 L719.7,349.9 L719.9,349.0 L720.1,348.0 L720.4,347.1 L720.6,346.2 L720.8,345.3 L721.0,344.4 L721.2,343.4 L721.5,342.4 L721.7,341.3 L721.9,340.3 L722.1,339.3 L722.4,338.2 L722.6,337.2 L722.8,336.2 L723.1,335.3 L723.3,334.4 L723.5,333.5 L723.8,332.6 L724.0,331.7 L724.2,330.8 L724.5,329.8 L724.7,328.8 L724.9,327.8 L725.2,326.8 L725.4,325.9 L725.6,324.9 L725.9,323.9 L726.1,322.8 L726.3,321.8 L726.6,320.8 L726.8,319.8 L727.1,318.8 L727.3,317.8 L727.5,316.8 L727.8,315.8 L728.0,314.8 L728.3,313.9 L728.5,312.9 L728.8,311.9 L729.0,311.0 L729.2,310.1 L729.5,309.2 L729.7,308.3 L730.0,307.4 L730.2,306.5 L730.5,305.6 L730.7,304.5 L731.0,303.5 L731.2,302.4 L731.5,301.3 L731.7,300.3 L732.0,299.3 L732.3,298.4 L732.5,297.5 L732.8,296.6 L733.0,295.7 L733.3,294.8 L733.5,293.9 L733.8,292.8 L734.1,291.8 L734.3,290.8 L734.6,289.7 L734.8,288.7 L735.1,287.7 L735.4,286.8 L735.6,286.0 L735.9,285.1 L736.2,284.2 L736.4,283.3 L736.7,282.4 L737.0,281.4 L737.3,280.3 L737.5,279.3 L737.8,278.2 L738.1,277.2 L738.3,276.3 L738.6,275.4 L738.9,274.5 L739.2,273.6 L739.4,272.7 L739.7,271.7 L740.0,270.7 L740.3,269.7 L740.6,268.6 L740.8,267.6 L741.1,266.5 L741.4,265.6 L741.7,264.7 L742.0,263.8 L742.3,262.9 L742.5,262.0 L742.8,261.1 L743.1,260.1 L743.4,259.1 L743.7,258.0 L744.0,257.0 L744.3,256.0 L744.6,255.1 L744.8,254.2 L745.1,253.3 L745.4,252.5 L745.7,251.6 L746.0,250.7 L746.3,249.6 L746.6,248.6 L746.9,247.5 L747.2,246.5 L747.5,245.5 L747.8,244.6 L748.1,243.7 L748.4,242.9 L748.7,242.0 L749.0,241.1 L749.3,240.1 L749.6,239.1 L749.9,238.0 L750.2,236.9 L750.5,235.9 L750.8,235.0 L751.1,234.1 L751.4,233.3 L751.7,232.4 L752.0,231.6 L752.3,230.6 L752.7,229.6 L753.0,228.5 L753.3,227.5 L753.6,226.4 L753.9,225.6 L754.2,224.7 L754.6,223.8 L754.9,222.9 L755.2,222.1 L755.5,221.1 L755.9,220.0 L756.2,219.0 L756.5,218.0 L756.9,217.0 L757.2,216.1 L757.6,215.2 L757.9,214.3 L758.3,213.3 L758.6,212.5 L759.0,211.6 L759.3,210.7 L759.7,209.9 L760.0,209.0 L760.4,208.1 L760.7,207.2 L761.1,206.3 L761.5,205.3 L761.8,204.3 L762.2,203.3 L762.6,202.2 L763.0,201.2 L763.3,200.3 L763.7,199.5 L764.1,198.6 L764.5,197.8 L764.9,196.8 L765.3,195.8 L765.6,194.8 L766.0,193.8 L766.4,193.0 L766.8,192.2 L767.2,191.3 L767.6,190.5 L768.0,189.4 L768.5,188.4 L768.9,187.4 L769.3,186.5 L769.7,185.7 L770.1,184.9 L770.5,184.1 L771.0,183.2 L771.4,182.2 L771.8,181.1 L772.2,180.1 L772.7,179.3 L773.1,178.6 L773.6,177.8 L774.0,176.9 L774.4,175.9 L774.9,174.9 L775.3,173.9 L775.8,173.1 L776.2,172.3 L776.7,171.6 L777.2,170.7 L777.6,169.8 L778.1,168.9 L778.6,168.0 L779.0,167.2 L779.5,166.3 L780.0,165.5 L780.4,164.5 L780.9,163.4 L781.4,162.4 L781.9,161.5 L782.3,160.8 L782.8,160.0 L783.3,159.2 L783.8,158.2 L784.3,157.1 L784.7,156.2 L785.2,155.5 L785.7,154.7 L786.2,154.0 L786.7,153.0 L787.2,152.0 L787.6,151.0 L788.1,150.2 L788.6,149.4 L789.1,148.7 L789.6,147.8 L790.1,146.8 L790.5,145.8 L791.0,144.9 L791.5,144.2 L792.0,143.4 L792.5,142.6 L793.0,141.6 L793.4,140.6 L793.9,139.6 L794.4,138.9 L794.9,138.1 L795.4,137.3 L795.9,136.4 L796.4,135.4 L796.9,134.4 L797.4,133.6 L797.9,132.9 L798.5,132.2 L799.0,131.3 L799.5,130.3 L800.0,129.3 L800.6,128.6 L801.1,127.9 L801.7,127.3 L802.2,126.3 L802.8,125.3 L803.4,124.4 L803.9,123.7 L804.5,123.1 L805.1,122.3 L805.7,121.4 L806.3,120.4 L806.9,119.8 L807.6,119.2 L808.2,118.4 L808.8,117.5 L809.4,116.5 L810.1,115.9 L810.7,115.3 L811.4,114.6 L812.1,113.9 L812.7,113.1 L813.4,112.4 L814.1,111.6 L814.8,110.9 L815.4,110.2 L816.1,109.5 L816.8,108.8 L817.5,108.0 L818.2,107.2 L819.0,106.4 L819.7,105.9 L820.4,105.4 L821.1,104.7 L821.9,103.9 L822.6,103.1 L823.3,102.3 L824.1,101.6 L824.9,101.0 L825.6,100.5 L826.4,100.1 L827.2,99.3 L827.5,98.9 L827.9,98.4 L828.7,98.0 L829.5,97.6 L830.3,96.9 L831.1,96.1 L831.9,95.7 L832.7,95.3 L833.6,94.5 L834.4,93.8 L835.2,93.5 L836.1,93.1 L836.9,92.3 L837.8,91.8 L838.6,91.5 L839.5,91.0 L840.4,90.3 L841.3,90.0 L842.1,89.7 L842.6,89.3 L843.0,89.0 L843.5,88.6 L844.3,88.4 L845.2,88.2 L845.7,87.8 L846.1,87.4 L846.6,87.1 L847.5,86.9 L848.4,86.6 L849.3,86.0 L850.2,85.6 L851.1,85.5 L852.1,84.9 L853.0,84.3 L853.9,84.2 L854.8,83.8 L855.3,83.5 L855.8,83.1 L856.7,83.0 L857.6,82.9 L858.6,82.5 L859.5,82.1 L860.4,81.8 L861.4,81.2 L862.3,80.8 L863.3,80.7 L864.2,80.4 L865.2,79.8 L866.1,79.7 L867.1,79.5 L868.0,79.0 L869.0,78.8 L869.9,78.7 L870.9,78.2 L871.8,77.9 L872.8,77.9 L873.8,77.5 L874.7,77.1 L875.7,77.2 L876.7,76.9 L877.7,76.4 L878.6,76.3 L879.6,76.1 L880.6,75.7 L881.6,75.6 L882.5,75.6 L883.5,75.1 L884.5,75.0 L885.5,75.0 L886.4,74.8 L887.4,74.7 L888.4,74.6 L889.4,74.1 L890.4,73.9 L891.4,74.0 L892.4,73.7 L893.3,73.3 L894.3,73.4 L895.3,73.2 L896.3,72.8 L897.3,73.0 L898.3,72.8 L899.3,72.4 L900.3,72.5 L901.3,72.5 L902.2,72.4 L903.2,72.3 L904.2,72.1 L905.2,71.8 L906.2,71.7 L907.2,71.8 L908.2,71.3 L909.2,71.2 L910.2,71.5 L911.2,71.0 L912.2,70.8 L913.2,70.9 L914.1,70.6 L915.1,70.4 L916.1,70.7 L917.1,70.4 L918.1,70.0 L919.1,70.2 L920.1,70.1 L921.1,69.7 L922.1,69.9 L923.1,69.8 L924.1,69.4 L925.1,69.3 L926.1,69.2 L927.1,69.1 L928.1,69.1 L929.1,69.2 L930.1,68.8 L931.0,68.8 L932.0,69.0 L933.0,68.7 L934.0,68.6 L935.0,68.7 L936.0,68.4 L937.0,68.3 L938.0,68.5 L939.0,68.2 L940.0,68.1 L941.0,68.4 L942.0,68.2 L943.0,68.1 L944.0,68.3 L945.0,68.1 L946.0,67.9 L947.0,68.2 L948.0,68.2 L949.0,68.2 L950.0,68.2 L951.0,68.1 L952.0,67.8 L953.0,68.1 L954.0,68.1 L955.0,67.9 L956.0,68.1 L957.0,68.3 L958.0,68.0 L959.0,68.2 L960.0,68.4 L961.0,68.2 L962.0,68.3 L963.0,68.6 L964.0,68.4 L965.0,68.4 L966.0,68.7 L967.0,68.6 L968.0,68.6 L969.0,68.9 L970.0,68.8 L971.0,68.8 L972.0,69.1 L973.0,69.1 L974.0,69.0 L974.9,69.3 L975.9,69.4 L976.9,69.5 L977.9,69.6 L978.9,69.6 L979.9,69.4 L980.9,69.6 L981.9,69.7 L982.9,69.7 L983.9,70.1 L984.9,70.4 L985.9,70.4 L986.9,70.4 L987.9,70.3 L988.9,70.4 L989.9,70.7 L990.9,71.1 L991.8,70.9 L992.8,70.9 L993.8,71.2 L994.8,71.2 L995.8,71.4 L996.8,71.8 L997.8,71.8 L998.8,71.8 L999.8,72.3 L1000.8,72.3 L1001.7,72.2 L1002.7,72.6 L1003.7,72.9 L1004.7,73.0 L1005.7,73.3 L1006.7,73.4 L1007.7,73.2 L1008.6,73.5 L1009.6,73.8 L1010.6,73.7 L1011.6,73.9 L1012.6,74.3 L1013.6,74.3 L1014.6,74.5 L1015.5,75.0 L1016.5,75.1 L1017.5,75.2 L1018.5,75.5 L1019.5,75.5 L1020.4,75.5 L1021.4,75.9 L1022.4,76.1 L1023.4,76.1 L1024.4,76.5 L1025.4,76.7 L1026.3,76.7 L1027.3,77.1 L1028.3,77.3 L1029.3,77.3 L1030.3,77.6 L1031.2,78.0 L1032.2,77.9 L1033.2,78.2 L1034.2,78.7 L1035.2,78.6 L1036.1,78.7 L1037.1,79.2 L1038.1,79.3 L1039.1,79.3 L1040.1,79.7 L1041.0,79.9 L1042.0,79.9 L1043.0,80.1 L1044.0,80.2 L1045.0,80.3 L1045.9,80.8 L1046.9,81.1 L1047.9,81.0 L1048.9,81.3 L1049.9,81.6 L1050.9,81.6 L1051.8,81.8 L1052.8,82.3 L1053.8,82.1 L1054.8,82.2 L1055.8,82.8 L1056.8,82.9 L1057.8,83.1 L1058.7,83.3 L1059.7,83.3 L1060.7,83.2 L1061.7,83.6 L1062.7,83.7 L1063.7,83.6 L1064.7,84.1 L1065.7,84.4 L1066.6,84.4 L1067.6,84.6 L1068.6,84.7 L1069.6,84.6 L1070.6,84.9 L1071.6,85.3 L1072.6,85.3 L1073.6,85.4 L1074.6,85.7 L1075.6,85.7 L1076.5,85.8 L1077.5,86.0 L1078.5,85.8 L1079.5,85.9 L1080.5,86.2 L1081.5,86.3 L1082.5,86.3 L1083.5,86.5 L1084.5,86.6 L1085.5,86.7 L1086.5,87.1 L1087.5,87.1 L1088.4,86.6 L1088.9,87.2 L1089.2,87.8 L1089.5,88.4 L1089.8,89.1 L1090.0,89.7 L1090.5,90.1 L1090.9,90.7 L1091.3,91.3 L1091.7,92.1 L1091.8,92.7 L1092.0,93.4 L1092.2,94.0 L1092.4,94.7 L1092.6,95.4 L1092.7,96.0 L1093.0,97.3 L1093.2,98.2 L1093.5,99.0 L1093.7,99.8 L1093.9,100.6 L1094.1,101.4 L1094.3,102.2 L1094.5,103.0 L1094.7,103.9 L1094.9,105.0 L1095.1,106.1 L1095.4,107.3 L1095.6,108.4 L1095.9,109.6 L1096.3,110.6 L1096.7,111.1 L1097.2,111.6 L1097.7,112.0 L1098.0,112.6 L1098.4,113.3 L1098.9,113.8 L1099.5,113.2 L1099.7,112.6 L1099.9,112.0 L1100.2,110.8 L1100.5,109.6 L1100.8,108.4 L1101.1,107.7 L1101.4,107.0 L1101.8,106.3 L1102.2,105.8 L1102.7,104.9 L1103.2,104.4 L1103.7,104.0 L1104.6,104.6 L1105.1,105.2 L1105.5,105.8 L1106.4,105.5 L1107.3,105.5 L1107.7,106.1 L1108.1,106.7 L1108.4,107.3 L1109.1,107.7 L1109.8,108.0 L1110.4,108.6 L1110.8,109.2 L1111.2,109.9 L1111.6,110.5 L1112.5,110.2 L1113.0,109.8 L1114.0,110.3 L1114.5,110.8 L1115.5,110.3 L1116.0,109.8 L1117.0,110.1 L1117.5,110.6 L1118.5,110.4 L1119.0,109.9 L1119.5,109.5 L1120.5,109.6 L1121.5,109.8 L1122.5,110.0 L1123.2,109.5 L1123.8,108.6 L1124.2,107.7 L1124.4,107.1 L1124.6,106.5 L1124.8,105.9 L1125.0,105.3 L1125.2,104.7 L1125.4,104.0 L1125.6,103.4 L1126.0,102.8 L1126.5,102.3 L1127.0,101.8 L1127.6,100.9 L1128.0,100.3 L1128.3,99.8 L1128.6,99.2 L1129.3,98.7 L1130.0,98.5 L1130.7,97.7 L1131.1,97.1 L1131.5,96.5 L1131.9,96.0 L1132.8,96.5 L1133.3,96.8 L1133.8,96.5 L1134.3,96.0 L1134.8,95.6 L1135.8,96.2 L1136.3,96.7 L1137.3,96.2 L1137.8,95.9 L1138.8,96.3 L1139.3,96.7 L1140.3,96.8 L1141.3,96.8 L1142.3,97.2 L1143.3,97.0 L1144.3,96.5 L1144.7,97.1 L1145.1,97.7 L1145.5,98.3 L1145.9,98.7 L1146.9,98.9 L1147.6,99.4 L1147.9,100.1 L1148.2,100.8 L1148.6,101.4 L1148.9,102.1 L1149.6,102.3 L1150.3,102.5 L1150.8,102.9 L1151.2,103.4 L1151.7,103.8 L1152.7,103.7 L1153.2,103.3 L1154.2,103.5 L1154.7,103.8 L1155.7,103.7 L1156.2,103.3 L1156.7,102.9 L1157.2,103.4 L1157.7,103.8 L1158.2,104.2 L1158.7,103.8 L1159.1,103.2 L1159.6,102.6 L1160.6,103.4 L1161.1,103.9 L1162.1,103.1 L1162.6,102.6 L1163.6,103.0 L1164.1,103.4 L1165.1,102.9 L1165.6,102.4 L1166.6,102.8 L1167.1,103.3 L1168.1,103.2 L1169.1,102.8 L1169.6,103.3 L1170.1,103.8 L1170.6,104.4 L1171.5,104.0 L1172.4,104.1 L1172.9,104.7 L1173.3,105.3 L1173.8,105.7 L1174.7,105.1 L1175.7,105.3 L1176.1,105.8 L1176.6,106.4 L1177.6,106.2 L1178.6,106.0 L1179.1,106.5 L1179.6,107.0 L1180.6,106.8 L1181.1,106.4 L1182.0,106.7 L1182.5,107.3 L1183.0,107.7 L1184.0,107.1 L1185.0,107.2 L1185.5,107.7 L1186.0,108.1 L1186.9,107.8 L1187.8,107.8 L1188.2,108.4 L1188.6,109.1 L1189.0,109.8 L1189.3,110.3 L1190.0,110.4 L1190.7,110.5 L1191.0,111.0 L1191.4,111.7 L1191.7,112.4 L1192.2,113.1 L1193.1,113.0 L1193.6,112.5 L1194.0,112.1 L1194.7,111.8 L1195.2,111.4 L1195.7,110.4 L1196.0,109.8 L1196.2,109.1 L1196.5,108.5 L1196.7,107.9 L1197.0,107.3 L1197.5,106.9 L1198.2,106.7 L1199.1,106.2 L1199.9,106.1 L1200.5,107.1 L1200.7,107.7 L1201.0,108.4 L1201.2,109.0 L1201.4,109.6 L1201.6,110.2 L1202.0,111.1 L1202.4,111.9 L1202.8,112.8 L1203.1,113.7 L1203.3,114.7 L1203.5,115.8 L1203.7,116.8 L1203.9,117.8 L1204.1,118.8 L1204.2,119.8 L1204.4,120.9 L1204.6,121.9 L1204.8,122.8 L1205.1,123.6 L1205.4,124.2 L1206.5,124.4 L1207.0,124.8 L1207.5,125.2 L1208.5,125.0 L1209.0,124.6 L1210.0,125.1 L1210.5,125.7 L1211.0,126.0 L1211.5,125.5 L1212.0,125.0 L1212.5,124.6 L1213.0,125.2 L1213.5,125.7 L1214.0,126.1 L1215.0,125.9 L1216.0,125.8 L1217.0,125.8 L1218.0,125.2 L1218.5,124.8 L1219.5,125.2 L1220.5,125.2 L1221.0,124.8 L1221.4,124.3 L1222.4,124.4 L1223.4,124.9 L1223.8,124.3 L1224.3,123.7 L1224.8,123.2 L1225.7,123.5 L1226.7,123.6 L1227.1,123.0 L1227.6,122.4 L1228.1,122.0 L1229.0,122.3 L1229.9,121.9 L1230.4,121.4 L1230.9,120.8 L1231.8,120.9 L1232.7,121.1 L1233.1,120.6 L1233.6,120.0 L1234.1,119.5 L1235.0,119.6 L1235.9,119.6 L1236.4,119.0 L1236.8,118.3 L1237.3,117.7 L1238.2,118.3 L1239.1,118.3 L1239.6,117.7 L1240.0,117.1 L1241.0,117.1 L1241.9,117.6 L1242.4,117.0 L1242.8,116.4 L1243.3,115.8 L1244.3,116.0 L1245.2,116.1 L1245.7,115.6 L1246.2,115.1 L1247.2,115.1 L1247.7,115.5 L1248.6,115.2 L1249.1,114.6 L1249.6,114.1 L1250.5,114.4 L1251.5,114.3 L1251.9,113.7 L1252.4,113.1 L1252.8,112.6 L1253.7,112.8 L1254.6,112.5 L1254.9,111.8 L1255.3,111.2 L1255.6,110.6 L1255.9,110.0 L1256.4,109.6 L1256.9,109.2 L1257.3,108.8 L1257.8,107.6 L1258.0,106.9 L1258.2,106.2 L1258.5,105.5 L1258.7,104.9 L1258.9,104.2 L1259.4,103.4 L1259.9,102.7 L1260.5,102.1 L1260.8,101.6 L1261.2,101.1 L1261.5,100.7 L1261.9,100.2 L1262.6,99.9 L1263.7,99.7 L1264.0,99.0 L1264.4,98.4 L1264.8,97.7 L1265.2,97.1 L1266.0,97.3 L1266.8,97.3 L1267.2,96.7 L1267.6,96.1 L1268.0,95.5 L1268.8,95.1 L1270.0,94.9 L1270.4,94.2 L1270.8,93.5 L1271.2,92.9 L1272.2,93.1 L1272.7,93.4 L1273.6,93.4 L1274.1,93.7 L1274.5,94.4 L1274.7,95.0 L1274.9,95.7 L1275.3,96.9 L1275.6,98.1 L1275.9,99.4 L1276.3,100.1 L1276.7,100.8 L1277.2,101.4 L1277.8,102.1 L1278.3,102.6 L1278.8,103.0 L1279.8,102.7 L1280.3,102.3 L1281.3,102.6 L1281.8,103.0 L1282.8,102.9 L1283.8,102.4 L1284.3,102.8 L1284.8,103.3 L1285.3,103.7 L1285.8,103.2 L1286.3,102.6 L1286.8,102.1 L1287.3,102.5 L1287.8,103.0 L1288.3,103.5 L1289.3,102.8 L1289.8,102.3 L1290.8,102.9 L1291.9,102.4 L1292.4,101.5 L1292.9,100.6 L1293.3,99.7 L1293.8,98.8 L1294.3,98.0 L1294.8,97.1 L1295.1,96.5 L1295.5,95.9 L1295.9,95.3 L1296.7,95.0 L1297.6,95.2 L1298.5,94.6 L1299.4,94.0 L1300.4,93.5 L1301.4,93.3 L1302.3,93.4 L1302.7,94.0 L1303.1,94.6 L1303.5,95.2 L1303.9,95.9 L1304.7,96.0 L1305.4,96.1 L1305.7,96.6 L1305.9,97.2 L1306.1,97.8 L1306.5,99.0 L1306.9,100.2 L1307.2,101.1 L1307.5,101.9 L1307.9,102.6 L1308.4,103.2 L1309.1,104.1 L1309.6,104.5 L1310.1,104.9 L1310.6,104.5 L1311.1,104.1 L1311.6,103.6 L1312.6,104.4 L1313.1,104.8 L1314.1,104.2 L1314.5,103.7 L1315.5,104.1 L1316.0,104.5 L1317.0,104.1 L1317.5,103.6 L1318.5,103.7 L1319.5,104.1 L1320.0,103.8 L1320.5,103.5 L1321.5,103.6 L1322.0,103.9 L1323.0,103.8 L1323.5,103.4 L1324.0,103.0 L1324.5,103.4 L1325.0,103.7 L1325.5,104.1 L1326.0,103.8 L1326.5,103.3 L1327.0,102.8 L1328.0,103.6 L1328.5,104.1 L1329.5,103.4 L1330.0,102.9 L1331.0,103.6 L1331.5,104.2 L1332.5,103.8 L1333.0,103.3 L1334.0,103.1 L1335.0,103.2 L1336.0,103.1 L1337.0,103.5 L1337.5,103.9 L1338.5,103.7 L1339.0,103.3 L1339.5,102.9 L1340.0,103.3 L1340.5,103.8 L1341.0,104.2 L1342.0,103.6 L1342.5,103.2 L1343.5,103.7 L1344.5,103.8 L1345.0,103.4 L1345.5,103.0 L1346.5,103.0 L1347.5,103.1 L1348.5,102.9 L1349.5,103.4 L1350.0,103.8 L1351.0,103.7 L1352.0,103.3 L1352.4,103.9 L1352.9,104.6 L1353.3,105.3 L1354.1,105.5 L1355.0,105.4 L1355.4,105.9 L1355.8,106.4 L1356.2,106.9 L1356.6,107.4 L1357.5,107.2 L1358.4,107.4 L1358.9,108.1 L1359.4,108.7 L1360.4,108.5 L1360.9,108.1 L1361.9,108.4 L1362.3,108.8 L1362.8,109.2 L1363.3,108.9 L1363.8,108.6 L1364.3,108.2 L1364.8,108.6 L1365.3,109.1 L1365.8,109.6 L1366.8,109.0 L1367.3,108.7 L1368.3,109.4 L1368.8,109.9 L1369.8,109.8 L1370.8,109.6 L1371.3,110.0 L1371.7,110.5 L1372.7,110.4 L1373.7,109.9 L1374.2,110.5 L1374.6,111.1 L1375.1,111.7 L1376.1,111.9 L1377.0,112.0 L1378.0,112.4 L1378.9,112.2 L1379.9,111.8 L1380.3,112.4 L1380.8,112.9 L1381.3,113.5 L1382.2,113.2 L1383.2,113.2 L1383.6,113.8 L1384.1,114.4 L1384.6,114.8 L1385.5,114.3 L1386.5,114.4 L1387.0,114.9 L1387.4,115.4 L1388.4,115.2 L1389.4,115.1 L1389.9,115.7 L1390.3,116.2 L1390.8,116.6 L1391.8,116.0 L1392.7,116.2 L1393.2,116.8 L1393.7,117.3 L1394.6,117.1 L1395.5,116.9 L1396.5,117.4 L1397.4,117.9 L1398.3,118.2 L1398.7,118.6 L1399.2,119.2 L1399.6,119.8 L1400.0,120.3 L1400.9,120.1 L1401.6,120.3 L1402.0,121.0 L1402.3,121.7 L1402.6,122.4 L1402.9,123.1 L1403.5,123.7 L1404.1,124.0 L1404.7,124.5 L1405.0,125.1 L1405.3,125.8 L1405.6,126.4 L1405.8,127.0 L1406.1,127.7 L1406.7,128.1 L1407.3,128.3 L1407.9,128.7 L1408.2,129.4 L1408.5,130.0 L1408.8,130.7 L1409.2,131.3 L1409.8,131.9 L1410.4,132.2 L1411.1,132.8 L1411.4,133.5 L1411.7,134.2 L1412.1,134.9 L1412.4,135.5 L1413.3,135.8 L1414.3,136.6 L1414.6,137.2 L1414.9,137.9 L1415.2,138.5 L1415.5,139.2 L1416.0,139.7 L1416.6,140.1 L1417.1,140.7 L1417.4,141.3 L1417.6,142.0 L1417.9,142.7 L1418.1,143.3 L1418.4,144.0 L1418.6,144.6 L1419.1,145.1 L1419.5,145.6 L1419.9,146.1 L1420.2,146.9 L1420.4,147.5 L1420.6,148.1 L1420.9,149.4 L1421.2,150.6 L1421.6,151.9 L1421.9,152.8 L1422.2,153.5 L1422.5,154.2 L1422.9,154.8 L1423.2,155.5 L1423.6,156.6 L1423.9,157.8 L1424.3,159.0 L1424.6,159.6 L1424.8,160.2 L1425.2,160.9 L1425.6,161.5 L1426.1,162.1 L1426.6,163.0 L1427.0,164.0 L1427.5,165.1 L1428.0,166.1 L1428.5,166.8 L1429.0,167.5 L1429.5,168.2 L1430.0,169.2 L1430.5,170.3 L1431.0,171.3 L1431.4,172.1 L1431.9,172.9 L1432.4,173.7 L1432.8,174.6 L1433.2,175.6 L1433.6,176.6 L1434.0,177.7 L1434.4,178.6 L1434.7,179.5 L1435.1,180.4 L1435.4,181.3 L1435.7,182.3 L1436.0,183.2 L1436.3,184.2 L1436.6,185.2 L1436.9,186.2 L1437.1,187.1 L1437.4,188.1 L1437.6,189.0 L1437.8,189.9 L1438.1,190.8 L1438.3,191.7 L1438.5,192.7 L1438.7,193.6 L1439.0,194.6 L1439.2,195.6 L1439.4,196.7 L1439.6,197.7 L1439.9,198.7 L1440.1,199.8 L1440.3,200.8 L1440.5,201.7 L1440.8,202.6 L1441.0,203.5 L1441.2,204.4 L1441.4,205.3 L1441.6,206.3 L1441.9,207.2 L1442.1,208.2 L1442.3,209.3 L1442.5,210.3 L1442.7,211.3 L1442.9,212.4 L1443.1,213.4 L1443.3,214.5 L1443.5,215.4 L1443.7,216.4 L1443.9,217.3 L1444.1,218.2 L1444.3,219.1 L1444.5,220.1 L1444.7,221.0 L1444.9,221.9 L1445.0,222.9 L1445.2,223.9 L1445.4,225.0 L1445.6,226.0 L1445.7,227.0 L1445.9,228.0 L1446.1,229.0 L1446.2,230.1 L1446.4,231.1 L1446.5,232.1 L1446.7,233.1 L1446.8,234.1 L1447.0,235.0 L1447.1,236.0 L1447.3,237.0 L1447.4,238.0 L1447.5,239.0 L1447.6,240.0 L1447.8,240.9 L1447.9,241.9 L1448.0,242.9 L1448.1,243.9 L1448.3,244.9 L1448.4,245.9 L1448.5,246.9 L1448.6,247.9 L1448.7,248.9 L1448.9,249.9 L1449.0,250.9 L1449.1,251.9 L1449.2,252.9 L1449.3,253.9 L1449.4,254.9 L1449.5,255.9 L1449.7,256.8 L1449.8,257.8 L1449.9,258.8 L1450.0,259.8 L1450.1,260.7 L1450.2,261.7 L1450.4,262.7 L1450.5,263.6 L1450.6,264.6 L1450.7,265.6 L1450.8,266.5 L1451.0,267.5 L1451.1,268.5 L1451.2,269.5 L1451.3,270.5 L1451.4,271.5 L1451.6,272.5 L1451.7,273.6 L1451.8,274.6 L1451.9,275.6 L1452.1,276.6 L1452.2,277.7 L1452.3,278.7 L1452.4,279.7 L1452.6,280.8 L1452.7,281.8 L1452.8,282.8 L1452.9,283.7 L1453.0,284.7 L1453.2,285.6 L1453.3,286.6 L1453.4,287.5 L1453.5,288.5 L1453.7,289.5 L1453.8,290.4 L1453.9,291.4 L1454.0,292.3 L1454.1,293.3 L1454.3,294.2 L1454.4,295.3 L1454.5,296.3 L1454.6,297.3 L1454.8,298.3 L1454.9,299.4 L1455.0,300.4 L1455.1,301.4 L1455.3,302.4 L1455.4,303.5 L1455.5,304.5 L1455.6,305.5 L1455.8,306.5 L1455.9,307.5 L1456.0,308.5 L1456.2,309.5 L1456.3,310.5 L1456.4,311.5 L1456.5,312.5 L1456.7,313.5 L1456.8,314.5 L1456.9,315.4 L1457.1,316.4 L1457.2,317.4 L1457.3,318.4 L1457.5,319.4 L1457.6,320.4 L1457.7,321.4 L1457.8,322.4 L1458.0,323.4 L1458.1,324.4 L1458.2,325.4 L1458.4,326.4 L1458.5,327.4 L1458.6,328.4 L1458.8,329.4 L1458.9,330.4 L1459.0,331.3 L1459.2,332.3 L1459.3,333.2 L1459.4,334.2 L1459.5,335.1 L1459.7,336.1 L1459.8,337.0 L1459.9,338.0 L1460.1,338.9 L1460.2,339.9 L1460.3,340.8 L1460.4,341.8 L1460.6,342.8 L1460.7,343.8 L1460.8,344.8 L1460.9,345.9 L1461.1,346.9 L1461.2,347.9 L1461.3,349.0 L1461.4,350.0 L1461.6,351.0 L1461.7,352.1 L1461.8,353.1 L1461.9,354.1 L1462.0,355.1 L1462.2,356.1 L1462.3,357.0 L1462.4,358.0 L1462.5,359.0 L1462.7,359.9 L1462.8,360.9 L1462.9,361.9 L1463.0,362.8 L1463.2,363.8 L1463.3,364.8 L1463.4,365.7 L1463.5,366.7 L1463.6,367.7 L1463.8,368.7 L1463.9,369.8 L1464.0,370.8 L1464.1,371.8 L1464.3,372.9 L1464.4,373.9 L1464.5,374.9 L1464.6,375.9 L1464.7,377.0 L1464.9,378.0 L1465.0,379.0 L1465.1,380.0 L1465.2,381.0 L1465.4,382.0 L1465.5,382.9 L1465.6,383.9 L1465.7,384.8 L1465.9,385.8 L1466.0,386.7 L1466.1,387.7 L1466.2,388.7 L1466.3,389.6 L1466.5,390.6 L1466.6,391.5 L1466.7,392.5 L1466.8,393.5 L1466.9,394.6 L1467.1,395.6 L1467.2,396.6 L1467.3,397.6 L1467.4,398.7 L1467.6,399.7 L1467.7,400.7 L1467.8,401.7 L1467.9,402.8 L1468.0,403.8 L1468.2,404.8 L1468.3,405.8 L1468.4,406.7 L1468.5,407.7 L1468.7,408.6 L1468.8,409.6 L1468.9,410.5 L1469.1,411.5 L1469.2,412.4 L1469.3,413.4 L1469.4,414.3 L1469.6,415.3 L1469.7,416.2 L1469.8,417.2 L1470.0,418.2 L1470.1,419.3 L1470.2,420.3 L1470.3,421.3 L1470.5,422.4 L1470.6,423.4 L1470.7,424.5 L1470.9,425.5 L1471.0,426.5 L1471.1,427.6 L1471.3,428.6 L1471.4,429.6 L1471.6,430.6 L1471.7,431.6 L1471.8,432.5 L1472.0,433.5 L1472.1,434.5 L1472.3,435.5 L1472.4,436.5 L1472.5,437.4 L1472.7,438.4 L1472.8,439.4 L1473.0,440.4 L1473.1,441.4 L1473.2,442.4 L1473.4,443.4 L1473.5,444.4 L1473.7,445.4 L1473.8,446.4 L1474.0,447.4 L1474.1,448.4 L1474.2,449.3 L1474.4,450.3 L1474.5,451.3 L1474.7,452.2 L1474.9,453.2 L1475.0,454.1 L1475.2,455.1 L1475.4,456.0 L1475.6,457.0 L1475.8,457.9 L1476.0,458.8 L1476.2,459.8 L1476.5,460.9 L1476.7,461.9 L1477.0,462.9 L1477.2,463.9 L1477.5,465.0 L1477.7,465.9 L1478.0,466.8 L1478.3,467.7 L1478.6,468.5 L1479.0,469.4 L1479.4,470.4 L1480.0,471.2 L1480.8,471.3 L1481.5,470.6 L1482.0,469.6 L1482.5,468.8 L1482.9,468.0 L1483.2,467.1 L1483.5,466.3 L1483.8,465.4 L1484.1,464.3 L1484.4,463.2 L1484.7,462.1 L1484.9,461.1 L1485.2,460.0 L1485.4,459.0 L1485.5,458.1 L1485.7,457.1 L1485.8,456.1 L1485.9,455.1 L1486.1,454.2 L1486.2,453.2 L1486.3,452.2 L1486.4,451.2 L1486.5,450.2 L1486.6,449.3 L1486.7,448.3 L1486.8,447.3 L1487.0,446.3 L1487.1,445.3 L1487.2,444.3 L1487.3,443.3 L1487.4,442.3 L1487.5,441.3 L1487.6,440.3 L1487.7,439.3 L1487.8,438.3 L1487.9,437.3 L1488.1,436.3 L1488.2,435.3 L1488.3,434.3 L1488.4,433.3 L1488.6,432.3 L1488.7,431.4 L1488.8,430.4 L1488.9,429.5 L1489.0,428.5 L1489.2,427.6 L1489.3,426.6 L1489.4,425.7 L1489.5,424.7 L1489.7,423.8 L1489.8,422.8 L1489.9,421.9 L1490.0,420.8 L1490.2,419.8 L1490.3,418.8 L1490.4,417.7 L1490.5,416.7 L1490.6,415.7 L1490.8,414.6 L1490.9,413.6 L1491.0,412.6 L1491.1,411.5 L1491.3,410.5 L1491.4,409.5 L1491.5,408.5 L1491.7,407.5 L1491.8,406.6 L1491.9,405.6 L1492.0,404.6 L1492.2,403.7 L1492.3,402.7 L1492.4,401.8 L1492.5,400.8 L1492.7,399.9 L1492.8,398.9 L1492.9,397.9 L1493.1,397.0 L1493.2,395.9 L1493.3,394.9 L1493.4,393.9 L1493.6,392.8 L1493.7,391.8 L1493.8,390.8 L1493.9,389.7 L1494.1,388.7 L1494.2,387.7 L1494.3,386.7 L1494.4,385.6 L1494.5,384.6 L1494.7,383.6 L1494.8,382.7 L1494.9,381.7 L1495.0,380.8 L1495.1,379.8 L1495.2,378.9 L1495.3,377.9 L1495.4,376.9 L1495.6,376.0 L1495.7,375.0 L1495.8,374.1 L1495.9,373.1 L1496.0,372.1 L1496.1,371.2 L1496.2,370.2 L1496.3,369.1 L1496.4,368.1 L1496.5,367.1 L1496.6,366.1 L1496.7,365.0 L1496.8,364.0 L1496.8,363.0 L1496.9,362.0 L1497.0,361.0 L1497.1,359.9 L1497.2,358.9 L1497.3,357.9 L1497.4,356.9 L1497.5,355.8 L1497.6,354.8 L1497.7,353.8 L1497.8,352.9 L1497.9,351.9 L1498.0,350.9 L1498.1,350.0 L1498.2,349.0 L1498.3,348.0 L1498.4,347.1 L1498.5,346.1 L1498.6,345.2 L1498.7,344.2 L1498.8,343.2 L1498.9,342.3 L1499.0,341.3 L1499.1,340.4 L1499.3,339.4 L1499.4,338.3 L1499.5,337.3 L1499.6,336.3 L1499.7,335.3 L1499.8,334.2 L1499.9,333.2 L1500.1,332.2 L1500.2,331.2 L1500.3,330.1 L1500.4,329.1 L1500.5,328.1 L1500.6,327.0 L1500.8,326.0 L1500.9,325.1 L1501.0,324.1 L1501.1,323.1 L1501.2,322.2 L1501.4,321.2 L1501.5,320.3 L1501.6,319.3 L1501.7,318.4 L1501.9,317.4 L1502.0,316.4 L1502.1,315.5 L1502.2,314.5 L1502.4,313.5 L1502.5,312.5 L1502.6,311.5 L1502.8,310.5 L1502.9,309.5 L1503.0,308.5 L1503.2,307.5 L1503.3,306.5 L1503.5,305.5 L1503.6,304.5 L1503.8,303.5 L1503.9,302.5 L1504.1,301.6 L1504.2,300.6 L1504.4,299.6 L1504.5,298.6 L1504.7,297.6 L1504.8,296.7 L1505.0,295.7 L1505.1,294.7 L1505.3,293.7 L1505.4,292.8 L1505.6,291.7 L1505.7,290.7 L1505.9,289.7 L1506.0,288.6 L1506.2,287.6 L1506.4,286.6 L1506.5,285.6 L1506.7,284.5 L1506.9,283.5 L1507.0,282.5 L1507.2,281.6 L1507.4,280.6 L1507.6,279.7 L1507.7,278.8 L1507.9,277.8 L1508.1,276.9 L1508.3,276.0 L1508.5,275.1 L1508.7,274.0 L1508.9,273.0 L1509.1,271.9 L1509.3,270.9 L1509.6,269.9 L1509.8,268.8 L1510.0,267.8 L1510.3,266.9 L1510.5,266.0 L1510.8,265.1 L1511.1,264.2 L1511.3,263.4 L1511.6,262.5 L1511.9,261.4 L1512.2,260.4 L1512.5,259.3 L1512.8,258.3 L1513.1,257.3 L1513.4,256.4 L1513.8,255.5 L1514.1,254.7 L1514.5,253.8 L1514.8,252.9 L1515.2,251.9 L1515.6,250.8 L1516.1,249.8 L1516.6,249.0 L1517.1,248.3 L1517.6,247.6 L1518.1,246.7 L1518.6,245.7 L1519.2,244.7 L1519.7,244.0 L1520.3,243.3 L1520.9,242.7 L1521.2,242.2 L1521.5,241.7 L1521.8,241.1 L1522.2,240.6 L1522.5,240.1 L1523.2,239.9 L1523.9,239.6 L1524.2,239.2 L1524.6,238.5 L1525.0,237.8 L1525.3,237.1 L1526.1,236.8 L1527.0,237.1 L1527.4,236.7 L1527.9,236.1 L1528.3,235.5 L1529.3,235.6 L1529.8,235.9 L1530.7,235.5 L1531.1,234.8 L1531.5,234.1 L1531.8,233.5 L1532.3,233.0 L1532.7,232.3 L1533.1,231.7 L1533.4,230.9 L1533.8,229.9 L1534.1,229.0 L1534.4,228.0 L1534.8,227.0 L1535.2,226.2 L1535.6,225.4 L1536.1,224.7 L1536.8,223.7 L1537.2,223.1 L1537.7,222.5 L1538.6,222.4 L1539.5,222.8 L1540.0,222.3 L1540.5,221.8 L1541.0,221.3 L1542.0,221.7 L1543.0,221.9 L1544.0,221.8 L1545.0,221.7 L1545.9,221.4 L1546.4,220.9 L1546.9,220.4 L1547.9,220.3 L1548.8,220.7 L1549.2,220.2 L1549.7,219.6 L1550.1,219.0 L1550.4,218.5 L1550.9,218.1 L1551.4,217.6 L1551.8,217.0 L1552.1,216.1 L1552.5,215.1 L1552.9,214.1 L1553.2,213.1 L1553.6,212.1 L1554.0,211.2 L1554.5,210.2 L1555.0,209.4 L1555.3,208.8 L1555.7,208.3 L1556.0,207.7 L1556.4,207.2 L1557.1,206.8 L1557.9,206.7 L1558.7,205.6 L1559.1,205.0 L1559.5,204.3 L1560.3,204.2 L1561.2,204.5 L1561.6,203.9 L1562.1,203.3 L1562.5,202.7 L1563.5,202.9 L1564.0,203.3 L1565.0,203.0 L1565.5,202.6 L1566.5,202.5 L1567.5,202.7 L1568.0,203.0 L1568.5,203.3 L1569.0,203.6 L1570.0,203.8 L1571.0,203.6 L1571.5,203.3 L1572.0,202.9 L1572.5,203.3 L1573.0,203.8 L1573.5,204.2 L1574.5,203.7 L1575.0,203.4 L1576.0,203.9 L1576.5,204.2 L1577.5,204.0 L1578.5,203.7 L1579.0,204.1 L1579.5,204.4 L1580.1,203.7 L1580.3,203.1 L1580.5,202.5 L1580.7,201.9 L1581.1,200.6 L1581.4,199.6 L1581.8,198.9 L1582.3,198.2 L1583.0,198.0 L1584.0,197.9 L1585.0,198.2 L1585.9,198.7 L1586.4,198.4 L1586.9,198.0 L1587.4,197.6 L1588.3,198.0 L1589.3,198.6 L1590.2,198.8 L1591.1,199.2 L1592.1,199.6 L1593.0,199.7 L1594.0,200.0 L1594.5,200.6 L1595.0,201.2 L1595.9,201.1 L1596.4,200.7 L1597.4,201.0 L1597.9,201.5 L1598.4,202.0 L1598.9,201.4 L1599.4,200.9 L1599.9,200.4 L1600.4,200.8 L1600.9,201.2 L1601.4,201.6 L1601.9,201.3 L1602.4,200.7 L1602.9,200.2 L1603.9,200.5 L1604.9,200.6 L1605.4,200.1 L1605.8,199.6 L1606.8,199.9 L1607.3,200.3 L1608.3,199.9 L1608.8,199.4 L1609.3,198.9 L1610.3,199.5 L1611.3,199.3 L1611.8,198.8 L1612.3,198.3 L1613.2,199.0 L1613.7,199.5 L1614.7,198.7 L1615.2,198.1 L1616.2,198.4 L1616.7,198.8 L1617.7,198.3 L1618.2,197.8 L1619.2,197.8 L1619.7,198.1 L1620.7,197.9 L1621.2,197.5 L1621.7,197.1 L1622.2,197.5 L1622.7,197.9 L1623.1,198.3 L1623.6,197.8 L1624.1,197.2 L1624.6,196.6 L1625.6,197.2 L1626.1,197.7 L1627.1,197.0 L1627.6,196.5 L1628.6,196.8 L1629.1,197.1 L1630.1,197.1 L1631.1,196.8 L1632.1,196.8 L1633.1,196.2 L1633.6,195.8 L1634.1,195.3 L1634.5,195.7 L1635.0,196.1 L1635.5,196.5 L1636.0,196.2 L1636.5,195.7 L1637.0,195.3 L1638.0,195.7 L1639.0,195.8 L1639.5,195.5 L1640.0,195.1 L1641.0,195.3 L1642.0,195.5 L1642.5,195.0 L1643.0,194.6 L1644.0,194.4 L1645.0,194.5 L1646.0,194.8 L1647.0,195.0 L1648.0,195.2 L1648.5,194.8 L1648.9,194.4 L1649.4,194.0 L1650.4,194.5 L1650.9,194.8 L1651.9,194.2 L1652.4,193.7 L1653.4,194.1 L1653.9,194.5 L1654.9,193.9 L1655.4,193.5 L1656.4,193.7 L1656.9,194.2 L1657.9,194.0 L1658.4,193.7 L1659.4,193.8 L1659.9,194.1 L1660.9,194.0 L1661.4,193.6 L1661.9,193.2 L1662.9,193.8 L1663.4,194.2 L1664.4,193.6 L1664.9,193.2 L1665.9,193.8 L1666.4,194.2 L1667.4,193.7 L1667.9,193.3 L1668.9,193.7 L1669.4,194.0 L1670.4,193.7 L1670.9,193.4 L1671.9,193.6 L1672.9,194.0 L1673.9,194.0 L1674.9,194.1 L1675.9,194.4 L1676.4,194.0 L1676.9,193.6 L1677.4,193.2 L1678.4,193.8 L1678.9,194.2 L1679.9,193.5 L1680.4,193.0 L1681.4,193.7 L1681.9,194.1 L1682.9,193.6 L1683.4,193.2 L1684.4,193.5 L1684.9,193.8 L1685.9,193.6 L1686.4,193.3 L1687.4,193.6 L1687.9,193.9 L1688.9,193.7 L1689.4,193.2 L1689.9,192.9 L1690.4,193.3 L1690.9,193.8 L1691.4,194.2 L1691.9,193.8 L1692.4,193.4 L1692.9,193.1 L1693.9,193.7 L1694.4,194.0 L1695.4,193.4 L1695.9,193.1 L1696.9,193.7 L1697.4,194.0 L1698.4,193.6 L1698.9,193.2 L1699.9,193.6 L1700.4,194.0 L1701.4,193.5 L1701.9,193.1 L1702.9,193.4 L1703.4,193.8 L1704.4,193.7 L1704.9,193.4 L1705.9,193.4 L1706.9,193.9 L1707.4,193.6 L1707.9,193.3 L1708.4,192.9 L1708.9,193.3 L1709.4,193.7 L1709.9,194.1 L1710.9,193.5 L1711.4,193.2 L1712.4,193.7 L1712.9,194.0 L1713.9,194.0 L1714.9,193.8 L1715.9,193.3 L1716.9,193.0 L1717.9,193.0 L1718.4,193.5 L1718.9,193.9 L1719.9,193.8 L1720.4,193.4 L1720.9,193.1 L1721.9,193.2 L1722.9,193.5 L1723.9,194.0 L1724.9,194.0 L1725.9,193.8 L1726.9,193.3 L1727.9,193.8 L1728.4,194.1 L1729.4,193.6 L1729.9,193.2 L1730.9,193.2 L1731.9,193.3 L1732.9,193.0 L1733.9,193.5 L1734.4,193.9 L1735.4,194.1 L1736.4,194.1 L1737.4,194.1 L1738.4,193.9 L1739.4,193.3 L1739.9,193.7 L1740.4,194.0 L1740.9,194.4 L1741.9,193.7 L1742.4,193.4 L1743.4,193.9 L1743.9,194.3 L1744.9,194.3 L1745.9,194.1 L1746.9,194.3 L1747.9,194.0 L1748.4,193.7 L1749.4,193.8 L1750.4,194.3 L1750.9,193.9 L1751.4,193.6 L1752.4,193.9 L1752.9,194.4 L1753.4,194.8 L1753.9,194.4 L1754.4,194.0 L1754.9,193.6 L1755.4,194.0 L1755.9,194.5 L1756.4,195.0 L1757.4,195.0 L1758.4,195.1 L1759.4,195.4 L1760.4,195.4 L1761.3,195.3 L1762.3,195.6 L1763.3,195.4 L1764.3,195.1 L1764.8,195.5 L1765.3,195.9 L1765.8,196.3 L1766.8,195.8 L1767.8,195.8 L1768.3,196.2 L1768.8,196.5 L1769.7,196.3 L1770.7,196.3 L1771.2,196.7 L1771.7,197.0 L1772.7,197.2 L1773.7,197.3 L1774.7,197.6 L1775.7,197.5 L1776.6,197.1 L1777.1,197.5 L1777.6,198.0 L1778.1,198.4 L1779.1,198.0 L1780.1,197.9 L1780.6,198.3 L1781.0,198.8 L1782.0,198.7 L1783.0,198.4 L1783.5,198.9 L1784.0,199.3 L1784.4,199.8 L1785.4,199.9 L1786.4,200.1 L1787.4,200.5 L1788.3,200.2 L1789.3,200.1 L1789.8,200.7 L1790.2,201.2 L1790.7,201.5 L1791.7,201.1 L1792.6,201.2 L1793.6,201.6 L1794.5,201.9 L1795.5,202.3 L1796.0,202.7 L1796.4,203.1 L1797.4,203.3 L1798.3,203.2 L1798.8,203.6 L1799.2,204.0 L1799.7,204.4 L1800.6,204.6 L1801.5,204.6 L1802.0,205.0 L1802.4,205.5 L1802.9,206.0 L1803.8,206.0 L1804.7,206.0 L1805.1,206.5 L1805.5,207.0 L1806.0,207.5 L1806.8,207.7 L1807.7,207.8 L1808.1,208.2 L1808.5,208.7 L1808.9,209.2 L1809.4,209.6 L1810.2,210.1 L1811.0,210.7 L1811.8,211.3 L1812.6,211.8 L1813.4,212.1 L1814.2,212.6 L1814.6,213.1 L1814.9,213.6 L1815.3,214.0 L1816.1,214.5 L1816.8,214.8 L1817.6,215.6 L1818.0,216.1 L1818.3,216.6 L1819.1,217.1 L1819.8,217.6 L1820.5,218.4 L1820.9,218.8 L1821.2,219.3 L1821.6,219.7 L1822.3,220.4 L1823.0,221.0 L1823.7,221.8 L1824.4,222.6 L1825.0,223.2 L1825.7,223.7 L1826.4,224.3 L1827.0,225.2 L1827.7,226.2 L1828.3,226.8 L1829.0,227.5 L1829.6,228.2 L1830.2,229.2 L1830.8,230.1 L1831.4,230.8 L1832.0,231.3 L1832.6,232.0 L1833.2,232.9 L1833.8,233.8 L1834.4,234.6 L1834.9,235.4 L1835.5,236.2 L1836.0,237.2 L1836.6,238.1 L1837.1,239.1 L1837.6,239.8 L1838.1,240.5 L1838.7,241.2 L1839.2,242.2 L1839.7,243.3 L1840.1,244.3 L1840.6,245.2 L1841.1,246.0 L1841.6,246.8 L1842.0,247.7 L1842.5,248.6 L1842.9,249.5 L1843.4,250.3 L1843.8,251.1 L1844.2,251.9 L1844.7,252.7 L1845.1,253.6 L1845.5,254.6 L1845.9,255.7 L1846.3,256.7 L1846.7,257.5 L1847.1,258.4 L1847.5,259.2 L1847.9,260.0 L1848.3,261.0 L1848.7,262.1 L1849.1,263.1 L1849.5,264.2 L1849.9,265.0 L1850.2,265.8 L1850.6,266.6 L1851.0,267.4 L1851.4,268.4 L1851.7,269.4 L1852.1,270.5 L1852.5,271.5 L1852.8,272.4 L1853.2,273.2 L1853.5,274.1 L1853.9,274.9 L1854.3,275.8 L1854.6,276.8 L1855.0,277.8 L1855.3,278.9 L1855.7,279.9 L1856.0,280.8 L1856.3,281.6 L1856.7,282.5 L1857.0,283.3 L1857.4,284.3 L1857.7,285.3 L1858.0,286.3 L1858.4,287.4 L1858.7,288.4 L1859.0,289.4 L1859.3,290.3 L1859.6,291.2 L1860.0,292.1 L1860.3,293.0 L1860.6,294.0 L1860.9,295.0 L1861.2,295.9 L1861.5,296.9 L1861.8,297.8 L1862.1,298.7 L1862.4,299.6 L1862.7,300.5 L1863.0,301.4 L1863.3,302.3 L1863.6,303.3 L1863.9,304.3 L1864.1,305.3 L1864.4,306.3 L1864.7,307.3 L1865.0,308.4 L1865.3,309.2 L1865.5,310.1 L1865.8,311.0 L1866.1,311.9 L1866.4,312.8 L1866.6,313.7 L1866.9,314.8 L1867.2,315.8 L1867.4,316.8 L1867.7,317.9 L1868.0,318.9 L1868.2,319.9 L1868.5,320.8 L1868.8,321.7 L1869.0,322.6 L1869.3,323.5 L1869.6,324.4 L1869.8,325.4 L1870.1,326.4 L1870.3,327.5 L1870.6,328.5 L1870.9,329.5 L1871.1,330.6 L1871.4,331.5 L1871.7,332.4 L1871.9,333.3 L1872.2,334.2 L1872.4,335.1 L1872.7,336.0 L1873.0,337.0 L1873.2,338.0 L1873.5,339.1 L1873.8,340.1 L1874.0,341.2 L1874.3,342.2 L1874.5,343.1 L1874.8,344.0 L1875.1,344.8 L1875.3,345.7 L1875.6,346.6 L1875.9,347.5 L1876.1,348.5 L1876.4,349.6 L1876.7,350.6 L1876.9,351.7 L1877.2,352.7 L1877.5,353.7 L1877.7,354.6 L1878.0,355.5 L1878.2,356.4 L1878.5,357.3 L1878.8,358.2 L1879.0,359.1 L1879.3,360.1 L1879.6,361.2 L1879.8,362.2 L1880.1,363.2 L1880.4,364.3 L1880.6,365.3 L1880.9,366.2 L1881.1,367.0 L1881.4,367.9 L1881.7,368.8 L1881.9,369.7 L1882.2,370.7 L1882.4,371.8 L1882.7,372.8 L1883.0,373.8 L1883.2,374.9 L1883.5,375.9 L1883.8,376.9 L1884.0,377.8 L1884.3,378.7 L1884.5,379.6 L1884.8,380.5 L1885.1,381.4 L1885.3,382.3 L1885.6,383.4 L1885.9,384.4 L1886.1,385.4 L1886.4,386.4 L1886.7,387.4 L1886.9,388.3 L1887.2,389.2 L1887.5,390.1 L1887.8,391.0 L1888.0,391.9 L1888.3,392.8 L1888.6,393.9 L1888.9,394.9 L1889.1,396.0 L1889.4,397.0 L1889.7,398.1 L1890.0,399.0 L1890.3,399.9 L1890.5,400.7 L1890.8,401.6 L1891.1,402.5 L1891.4,403.4 L1891.7,404.4 L1892.0,405.4 L1892.3,406.5 L1892.5,407.5 L1892.8,408.5 L1893.1,409.4 L1893.4,410.3 L1893.7,411.2 L1894.0,412.1 L1894.2,413.0 L1894.5,413.9 L1894.8,415.0 L1895.1,416.0 L1895.3,417.0 L1895.6,418.0 L1895.9,419.1 L1896.1,420.1 L1896.4,421.0 L1896.6,421.9 L1896.9,422.9 L1897.1,423.8 L1897.4,424.8 L1897.6,425.7 L1897.8,426.7 L1898.1,427.7 L1898.3,428.7 L1898.5,429.7 L1898.7,430.7 L1898.9,431.7 L1899.1,432.7 L1899.4,433.6 L1899.6,434.5 L1899.8,435.4 L1900.0,436.3 L1900.2,437.2 L1900.3,438.1 L1900.5,439.0 L1900.7,440.0 L1900.9,441.1 L1901.1,442.1 L1901.3,443.1 L1901.5,444.2 L1901.6,445.2 L1901.8,446.3 L1902.0,447.3 L1902.2,448.4 L1902.4,449.3 L1902.5,450.2 L1902.7,451.2 L1902.9,452.1 L1903.1,453.0 L1903.2,453.9 L1903.4,454.9 L1903.6,455.8 L1903.8,456.7 L1904.0,457.8 L1904.1,458.8 L1904.3,459.9 L1904.5,460.9 L1904.7,461.9 L1904.9,463.0 L1905.0,464.0 L1905.2,465.1 L1905.4,466.1 L1905.6,467.0 L1905.8,467.9 L1906.0,468.8 L1906.2,469.7 L1906.3,470.7 L1906.5,471.6 L1906.7,472.5 L1906.9,473.5 L1907.1,474.5 L1907.3,475.5 L1907.5,476.6 L1907.7,477.6 L1907.9,478.6 L1908.1,479.6 L1908.3,480.7 L1908.5,481.7 L1908.7,482.7 L1908.9,483.6 L1909.1,484.6 L1909.3,485.6 L1909.5,486.5 L1909.7,487.5 L1909.9,488.5 L1910.1,489.5 L1910.3,490.4 L1910.5,491.4 L1910.7,492.4 L1910.9,493.4 L1911.1,494.4 L1911.3,495.4 L1911.6,496.3 L1911.8,497.3 L1912.0,498.3 L1912.2,499.3 L1912.4,500.2 L1912.6,501.2 L1912.8,502.2 L1913.0,503.2 L1913.3,504.2 L1913.5,505.2 L1913.7,506.2 L1913.9,507.1 L1914.1,508.1 L1914.3,509.1 L1914.5,510.1 L1914.8,511.1 L1915.0,512.0 L1915.2,512.9 L1915.4,513.8 L1915.6,514.7 L1915.8,515.6 L1916.1,516.5 L1916.3,517.5 L1916.5,518.5 L1916.7,519.5 L1916.9,520.6 L1917.2,521.6 L1917.4,522.6 L1917.6,523.7 L1917.8,524.6 L1918.0,525.6 L1918.3,526.5 L1918.5,527.4 L1918.7,528.3 L1918.9,529.2 L1919.1,530.1 L1919.3,531.1 L1919.6,532.2 L1919.8,533.2 L1920.0,534.3 L1920.2,535.3 L1920.4,536.4 L1920.7,537.4 L1920.9,538.4 L1921.1,539.3 L1921.3,540.2 L1921.5,541.1 L1921.8,542.0 L1922.0,543.0 L1922.2,543.9 L1922.4,544.8 L1922.6,545.9 L1922.9,546.9 L1923.1,547.9 L1923.3,549.0 L1923.5,550.0 L1923.7,551.0 L1924.0,552.0 L1924.2,553.0 L1924.4,553.9 L1924.6,554.8 L1924.8,555.7 L1925.1,556.6 L1925.3,557.6 L1925.5,558.5 L1925.7,559.5 L1926.0,560.6 L1926.2,561.6 L1926.4,562.6 L1926.6,563.7 L1926.9,564.7 L1927.1,565.7 L1927.3,566.6 L1927.6,567.5 L1927.8,568.4 L1928.0,569.3 L1928.3,570.3 L1928.5,571.2 L1928.7,572.2 L1928.9,573.2 L1929.2,574.2 L1929.4,575.2 L1929.7,576.3 L1929.9,577.3 L1930.1,578.3 L1930.4,579.2 L1930.6,580.1 L1930.8,581.0 L1931.1,581.9 L1931.3,582.8 L1931.5,583.7 L1931.8,584.7 L1932.0,585.7 L1932.3,586.8 L1932.5,587.8 L1932.7,588.9 L1933.0,589.9 L1933.2,591.0 L1933.5,591.9 L1933.7,592.8 L1934.0,593.7 L1934.2,594.6 L1934.4,595.5 L1934.7,596.4 L1934.9,597.4 L1935.2,598.4 L1935.4,599.5 L1935.7,600.5 L1935.9,601.6 L1936.1,602.6 L1936.4,603.6 L1936.6,604.5 L1936.9,605.4 L1937.1,606.3 L1937.4,607.1 L1937.6,608.0 L1937.9,608.9 L1938.1,610.0 L1938.3,611.0 L1938.6,612.1 L1938.8,613.1 L1939.1,614.2 L1939.3,615.2 L1939.6,616.2 L1939.8,617.1 L1940.1,618.0 L1940.3,618.8 L1940.6,619.7 L1940.8,620.6 L1941.1,621.6 L1941.3,622.6 L1941.6,623.7 L1941.8,624.7 L1942.1,625.7 L1942.3,626.8 L1942.6,627.8 L1942.8,628.7 L1943.1,629.6 L1943.3,630.5 L1943.6,631.3 L1943.8,632.2 L1944.1,633.1 L1944.3,634.2 L1944.6,635.2 L1944.8,636.2 L1945.1,637.3 L1945.3,638.3 L1945.6,639.3 L1945.9,640.2 L1946.1,641.1 L1946.4,642.1 L1946.6,643.0 L1946.9,643.9 L1947.1,644.8 L1947.4,645.8 L1947.7,646.8 L1947.9,647.9 L1948.2,648.9 L1948.4,649.9 L1948.7,650.9 L1949.0,651.8 L1949.2,652.7 L1949.5,653.6 L1949.8,654.6 L1950.0,655.5 L1950.3,656.4 L1950.5,657.4 L1950.8,658.5 L1951.1,659.5 L1951.3,660.6 L1951.6,661.6 L1951.9,662.6 L1952.1,663.5 L1952.4,664.4 L1952.7,665.2 L1952.9,666.1 L1953.2,667.0 L1953.5,667.9 L1953.7,669.0 L1954.0,670.0 L1954.2,671.1 L1954.5,672.1 L1954.8,673.2 L1955.0,674.1 L1955.3,675.0 L1955.6,675.9 L1955.8,676.7 L1956.1,677.6 L1956.3,678.5 L1956.6,679.5 L1956.9,680.5 L1957.1,681.5 L1957.4,682.6 L1957.6,683.6 L1957.9,684.7 L1958.2,685.6 L1958.4,686.5 L1958.7,687.4 L1958.9,688.3 L1959.2,689.2 L1959.5,690.1 L1959.7,691.1 L1960.0,692.1 L1960.2,693.2 L1960.5,694.2 L1960.8,695.3 L1961.0,696.3 L1961.3,697.3 L1961.5,698.2 L1961.8,699.1 L1962.0,700.0 L1962.3,700.9 L1962.6,701.7 L1962.8,702.7 L1963.1,703.7 L1963.3,704.6 L1963.6,705.6 L1963.8,706.6 L1964.1,707.6 L1964.4,708.5 L1964.6,709.5 L1964.9,710.4 L1965.1,711.4 L1965.4,712.3 L1965.7,713.3 L1965.9,714.3 L1966.2,715.3 L1966.4,716.4 L1966.7,717.4 L1967.0,718.5 L1967.2,719.5 L1967.5,720.5 L1967.7,721.3 L1968.0,722.2 L1968.3,723.1 L1968.5,724.0 L1968.8,724.9 L1969.0,725.9 L1969.3,726.9 L1969.6,728.0 L1969.8,729.0 L1970.1,730.1 L1970.4,731.2 L1970.6,732.1 L1970.9,732.9 L1971.2,733.8 L1971.4,734.7 L1971.7,735.6 L1972.0,736.5 L1972.2,737.5 L1972.5,738.6 L1972.8,739.6 L1973.1,740.7 L1973.3,741.7 L1973.6,742.7 L1973.9,743.6 L1974.2,744.4 L1974.4,745.3 L1974.7,746.2 L1975.0,747.1 L1975.3,748.1 L1975.5,749.1 L1975.8,750.2 L1976.1,751.2 L1976.4,752.3 L1976.7,753.3 L1977.0,754.1 L1977.3,755.0 L1977.5,755.8 L1977.8,756.7 L1978.1,757.5 L1978.4,758.6 L1978.7,759.6 L1979.0,760.7 L1979.3,761.7 L1979.6,762.8 L1979.9,763.7 L1980.2,764.5 L1980.5,765.4 L1980.8,766.2 L1981.1,767.1 L1981.4,768.0 L1981.7,769.1 L1982.0,770.1 L1982.3,771.2 L1982.6,772.3 L1982.9,773.2 L1983.2,774.1 L1983.6,775.0 L1983.9,775.8 L1984.2,776.7 L1984.5,777.7 L1984.8,778.7 L1985.1,779.7 L1985.4,780.7 L1985.7,781.8 L1986.1,782.7 L1986.4,783.6 L1986.7,784.5 L1987.0,785.3 L1987.3,786.2 L1987.6,787.1 L1988.0,788.2 L1988.3,789.2 L1988.6,790.3 L1988.9,791.3 L1989.2,792.3 L1989.5,793.1 L1989.9,794.0 L1990.2,794.8 L1990.5,795.7 L1990.8,796.7 L1991.2,797.7 L1991.5,798.7 L1991.8,799.8 L1992.1,800.8 L1992.5,801.6 L1992.8,802.5 L1993.1,803.3 L1993.4,804.2 L1993.8,805.1 L1994.1,806.1 L1994.4,807.1 L1994.8,808.1 L1995.1,809.2 L1995.4,810.1 L1995.7,810.9 L1996.1,811.8 L1996.4,812.7 L1996.7,813.5 L1997.1,814.6 L1997.4,815.6 L1997.8,816.6 L1998.1,817.7 L1998.4,818.7 L1998.8,819.5 L1999.1,820.3 L1999.5,821.2 L1999.8,822.0 L2000.1,823.1 L2000.5,824.1 L2000.8,825.2 L2001.2,826.2 L2001.5,827.2 L2001.9,828.0 L2002.2,828.8 L2002.6,829.7 L2002.9,830.5 L2003.3,831.5 L2003.6,832.6 L2004.0,833.6 L2004.4,834.6 L2004.7,835.5 L2005.1,836.4 L2005.4,837.2 L2005.8,838.0 L2006.2,838.9 L2006.5,839.9 L2006.9,841.0 L2007.2,842.0 L2007.6,843.0 L2008.0,843.9 L2008.4,844.8 L2008.7,845.7 L2009.1,846.6 L2009.5,847.6 L2009.8,848.5 L2010.2,849.5 L2010.6,850.4 L2011.0,851.4 L2011.4,852.3 L2011.7,853.2 L2012.1,854.1 L2012.5,855.0 L2012.9,855.9 L2013.3,856.8 L2013.7,857.7 L2014.1,858.6 L2014.4,859.4 L2014.8,860.3 L2015.2,861.1 L2015.6,862.1 L2016.0,863.1 L2016.4,864.1 L2016.8,865.2 L2017.2,866.0 L2017.6,866.8 L2018.0,867.6 L2018.4,868.4 L2018.8,869.4 L2019.2,870.3 L2019.6,871.2 L2020.1,872.1 L2020.5,873.0 L2020.9,873.9 L2021.3,874.7 L2021.7,875.7 L2022.1,876.7 L2022.5,877.7 L2023.0,878.7 L2023.4,879.7 L2023.8,880.6 L2024.2,881.5 L2024.7,882.4 L2025.1,883.3 L2025.5,884.2 L2025.9,885.2 L2026.4,886.1 L2026.8,887.0 L2027.3,887.8 L2027.7,888.7 L2028.1,889.6 L2028.6,890.5 L2029.0,891.4 L2029.5,892.2 L2029.9,893.0 L2030.4,893.8 L2030.8,894.5 L2031.3,895.5 L2031.7,896.4 L2032.2,897.4 L2032.6,898.3 L2033.1,899.3 L2033.5,900.2 L2034.0,901.1 L2034.5,902.1 L2034.9,903.0 L2035.4,903.9 L2035.9,904.7 L2036.3,905.5 L2036.8,906.3 L2037.3,907.1 L2037.7,908.1 L2038.2,909.1 L2038.7,910.0 L2039.2,910.7 L2039.7,911.5 L2040.2,912.2 L2040.6,913.1 L2041.1,914.0 L2041.6,915.0 L2042.1,915.8 L2042.6,916.6 L2043.1,917.5 L2043.6,918.5 L2044.1,919.5 L2044.6,920.5 L2045.1,921.3 L2045.6,922.1 L2046.1,922.8 L2046.7,923.7 L2047.2,924.7 L2047.7,925.7 L2048.2,926.5 L2048.7,927.2 L2049.3,927.8 L2049.8,928.7 L2050.3,929.7 L2050.8,930.7 L2051.4,931.5 L2051.9,932.2 L2052.5,933.0 L2053.0,933.9 L2053.5,934.9 L2054.1,935.9 L2054.6,936.5 L2055.2,937.2 L2055.7,937.9 L2056.3,938.9 L2056.8,939.9 L2057.4,940.7 L2058.0,941.4 L2058.5,942.1 L2059.1,942.9 L2059.7,943.9 L2060.2,944.9 L2060.8,945.7 L2061.4,946.5 L2061.9,947.4 L2062.5,948.2 L2063.1,949.1 L2063.7,949.9 L2064.2,950.6 L2064.8,951.4 L2065.4,952.2 L2066.0,953.0 L2066.6,953.9 L2067.2,954.6 L2067.8,955.4 L2068.4,956.2 L2069.0,957.1 L2069.6,958.0 L2070.2,958.6 L2070.8,959.2 L2071.4,959.9 L2072.1,960.9 L2072.7,961.8 L2073.3,962.4 L2074.0,963.0 L2074.6,963.8 L2075.3,964.7 L2076.0,965.5 L2076.6,966.0 L2077.3,966.6 L2078.0,967.5 L2078.3,967.9 L2078.7,968.4 L2079.4,969.1 L2080.1,969.6 L2080.8,970.3 L2081.5,971.2 L2082.3,971.9 L2083.0,972.3 L2083.8,972.9 L2084.1,973.3 L2084.5,973.7 L2084.9,974.2 L2085.7,974.7 L2086.4,975.2 L2087.2,975.9 L2088.0,976.7 L2088.8,977.1 L2089.6,977.5 L2090.4,978.3 L2090.8,978.7 L2091.2,979.1 L2092.1,979.5 L2092.9,979.9 L2093.7,980.7 L2094.6,981.3 L2095.4,981.6 L2096.3,982.1 L2097.1,982.8 L2098.0,983.4 L2098.8,983.9 L2099.7,984.3 L2100.6,984.6 L2101.4,985.1 L2102.3,985.6 L2103.2,986.3 L2104.0,986.8 L2104.9,987.0 L2105.8,987.6 L2106.7,988.3 L2107.6,988.5 L2108.4,988.8 L2108.9,989.2 L2109.3,989.6 L2109.8,990.0 L2110.7,990.2 L2111.6,990.4 L2112.5,991.0 L2113.4,991.4 L2114.4,991.4 L2115.3,991.8 L2116.3,992.1 L2117.2,992.4 L2118.2,992.7 L2119.2,993.0 L2120.2,993.0 L2121.2,993.1 L2122.2,993.4 L2123.2,993.5 L2124.2,993.6 L2125.2,993.8 L2126.2,993.6 L2127.2,993.4 L2128.2,993.7 L2129.2,993.5 L2130.2,993.1 L2131.1,993.3 L2132.1,993.2 L2133.1,992.8 L2134.1,993.1 L2134.9,993.7 L2135.6,994.5 L2136.3,995.4 L2137.0,996.2 L2137.6,997.0 L2137.7,997.2" stroke="#000000" stroke-width="3.9"/>
</g>
<rect x="219.4" y="23.9" width="1921.4499999999998" height="3.2" fill="#8c8c8c"/>
<rect x="219.4" y="27.1" width="1921.4499999999998" height="2.8" fill="#000"/>
<rect x="219.4" y="29.9" width="1921.4499999999998" height="3.0" fill="#b4b4b4"/>
<path d="M222.15,27.1 V1364.25 H2138.1 V27.1" fill="none" stroke="#1c1c1c" stroke-width="5.5" stroke-linejoin="miter"/>
<path d="M222.2,1364.25 V1390.5 M488.4,1364.25 V1390.5 M754.5,1364.25 V1390.5 M1020.7,1364.25 V1390.5 M1286.9,1364.25 V1390.5 M1553.1,1364.25 V1390.5 M1819.2,1364.25 V1390.5 M2085.4,1364.25 V1390.5 M355.3,1364.25 V1378 M621.5,1364.25 V1378 M887.6,1364.25 V1378 M1153.8,1364.25 V1378 M1420.0,1364.25 V1378 M1686.1,1364.25 V1378 M1952.3,1364.25 V1378 M222.15,1315.5 H195.3 M222.15,1067.8 H195.3 M222.15,820.2 H195.3 M222.15,572.5 H195.3 M222.15,324.9 H195.3 M222.15,77.2 H195.3 M222.15,1191.7 H208 M222.15,944.0 H208 M222.15,696.4 H208 M222.15,448.7 H208 M222.15,201.0 H208" fill="none" stroke="#1c1c1c" stroke-width="4.5"/>
<path d="M975,1178.5 H1132" stroke="#ff0000" stroke-width="4.3" fill="none"/>
<path d="M975,1260.2 H1132" stroke="#1a1a1a" stroke-width="3.9" fill="none"/>
<path d="M612.3,835.0 L600.1,797.7" stroke="#333" stroke-width="1.6" fill="none"/><path d="M589.8,766.3 L607.9,795.1 L592.2,800.2 Z" fill="#000"/>
<path d="M687.0,1310.0 L637.7,1263.3" stroke="#333" stroke-width="1.6" fill="none"/><path d="M613.7,1240.6 L643.3,1257.3 L632.0,1269.3 Z" fill="#000"/>
<path d="M1466.3,758.5 L1476.1,708.7" stroke="#333" stroke-width="1.6" fill="none"/><path d="M1482.5,676.3 L1484.2,710.3 L1468.0,707.1 Z" fill="#000"/>
<path d="M1580.2,386.0 L1590.3,336.0" stroke="#333" stroke-width="1.6" fill="none"/><path d="M1596.8,303.6 L1598.4,337.6 L1582.2,334.3 Z" fill="#000"/>
<path d="M1737.7,364.5 L1704.0,303.2" stroke="#333" stroke-width="1.6" fill="none"/><path d="M1688.1,274.3 L1711.2,299.2 L1696.8,307.2 Z" fill="#000"/>
<path d="M2058.6,772.0 L2054.3,729.8" stroke="#333" stroke-width="1.6" fill="none"/><path d="M2051.0,697.0 L2062.5,729.0 L2046.1,730.7 Z" fill="#000"/>
<path d="M1994.0,1033.0 L2061.8,1006.5" stroke="#333" stroke-width="1.6" fill="none"/><path d="M2092.5,994.5 L2064.8,1014.2 L2058.8,998.8 Z" fill="#000"/>
</svg></body></html>
